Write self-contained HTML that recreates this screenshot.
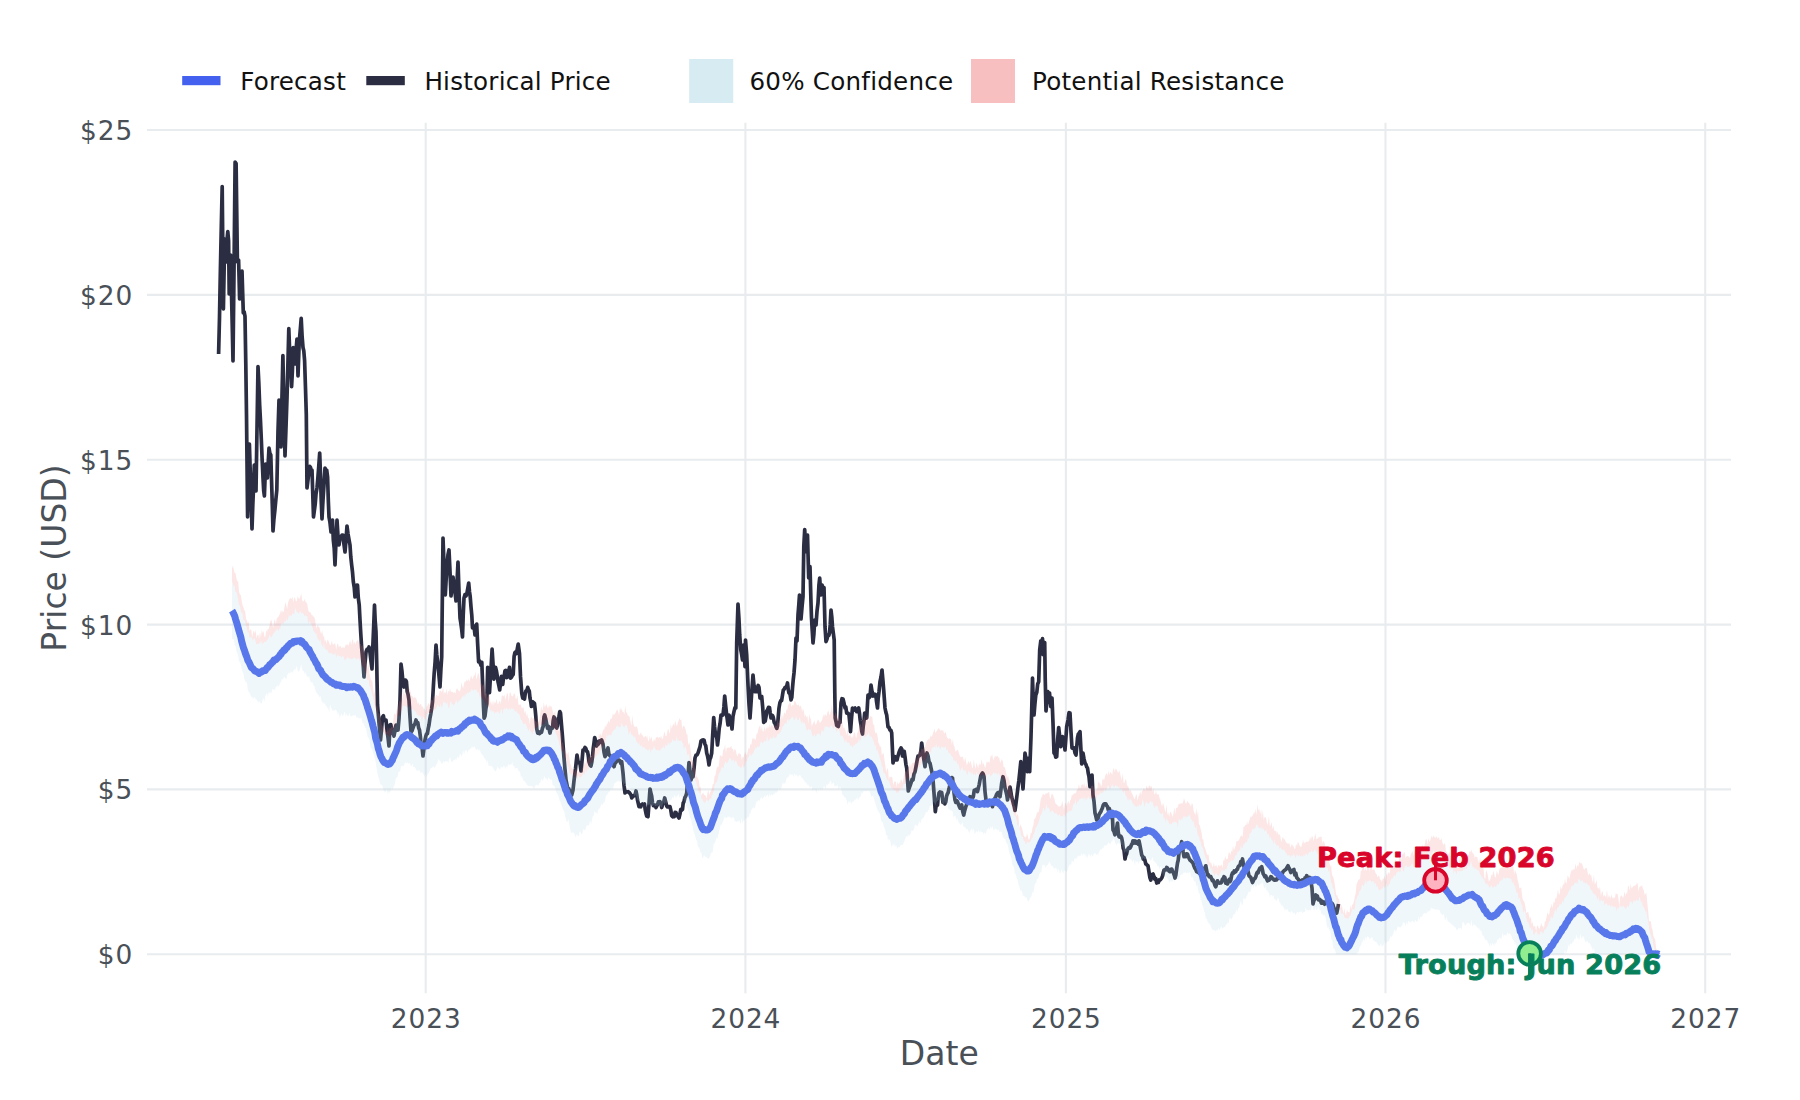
<!DOCTYPE html>
<html lang="en"><head><meta charset="utf-8"><title>Price Forecast</title>
<style>
html,body{margin:0;padding:0;background:#fff;}
body{width:1800px;height:1100px;overflow:hidden;}
svg{display:block;font-family:"DejaVu Sans","Liberation Sans",sans-serif;}
.tick{font-size:26.4px;fill:#495057;letter-spacing:0.9px;}
.axt{font-size:33px;fill:#495057;}
.leg{font-size:24.6px;fill:#111;letter-spacing:0.22px;}
.ann{font-size:27.2px;font-weight:bold;letter-spacing:0.15px;stroke-width:0.9px;stroke-linejoin:round;}
</style></head><body>
<svg width="1800" height="1100" viewBox="0 0 1800 1100">
<rect width="1800" height="1100" fill="#ffffff"/>
<g stroke="#e9ecef" stroke-width="2.1" fill="none"><line x1="147" x2="1731" y1="954.3" y2="954.3"/><line x1="147" x2="1731" y1="789.4" y2="789.4"/><line x1="147" x2="1731" y1="624.6" y2="624.6"/><line x1="147" x2="1731" y1="459.8" y2="459.8"/><line x1="147" x2="1731" y1="294.9" y2="294.9"/><line x1="147" x2="1731" y1="130.0" y2="130.0"/><line x1="425.7" x2="425.7" y1="122.7" y2="993.3"/><line x1="745.4" x2="745.4" y1="122.7" y2="993.3"/><line x1="1065.9" x2="1065.9" y1="122.7" y2="993.3"/><line x1="1385.5" x2="1385.5" y1="122.7" y2="993.3"/><line x1="1705.2" x2="1705.2" y1="122.7" y2="993.3"/></g>
<path d="M218.6,354.0 L219.5,317.5 L220.4,269.3 L221.3,226.7 L222.2,186.5 L223.4,309.0 L224.7,239.0 L226.0,262.0 L227.0,240.0 L227.8,231.6 L228.6,241.0 L229.2,294.0 L229.9,274.5 L230.6,255.0 L231.4,289.3 L232.2,324.0 L233.0,361.0 L234.1,262.5 L235.1,162.0 L236.1,163.5 L237.4,262.0 L238.6,260.0 L239.6,299.0 L240.4,291.0 L241.2,276.9 L242.0,271.0 L243.3,313.0 L244.2,312.0 L245.0,316.4 L245.8,364.1 L246.5,414.6 L247.6,517.0 L248.5,482.2 L249.4,444.0 L250.3,473.7 L251.1,497.5 L252.0,529.0 L252.8,505.0 L253.5,488.1 L254.3,465.0 L255.2,481.9 L256.0,491.0 L257.0,428.7 L258.0,366.5 L258.8,382.7 L259.7,405.9 L260.5,421.0 L261.3,439.2 L262.2,460.9 L263.0,478.0 L263.7,490.8 L264.4,496.0 L265.6,464.0 L266.5,472.6 L267.4,478.0 L268.2,463.2 L269.0,448.0 L269.9,453.4 L270.8,455.0 L271.5,478.7 L272.3,505.2 L273.0,531.0 L273.9,519.4 L274.9,510.0 L275.9,499.1 L276.8,490.0 L278.0,431.0 L279.0,400.0 L280.0,423.0 L281.0,447.0 L281.9,400.2 L282.9,355.6 L283.9,406.0 L285.0,456.0 L286.0,427.2 L287.0,398.0 L287.9,364.2 L288.8,328.6 L289.7,352.1 L290.7,362.9 L291.6,386.7 L292.4,370.8 L293.2,347.5 L294.0,355.0 L294.8,363.8 L295.5,351.9 L296.3,346.8 L297.0,339.0 L298.0,376.0 L299.2,342.5 L300.2,330.7 L301.2,318.3 L302.1,336.1 L303.0,347.5 L303.8,350.9 L304.6,360.6 L305.5,388.2 L306.3,414.6 L307.0,488.0 L308.0,479.8 L309.0,471.0 L309.7,466.4 L310.5,467.4 L311.2,470.0 L312.0,470.0 L312.8,495.0 L313.5,517.0 L314.3,511.0 L315.2,504.3 L316.0,494.0 L317.0,488.0 L317.9,477.7 L318.8,465.7 L319.7,453.0 L320.5,475.3 L321.2,499.9 L322.0,519.0 L323.0,500.0 L324.0,484.7 L325.0,468.0 L325.9,472.0 L326.7,470.1 L327.6,477.0 L328.3,500.2 L329.0,517.0 L330.0,522.7 L331.0,532.0 L331.8,525.8 L332.5,520.0 L333.3,539.9 L334.2,548.2 L335.0,565.0 L336.0,541.3 L337.0,520.0 L338.0,536.1 L339.0,545.0 L340.0,538.6 L341.0,537.0 L342.0,535.0 L343.0,535.0 L344.0,544.7 L345.0,552.0 L346.0,540.0 L347.0,526.0 L348.0,533.7 L349.0,539.5 L350.0,545.0 L350.8,557.0 L351.7,565.2 L352.5,572.0 L353.3,581.6 L354.2,587.2 L355.0,597.0 L355.8,591.5 L356.7,585.0 L357.5,585.0 L358.3,598.1 L359.2,604.7 L360.0,620.0 L360.8,634.0 L361.7,648.1 L362.5,657.0 L363.2,665.1 L364.0,677.0 L365.0,663.3 L366.0,652.0 L367.0,649.4 L368.0,650.2 L369.0,647.0 L370.0,652.7 L371.0,661.4 L372.0,669.0 L372.8,646.7 L373.7,625.8 L374.5,605.0 L375.2,621.0 L376.0,632.0 L376.8,666.8 L377.5,705.0 L378.5,716.8 L379.5,728.8 L380.5,740.0 L381.5,729.8 L382.5,717.0 L383.4,715.7 L384.2,720.3 L385.1,719.9 L386.0,720.0 L387.0,730.0 L388.0,737.4 L389.0,746.0 L390.0,725.0 L390.8,724.6 L391.6,728.4 L392.4,732.9 L393.2,733.9 L394.0,736.0 L395.0,730.4 L396.0,725.0 L397.0,730.3 L398.0,730.0 L399.0,718.6 L400.0,700.0 L401.0,664.0 L402.0,671.6 L403.0,682.7 L404.0,687.0 L404.8,680.0 L405.5,680.0 L406.4,681.5 L407.2,691.5 L408.1,694.6 L409.0,700.0 L410.0,716.9 L411.0,732.0 L412.0,730.8 L413.0,728.0 L414.0,725.2 L415.0,723.8 L416.0,720.0 L416.9,722.7 L417.8,722.6 L418.6,727.8 L419.5,730.0 L420.4,736.8 L421.2,745.8 L422.1,747.8 L423.0,756.0 L424.0,748.0 L425.0,740.0 L425.8,736.3 L426.6,733.8 L427.4,733.6 L428.2,728.6 L429.0,725.0 L429.9,718.5 L430.8,713.8 L431.6,709.0 L432.5,702.0 L433.4,686.0 L434.2,673.0 L435.1,662.1 L436.0,645.0 L436.8,655.0 L437.6,661.7 L438.4,669.3 L439.2,678.3 L440.0,687.0 L440.9,669.2 L441.7,657.0 L443.0,538.0 L443.8,559.1 L444.5,576.7 L445.3,595.0 L446.1,580.3 L447.0,565.0 L448.0,554.7 L449.0,550.0 L450.0,571.5 L451.0,596.0 L452.0,587.6 L453.0,577.0 L454.0,585.5 L455.0,592.0 L456.0,601.0 L457.0,582.6 L458.0,562.0 L459.0,591.9 L460.0,618.0 L460.8,623.0 L461.7,629.6 L462.5,637.0 L463.2,615.8 L464.0,598.0 L465.0,594.6 L466.0,596.0 L466.9,593.3 L467.8,588.4 L468.7,583.0 L469.5,591.7 L470.2,596.6 L471.0,607.0 L471.8,615.4 L472.5,628.0 L473.2,626.9 L474.0,626.0 L475.0,635.0 L475.9,628.7 L476.7,624.0 L477.6,643.1 L478.6,661.8 L479.4,660.7 L480.2,663.2 L481.0,665.4 L481.8,662.3 L482.7,685.5 L483.4,704.4 L484.1,718.2 L485.0,716.0 L485.9,708.6 L486.8,703.6 L487.7,667.3 L488.6,681.6 L489.5,692.7 L490.4,677.5 L491.2,665.3 L492.1,649.1 L493.0,663.4 L493.9,679.1 L494.7,672.3 L495.5,667.3 L496.4,670.7 L497.3,676.4 L498.1,682.2 L498.9,685.9 L499.7,690.0 L500.5,683.5 L501.4,676.4 L502.7,684.5 L503.5,678.0 L504.2,675.7 L505.0,670.9 L505.8,670.4 L506.7,677.6 L507.5,677.0 L508.5,671.9 L509.5,667.3 L510.5,678.2 L511.4,677.3 L512.3,675.5 L513.2,674.5 L514.1,656.4 L514.9,652.6 L515.6,652.0 L516.4,653.6 L517.3,648.8 L518.2,644.1 L519.5,653.6 L520.5,676.4 L521.8,693.6 L522.7,698.0 L523.6,695.4 L524.5,699.1 L525.2,693.8 L525.9,690.9 L526.8,690.5 L527.7,687.4 L528.6,690.0 L529.3,691.2 L530.0,698.2 L530.7,701.6 L531.4,706.4 L532.7,701.8 L533.6,702.6 L534.5,703.6 L535.2,709.8 L535.9,717.3 L536.8,729.1 L537.7,733.0 L538.6,731.8 L539.5,733.6 L540.5,732.3 L541.5,732.4 L542.5,728.0 L543.2,726.4 L544.0,716.8 L544.7,715.0 L545.7,718.9 L546.7,724.0 L547.5,728.1 L548.4,726.3 L549.2,729.3 L550.0,733.0 L550.8,729.3 L551.7,727.5 L552.5,728.0 L553.2,720.7 L554.0,717.0 L554.9,720.9 L555.8,726.3 L556.7,728.0 L557.5,725.4 L558.3,718.0 L559.0,716.4 L559.8,711.5 L560.5,713.0 L561.5,724.9 L562.5,737.0 L563.2,747.0 L564.0,758.0 L565.0,769.5 L566.0,780.0 L567.0,784.8 L568.0,790.0 L568.9,788.8 L569.9,793.1 L570.8,791.0 L571.7,795.0 L573.0,790.0 L573.9,781.6 L574.7,775.0 L575.5,768.8 L576.2,762.2 L577.0,755.0 L578.0,761.3 L579.0,763.0 L580.0,763.6 L581.0,771.0 L582.0,761.0 L583.0,750.0 L584.0,749.8 L585.0,747.5 L585.8,748.4 L586.7,751.3 L587.5,751.7 L588.2,755.1 L589.0,761.7 L590.0,764.8 L591.0,766.0 L591.8,762.1 L592.5,756.7 L593.2,748.8 L594.0,742.9 L594.7,737.5 L595.7,741.5 L596.7,746.0 L597.5,743.3 L598.2,744.3 L599.0,741.0 L599.9,740.9 L600.8,742.3 L601.7,740.0 L603.0,744.0 L604.0,752.1 L605.0,756.7 L606.0,753.9 L607.0,750.6 L608.0,748.0 L609.0,755.0 L609.9,755.3 L610.8,757.2 L611.7,760.0 L612.5,761.1 L613.2,765.0 L614.0,766.7 L615.0,763.2 L616.0,762.3 L617.0,760.0 L617.9,760.6 L618.9,760.0 L619.8,760.7 L620.8,763.5 L621.7,761.7 L623.0,773.0 L624.0,785.2 L625.0,793.0 L626.0,791.5 L627.0,791.9 L628.0,791.7 L629.0,792.3 L630.0,793.5 L631.0,795.0 L631.8,797.9 L632.5,796.7 L633.4,796.2 L634.2,795.5 L635.1,794.8 L636.0,791.0 L636.8,794.9 L637.5,800.0 L638.2,803.1 L639.0,806.7 L639.9,806.1 L640.8,806.7 L641.6,804.6 L642.5,804.0 L643.5,804.8 L644.5,804.0 L645.2,809.5 L646.0,813.5 L646.7,816.0 L648.0,816.7 L649.0,803.4 L650.0,789.0 L650.8,792.6 L651.7,796.3 L652.5,803.0 L653.4,805.6 L654.2,805.8 L655.1,805.2 L656.0,807.5 L656.8,805.7 L657.6,804.6 L658.4,801.8 L659.2,803.2 L660.0,801.7 L660.9,803.6 L661.7,807.5 L662.7,804.0 L663.7,802.1 L664.7,798.0 L665.7,801.9 L666.7,806.0 L667.5,806.9 L668.4,806.9 L669.2,806.6 L670.0,806.7 L670.8,810.1 L671.7,815.7 L672.5,816.7 L673.4,815.4 L674.2,816.6 L675.1,812.4 L676.0,812.5 L677.0,815.3 L678.0,816.4 L679.0,818.0 L679.9,814.4 L680.8,809.3 L681.7,810.0 L682.5,809.3 L683.2,803.0 L684.0,801.7 L684.9,797.5 L685.8,796.1 L686.7,793.0 L687.5,782.9 L688.2,773.1 L689.0,762.5 L690.0,770.9 L691.0,780.0 L692.0,776.3 L693.0,776.7 L694.0,768.6 L695.0,758.0 L696.0,755.0 L697.0,755.0 L698.0,753.0 L699.0,749.9 L700.0,746.8 L701.0,741.0 L702.0,740.3 L703.0,739.9 L704.0,740.0 L704.9,744.0 L705.8,745.9 L706.7,753.0 L707.5,755.9 L708.2,759.5 L709.0,765.0 L709.9,759.3 L710.8,757.2 L711.7,753.0 L712.7,734.8 L713.7,717.5 L714.5,726.2 L715.2,732.2 L716.0,736.0 L716.8,737.6 L717.5,745.0 L718.4,737.7 L719.2,728.4 L720.1,723.4 L721.0,715.0 L722.0,715.3 L723.0,715.0 L723.9,707.0 L724.7,696.0 L725.7,706.0 L726.7,715.0 L728.0,725.0 L729.0,715.0 L729.8,717.7 L730.5,718.0 L731.2,723.0 L732.0,729.0 L733.0,716.3 L734.0,711.7 L734.9,707.9 L735.8,708.0 L736.7,643.0 L738.0,604.0 L738.9,617.8 L739.7,635.0 L740.8,650.0 L741.6,654.1 L742.5,660.0 L743.5,645.0 L744.2,654.0 L745.0,666.7 L745.5,640.0 L746.7,655.0 L748.0,685.0 L749.0,704.2 L750.0,718.0 L750.9,705.2 L751.7,693.0 L753.0,675.0 L754.0,685.6 L755.0,691.7 L755.8,689.7 L756.7,691.7 L757.5,687.5 L758.2,685.4 L759.0,687.5 L760.0,698.0 L760.9,698.3 L761.7,696.5 L762.7,707.3 L763.7,722.5 L764.5,721.3 L765.2,721.2 L766.0,716.7 L766.8,710.7 L767.5,710.0 L768.5,707.3 L769.5,707.5 L770.2,713.1 L771.0,718.0 L771.8,717.5 L772.5,715.5 L773.3,717.5 L774.2,722.4 L775.1,723.7 L776.0,726.7 L776.8,728.4 L777.5,726.0 L778.2,717.5 L779.0,708.0 L779.9,702.8 L780.8,700.7 L781.6,700.6 L782.5,695.0 L783.3,690.1 L784.2,689.2 L785.0,687.5 L785.8,687.0 L786.7,686.3 L787.5,683.0 L788.2,689.4 L789.0,693.0 L790.0,694.0 L791.0,700.0 L791.8,697.5 L792.5,688.0 L793.2,680.2 L794.0,673.0 L795.0,660.0 L796.0,638.0 L797.0,641.0 L798.0,615.0 L798.8,605.0 L799.5,595.0 L800.2,607.0 L801.0,619.0 L802.0,607.4 L803.0,596.7 L803.8,546.7 L804.7,529.7 L806.0,551.7 L806.8,541.2 L807.5,535.0 L808.7,578.0 L810.0,566.7 L811.0,603.0 L811.5,618.0 L812.2,629.9 L813.0,643.0 L813.9,634.0 L814.7,620.0 L816.0,625.0 L817.0,611.3 L818.0,603.0 L818.9,585.5 L819.7,578.0 L820.8,595.0 L822.0,585.0 L823.0,587.4 L824.0,587.5 L825.0,626.7 L826.0,641.7 L827.0,639.0 L828.0,635.0 L828.8,635.4 L829.5,633.0 L830.2,624.9 L831.0,610.0 L831.8,616.9 L832.5,626.7 L833.4,633.7 L834.2,640.0 L834.8,693.0 L835.2,718.0 L836.0,721.5 L836.7,725.3 L837.5,726.0 L838.3,726.5 L839.2,722.3 L840.0,722.5 L841.0,703.0 L842.0,698.7 L843.0,699.0 L844.0,703.0 L845.0,708.0 L845.8,707.0 L846.7,713.1 L847.5,713.0 L848.2,713.4 L849.0,715.0 L849.8,722.8 L850.5,731.7 L851.5,718.4 L852.5,708.0 L853.3,710.5 L854.2,708.5 L855.0,708.0 L855.9,709.2 L856.7,711.7 L857.7,710.9 L858.7,708.0 L859.5,713.5 L860.2,720.3 L861.0,725.0 L861.8,731.6 L862.5,734.0 L863.2,726.6 L864.0,720.8 L864.7,713.0 L865.7,716.3 L866.7,718.0 L868.0,695.0 L869.0,697.7 L870.0,696.5 L871.0,685.0 L872.0,691.5 L873.0,696.0 L873.9,695.7 L874.9,694.2 L875.8,695.0 L876.6,702.0 L877.5,708.0 L878.2,698.1 L879.0,691.7 L880.0,681.7 L881.0,677.0 L882.0,670.0 L882.9,680.1 L883.7,690.0 L885.0,708.0 L885.9,712.4 L886.7,715.0 L888.0,726.7 L889.0,727.5 L890.0,730.0 L890.9,730.2 L891.7,733.0 L892.5,751.0 L893.0,763.0 L894.0,758.5 L895.0,756.7 L896.0,760.0 L897.0,760.0 L898.0,755.9 L899.0,752.5 L900.0,749.9 L901.0,748.0 L901.8,749.3 L902.5,756.0 L903.3,756.1 L904.2,751.4 L905.0,756.7 L905.9,764.3 L906.7,768.0 L907.5,780.0 L908.3,791.0 L909.2,788.0 L910.1,785.7 L911.0,783.0 L912.0,779.5 L913.0,780.0 L914.0,774.0 L915.0,772.0 L916.0,766.7 L917.0,761.0 L918.0,756.0 L919.0,756.1 L920.0,755.0 L920.9,750.9 L921.7,743.0 L923.0,753.0 L924.0,760.8 L925.0,766.7 L926.0,757.1 L927.0,753.0 L928.0,755.9 L929.0,761.7 L930.0,763.2 L931.0,768.0 L932.0,772.7 L933.0,780.0 L934.0,793.0 L935.3,811.7 L936.0,806.8 L936.8,804.6 L937.5,805.0 L938.2,798.0 L939.0,793.0 L939.9,792.0 L940.8,793.4 L941.7,792.5 L943.0,802.5 L943.9,801.8 L944.9,803.8 L945.8,801.7 L946.5,796.4 L947.3,794.1 L948.0,793.0 L949.0,789.0 L950.0,784.0 L951.0,780.0 L951.8,777.6 L952.5,778.0 L953.3,786.4 L954.2,794.1 L955.0,800.0 L955.8,802.3 L956.7,800.6 L957.5,801.7 L958.3,803.8 L959.2,806.2 L960.0,808.0 L960.9,806.6 L961.7,805.0 L962.7,811.3 L963.7,815.0 L964.8,810.2 L965.8,806.7 L966.5,804.9 L967.3,799.3 L968.0,800.0 L969.0,799.3 L970.0,796.7 L970.8,799.3 L971.7,797.5 L972.5,798.0 L973.3,796.7 L974.2,790.4 L975.0,790.0 L975.8,790.1 L976.7,789.1 L977.5,791.7 L978.3,788.2 L979.2,784.6 L980.0,780.0 L980.8,775.8 L981.7,774.1 L982.5,773.0 L983.2,774.0 L984.0,776.7 L985.0,791.6 L986.0,800.0 L986.8,800.5 L987.5,801.3 L988.3,801.7 L989.1,803.2 L990.0,804.1 L990.8,804.4 L991.7,804.0 L992.5,806.7 L993.3,802.9 L994.2,803.0 L995.0,798.0 L995.8,796.7 L996.7,794.2 L997.5,793.0 L998.3,792.4 L999.2,795.4 L1000.0,796.7 L1000.9,789.9 L1001.7,783.0 L1003.0,776.7 L1004.0,780.8 L1005.0,787.9 L1006.0,791.7 L1006.8,795.1 L1007.5,800.0 L1008.3,795.4 L1009.2,792.5 L1010.0,787.0 L1010.8,791.6 L1011.7,797.2 L1012.5,800.0 L1013.3,803.2 L1014.2,806.4 L1015.0,810.5 L1016.0,803.3 L1017.0,795.1 L1018.0,787.0 L1018.9,780.2 L1019.9,770.7 L1020.8,761.7 L1021.5,770.8 L1022.3,780.5 L1023.0,789.0 L1024.0,771.9 L1025.0,753.0 L1025.8,757.6 L1026.7,765.3 L1027.5,771.7 L1028.7,758.0 L1029.7,771.7 L1031.0,736.7 L1031.8,706.8 L1032.5,678.0 L1033.2,698.5 L1034.0,715.0 L1034.9,704.2 L1035.8,695.0 L1036.8,692.4 L1037.7,683.9 L1038.7,681.7 L1039.7,650.0 L1040.8,640.8 L1041.6,654.0 L1042.5,638.7 L1043.6,655.0 L1044.7,642.5 L1045.2,678.0 L1046.0,711.0 L1046.9,701.3 L1047.8,691.7 L1048.7,694.2 L1049.5,693.0 L1050.8,706.7 L1052.0,698.0 L1053.0,723.0 L1054.0,753.0 L1054.9,753.8 L1055.8,757.2 L1056.7,756.7 L1057.7,739.0 L1058.7,727.5 L1059.8,737.1 L1060.8,746.7 L1061.7,741.9 L1062.5,736.7 L1063.3,740.9 L1064.2,743.3 L1065.0,750.0 L1065.8,739.4 L1066.7,726.7 L1068.0,720.0 L1069.0,712.7 L1070.0,713.0 L1071.0,732.0 L1072.0,748.0 L1073.0,748.4 L1074.0,748.0 L1075.0,753.0 L1076.0,755.0 L1076.8,746.1 L1077.5,738.0 L1078.3,734.2 L1079.2,733.0 L1080.0,731.7 L1080.8,747.2 L1081.7,764.0 L1083.0,753.0 L1084.0,758.9 L1085.0,763.0 L1085.8,764.2 L1086.7,766.9 L1087.5,768.0 L1088.2,773.0 L1089.0,776.7 L1090.0,786.7 L1091.0,782.8 L1092.0,775.0 L1093.0,795.0 L1094.0,801.4 L1095.0,813.0 L1095.8,816.0 L1096.7,820.0 L1097.5,819.2 L1098.3,817.6 L1099.2,814.3 L1100.0,813.0 L1100.8,811.7 L1101.6,809.7 L1102.4,808.0 L1103.2,805.2 L1104.0,804.0 L1104.9,803.8 L1105.8,803.8 L1106.7,805.8 L1107.5,806.6 L1108.3,810.1 L1109.2,808.4 L1110.0,810.8 L1110.8,814.4 L1111.7,818.1 L1112.5,818.0 L1113.0,830.0 L1113.9,831.3 L1114.9,834.8 L1115.8,833.0 L1116.7,827.9 L1117.5,823.0 L1118.2,831.9 L1119.0,836.7 L1119.9,837.1 L1120.8,836.2 L1121.7,838.0 L1122.5,842.4 L1123.2,848.2 L1124.0,850.0 L1125.0,859.0 L1125.8,855.4 L1126.7,853.6 L1127.5,850.0 L1128.3,848.1 L1129.2,847.4 L1130.0,848.1 L1130.8,846.7 L1131.5,844.6 L1132.3,843.5 L1133.0,840.8 L1133.9,843.1 L1134.9,841.0 L1135.8,843.0 L1136.6,841.7 L1137.4,842.0 L1138.2,844.1 L1139.0,840.8 L1139.9,845.2 L1140.8,849.8 L1141.7,855.0 L1142.5,856.4 L1143.2,859.1 L1144.0,857.5 L1144.9,860.2 L1145.8,864.0 L1146.5,864.3 L1147.3,865.3 L1148.0,865.8 L1148.9,871.4 L1149.9,877.6 L1150.8,880.0 L1151.5,876.8 L1152.3,874.4 L1153.0,874.0 L1153.9,876.5 L1154.8,879.1 L1155.8,878.6 L1156.7,883.0 L1157.5,881.6 L1158.4,882.4 L1159.2,880.0 L1160.0,880.2 L1160.9,879.1 L1161.7,878.0 L1162.5,876.1 L1163.2,873.2 L1164.0,870.0 L1164.9,869.5 L1165.8,869.8 L1166.7,867.5 L1167.5,868.2 L1168.2,870.1 L1169.0,871.0 L1169.9,871.6 L1170.8,869.2 L1171.7,869.0 L1172.5,871.0 L1173.3,872.8 L1174.2,874.9 L1175.0,878.0 L1175.8,875.2 L1176.7,868.6 L1177.5,863.0 L1178.2,860.2 L1179.0,853.0 L1179.9,850.2 L1180.8,845.7 L1181.7,841.7 L1182.5,846.5 L1183.2,852.1 L1184.0,856.7 L1184.9,856.1 L1185.8,856.5 L1186.6,853.8 L1187.5,854.0 L1188.3,856.3 L1189.2,858.6 L1190.0,860.0 L1191.0,860.9 L1192.0,861.9 L1193.0,863.0 L1193.9,865.9 L1194.8,868.1 L1195.8,869.5 L1196.7,871.7 L1197.5,872.1 L1198.3,871.9 L1199.2,873.4 L1200.0,873.0 L1201.0,872.0 L1202.0,869.5 L1203.0,870.0 L1203.9,868.4 L1204.9,868.0 L1205.8,865.8 L1206.7,870.8 L1207.5,875.0 L1208.3,874.6 L1209.2,876.7 L1210.0,877.0 L1210.8,876.7 L1211.5,878.5 L1212.3,880.5 L1213.0,880.0 L1213.9,882.0 L1214.9,885.2 L1215.8,886.7 L1216.7,883.6 L1217.5,880.8 L1218.3,882.4 L1219.2,883.1 L1220.0,883.0 L1220.8,883.0 L1221.6,882.2 L1222.4,879.1 L1223.2,879.0 L1224.0,876.7 L1224.9,877.6 L1225.8,883.2 L1226.7,883.0 L1227.5,883.9 L1228.3,880.9 L1229.2,879.4 L1230.0,881.7 L1230.8,880.2 L1231.7,875.1 L1232.5,873.0 L1233.3,873.3 L1234.2,871.0 L1235.0,872.1 L1235.8,871.7 L1236.6,869.6 L1237.4,869.4 L1238.2,866.9 L1239.0,865.8 L1239.9,865.7 L1240.8,861.6 L1241.6,862.1 L1242.5,859.0 L1243.2,862.9 L1244.0,866.7 L1245.0,868.7 L1246.0,867.9 L1247.0,871.0 L1248.0,871.1 L1249.0,875.9 L1250.0,876.7 L1250.8,877.4 L1251.7,880.2 L1252.5,882.5 L1253.3,880.7 L1254.2,878.7 L1255.0,878.4 L1255.8,876.7 L1256.6,873.6 L1257.4,872.1 L1258.2,872.7 L1259.0,870.0 L1259.9,868.1 L1260.8,868.6 L1261.7,866.7 L1262.5,870.2 L1263.2,873.8 L1264.0,875.0 L1264.9,876.9 L1265.8,876.0 L1266.6,878.7 L1267.5,880.8 L1268.3,879.4 L1269.2,880.0 L1270.0,878.1 L1270.8,876.7 L1271.6,877.0 L1272.4,878.8 L1273.2,878.8 L1274.0,880.0 L1274.8,880.2 L1275.6,879.4 L1276.4,879.9 L1277.2,878.7 L1278.0,878.0 L1278.9,878.3 L1279.8,876.5 L1280.8,876.5 L1281.7,875.0 L1283.0,871.7 L1284.0,870.7 L1285.0,870.0 L1286.0,869.3 L1287.0,867.4 L1288.0,865.8 L1288.9,867.9 L1289.9,869.8 L1290.8,872.5 L1291.5,871.4 L1292.3,871.3 L1293.0,870.0 L1293.9,869.5 L1294.8,875.0 L1295.8,873.2 L1296.7,877.5 L1297.5,878.4 L1298.3,879.3 L1299.2,881.4 L1300.0,881.7 L1300.8,881.3 L1301.7,880.4 L1302.5,879.9 L1303.3,880.2 L1304.2,881.0 L1305.0,878.0 L1305.8,878.3 L1306.7,875.7 L1307.5,877.3 L1308.3,878.1 L1309.2,881.0 L1310.0,877.5 L1311.0,882.0 L1312.0,888.0 L1313.0,904.0 L1313.9,900.6 L1314.9,898.5 L1315.8,895.0 L1316.6,896.6 L1317.4,896.2 L1318.2,899.7 L1319.0,900.0 L1319.8,899.4 L1320.6,900.9 L1321.4,903.0 L1322.2,901.2 L1323.0,903.0 L1323.8,902.5 L1324.6,904.2 L1325.4,902.2 L1326.2,901.2 L1327.0,902.0 L1327.9,901.9 L1328.7,903.6 L1329.6,901.8 L1330.4,903.1 L1331.3,902.8 L1332.1,903.5 L1333.0,905.0 L1333.9,908.2 L1334.8,908.9 L1335.8,910.6 L1336.7,913.0 L1337.6,908.9 L1338.5,904.0" fill="none" stroke="#2b2d42" stroke-width="3.7" stroke-linejoin="round" stroke-linecap="butt"/>
<path d="M232.0,581.7 L232.9,582.8 L233.8,587.0 L234.6,585.2 L235.5,591.9 L236.4,592.1 L237.3,595.0 L238.1,599.6 L239.0,605.4 L239.9,604.5 L240.8,610.6 L241.6,612.8 L242.5,613.0 L243.4,619.9 L244.3,619.9 L245.1,621.6 L246.0,625.4 L246.9,628.0 L247.8,632.4 L248.6,632.2 L249.5,637.8 L250.4,637.2 L251.3,637.0 L252.1,638.0 L253.0,640.9 L253.9,638.0 L254.8,638.5 L255.6,641.4 L256.5,644.4 L257.4,644.0 L258.3,644.0 L259.1,643.7 L260.0,640.4 L260.9,643.4 L261.8,640.7 L262.7,644.7 L263.5,642.8 L264.4,642.0 L265.3,642.1 L266.2,641.2 L267.0,640.1 L267.9,639.4 L268.8,636.9 L269.7,634.7 L270.5,636.6 L271.4,637.5 L272.3,635.9 L273.2,632.9 L274.0,633.5 L274.9,630.9 L275.8,631.4 L276.7,628.9 L277.5,629.3 L278.4,631.6 L279.3,628.6 L280.2,629.0 L281.0,624.1 L281.9,623.3 L282.8,623.4 L283.7,623.3 L284.5,621.0 L285.4,622.0 L286.3,618.4 L287.2,620.6 L288.1,619.1 L288.9,614.7 L289.8,616.8 L290.7,614.7 L291.6,616.2 L292.4,613.0 L293.3,614.0 L294.2,614.0 L295.1,608.1 L295.9,609.3 L296.8,612.6 L297.7,612.0 L298.6,614.0 L299.4,612.8 L300.3,610.5 L301.2,613.6 L302.1,612.3 L302.9,613.8 L303.8,614.2 L304.7,616.6 L305.6,614.6 L306.4,616.3 L307.3,615.7 L308.2,624.4 L309.1,620.5 L309.9,622.1 L310.8,623.1 L311.7,625.5 L312.6,627.4 L313.4,630.7 L314.3,631.6 L315.2,633.4 L316.1,633.5 L317.0,635.9 L317.8,639.7 L318.7,639.2 L319.6,641.2 L320.5,638.7 L321.3,644.4 L322.2,645.3 L323.1,648.3 L324.0,642.6 L324.8,648.3 L325.7,649.0 L326.6,650.2 L327.5,649.8 L328.3,652.0 L329.2,653.5 L330.1,653.0 L331.0,653.0 L331.8,653.6 L332.7,653.8 L333.6,655.0 L334.5,654.1 L335.3,652.3 L336.2,658.3 L337.1,653.4 L338.0,656.4 L338.8,654.7 L339.7,656.7 L340.6,655.7 L341.5,657.5 L342.4,656.3 L343.2,655.7 L344.1,658.6 L345.0,660.5 L345.9,658.9 L346.7,658.6 L347.6,656.7 L348.5,658.3 L349.4,659.2 L350.2,657.4 L351.1,660.0 L352.0,658.3 L352.9,658.9 L353.7,657.4 L354.6,657.5 L355.5,658.8 L356.4,659.3 L357.2,659.6 L358.1,657.8 L359.0,659.0 L359.9,661.1 L360.7,659.1 L361.6,665.4 L362.5,665.7 L363.4,667.0 L364.2,667.8 L365.1,672.7 L366.0,673.4 L366.9,679.7 L367.7,680.0 L368.6,679.6 L369.5,686.3 L370.4,687.1 L371.3,690.1 L372.1,693.7 L373.0,697.2 L373.9,701.3 L374.8,705.9 L375.6,709.2 L376.5,711.0 L377.4,713.6 L378.3,718.0 L379.1,723.1 L380.0,726.8 L380.9,730.8 L381.8,727.6 L382.6,731.8 L383.5,732.6 L384.4,733.3 L385.3,735.0 L386.1,734.7 L387.0,734.9 L387.9,734.3 L388.8,735.9 L389.6,736.6 L390.5,736.9 L391.4,732.2 L392.3,730.0 L393.1,729.7 L394.0,726.7 L394.9,727.6 L395.8,722.1 L396.7,721.2 L397.5,716.5 L398.4,716.1 L399.3,715.1 L400.2,715.7 L401.0,710.4 L401.9,710.8 L402.8,705.5 L403.7,706.0 L404.5,705.9 L405.4,705.9 L406.3,707.1 L407.2,707.2 L408.0,703.4 L408.9,707.3 L409.8,704.9 L410.7,710.4 L411.5,708.5 L412.4,709.1 L413.3,709.4 L414.2,710.5 L415.0,711.4 L415.9,711.1 L416.8,714.4 L417.7,714.4 L418.5,715.9 L419.4,715.2 L420.3,717.1 L421.2,715.2 L422.0,723.1 L422.9,716.2 L423.8,716.9 L424.7,719.3 L425.6,719.7 L426.4,715.8 L427.3,713.7 L428.2,713.3 L429.1,713.0 L429.9,712.3 L430.8,712.2 L431.7,713.2 L432.6,712.2 L433.4,708.3 L434.3,709.3 L435.2,709.1 L436.1,709.2 L436.9,705.9 L437.8,704.3 L438.7,706.3 L439.6,707.2 L440.4,703.4 L441.3,707.3 L442.2,706.7 L443.1,703.2 L443.9,701.0 L444.8,702.6 L445.7,703.1 L446.6,704.6 L447.4,700.9 L448.3,708.0 L449.2,707.9 L450.1,702.7 L450.9,700.7 L451.8,703.5 L452.7,704.3 L453.6,705.7 L454.5,704.3 L455.3,702.5 L456.2,699.1 L457.1,702.8 L458.0,702.8 L458.8,700.3 L459.7,700.6 L460.6,699.7 L461.5,698.2 L462.3,695.9 L463.2,697.6 L464.1,693.8 L465.0,697.8 L465.8,693.1 L466.7,694.7 L467.6,692.0 L468.5,693.2 L469.3,691.7 L470.2,692.6 L471.1,690.0 L472.0,688.4 L472.8,690.6 L473.7,690.6 L474.6,688.7 L475.5,690.3 L476.3,688.9 L477.2,692.3 L478.1,692.0 L479.0,693.3 L479.9,698.6 L480.7,695.6 L481.6,697.3 L482.5,699.1 L483.4,699.3 L484.2,700.1 L485.1,704.0 L486.0,705.6 L486.9,700.2 L487.7,706.0 L488.6,706.8 L489.5,707.4 L490.4,711.4 L491.2,709.2 L492.1,712.4 L493.0,710.7 L493.9,711.5 L494.7,713.8 L495.6,711.7 L496.5,712.8 L497.4,711.2 L498.2,711.3 L499.1,713.8 L500.0,713.1 L500.9,709.7 L501.7,709.1 L502.6,714.9 L503.5,709.0 L504.4,708.1 L505.2,710.0 L506.1,707.5 L507.0,707.9 L507.9,709.8 L508.8,709.8 L509.6,707.7 L510.5,710.4 L511.4,708.0 L512.3,708.2 L513.1,709.0 L514.0,709.1 L514.9,711.2 L515.8,711.6 L516.6,710.7 L517.5,713.4 L518.4,713.3 L519.3,714.5 L520.1,716.5 L521.0,719.8 L521.9,719.9 L522.8,722.9 L523.6,724.8 L524.5,723.4 L525.4,723.6 L526.3,724.5 L527.1,727.4 L528.0,729.3 L528.9,731.4 L529.8,727.1 L530.6,731.5 L531.5,732.1 L532.4,734.7 L533.3,730.9 L534.2,730.5 L535.0,727.7 L535.9,728.6 L536.8,727.4 L537.7,726.9 L538.5,726.2 L539.4,724.2 L540.3,725.7 L541.2,725.6 L542.0,725.3 L542.9,723.1 L543.8,724.4 L544.7,723.8 L545.5,719.1 L546.4,720.9 L547.3,719.3 L548.2,719.9 L549.0,722.3 L549.9,722.5 L550.8,726.1 L551.7,728.3 L552.5,727.0 L553.4,727.6 L554.3,729.6 L555.2,731.8 L556.0,734.8 L556.9,734.8 L557.8,739.3 L558.7,740.2 L559.5,744.9 L560.4,748.0 L561.3,751.2 L562.2,750.7 L563.1,751.3 L563.9,753.4 L564.8,758.3 L565.7,758.9 L566.6,760.8 L567.4,765.2 L568.3,766.2 L569.2,770.9 L570.1,774.8 L570.9,772.8 L571.8,775.1 L572.7,773.2 L573.6,777.2 L574.4,776.5 L575.3,776.4 L576.2,775.4 L577.1,781.3 L577.9,775.7 L578.8,776.1 L579.7,777.6 L580.6,777.5 L581.4,776.8 L582.3,775.6 L583.2,773.0 L584.1,774.8 L584.9,772.8 L585.8,768.9 L586.7,773.0 L587.6,768.5 L588.5,769.5 L589.3,764.2 L590.2,763.4 L591.1,763.1 L592.0,761.6 L592.8,763.1 L593.7,757.2 L594.6,758.8 L595.5,755.4 L596.3,756.6 L597.2,754.7 L598.1,752.1 L599.0,755.5 L599.8,750.3 L600.7,750.9 L601.6,745.5 L602.5,746.2 L603.3,745.3 L604.2,744.0 L605.1,741.7 L606.0,739.4 L606.8,734.0 L607.7,736.8 L608.6,734.7 L609.5,734.4 L610.3,734.9 L611.2,735.9 L612.1,731.8 L613.0,731.6 L613.8,730.0 L614.7,729.4 L615.6,728.4 L616.5,726.2 L617.4,725.4 L618.2,725.9 L619.1,727.9 L620.0,725.9 L620.9,727.2 L621.7,722.4 L622.6,725.5 L623.5,726.4 L624.4,727.4 L625.2,725.0 L626.1,725.2 L627.0,725.6 L627.9,729.5 L628.7,735.1 L629.6,732.4 L630.5,731.0 L631.4,734.6 L632.2,734.7 L633.1,736.6 L634.0,736.7 L634.9,736.4 L635.7,738.9 L636.6,742.1 L637.5,742.5 L638.4,745.0 L639.2,741.9 L640.1,746.3 L641.0,745.3 L641.9,746.1 L642.8,748.5 L643.6,746.6 L644.5,747.7 L645.4,748.8 L646.3,749.1 L647.1,749.7 L648.0,750.8 L648.9,749.8 L649.8,748.3 L650.6,753.4 L651.5,749.3 L652.4,750.1 L653.3,748.3 L654.1,745.9 L655.0,748.3 L655.9,749.7 L656.8,750.4 L657.6,749.4 L658.5,750.5 L659.4,750.7 L660.3,750.4 L661.1,748.5 L662.0,748.3 L662.9,747.4 L663.8,745.9 L664.6,749.3 L665.5,744.3 L666.4,745.7 L667.3,745.7 L668.1,741.0 L669.0,745.3 L669.9,742.8 L670.8,743.0 L671.7,741.4 L672.5,738.6 L673.4,740.9 L674.3,740.2 L675.2,741.2 L676.0,740.0 L676.9,736.2 L677.8,740.9 L678.7,740.6 L679.5,741.0 L680.4,741.1 L681.3,739.9 L682.2,743.0 L683.0,742.8 L683.9,749.8 L684.8,746.2 L685.7,746.6 L686.5,750.1 L687.4,755.5 L688.3,754.6 L689.2,754.2 L690.0,763.7 L690.9,764.7 L691.8,766.3 L692.7,771.4 L693.5,771.6 L694.4,774.2 L695.3,780.8 L696.2,781.3 L697.0,786.0 L697.9,788.0 L698.8,792.2 L699.7,793.6 L700.6,792.3 L701.4,798.9 L702.3,798.5 L703.2,801.8 L704.1,801.2 L704.9,803.8 L705.8,801.0 L706.7,799.2 L707.6,800.8 L708.4,801.7 L709.3,799.4 L710.2,798.0 L711.1,799.6 L711.9,794.8 L712.8,794.6 L713.7,790.6 L714.6,785.4 L715.4,783.7 L716.3,782.3 L717.2,781.0 L718.1,776.8 L718.9,773.5 L719.8,772.0 L720.7,770.7 L721.6,768.1 L722.4,766.7 L723.3,769.1 L724.2,764.9 L725.1,761.8 L726.0,762.1 L726.8,764.1 L727.7,762.0 L728.6,760.4 L729.5,758.2 L730.3,757.7 L731.2,760.3 L732.1,761.2 L733.0,759.1 L733.8,760.2 L734.7,763.0 L735.6,759.9 L736.5,761.3 L737.3,764.6 L738.2,766.1 L739.1,766.0 L740.0,767.3 L740.8,768.2 L741.7,766.9 L742.6,764.6 L743.5,768.1 L744.3,766.7 L745.2,764.6 L746.1,760.7 L747.0,761.7 L747.8,756.2 L748.7,758.0 L749.6,753.0 L750.5,755.1 L751.3,756.2 L752.2,753.2 L753.1,754.5 L754.0,750.5 L754.9,749.5 L755.7,747.6 L756.6,747.9 L757.5,746.0 L758.4,747.1 L759.2,746.9 L760.1,744.0 L761.0,740.7 L761.9,742.8 L762.7,743.5 L763.6,741.7 L764.5,740.6 L765.4,741.2 L766.2,741.5 L767.1,734.5 L768.0,741.3 L768.9,739.9 L769.7,739.2 L770.6,737.3 L771.5,738.4 L772.4,738.9 L773.2,735.0 L774.1,738.4 L775.0,736.7 L775.9,738.5 L776.7,736.4 L777.6,734.2 L778.5,733.7 L779.4,733.7 L780.3,731.8 L781.1,731.4 L782.0,728.1 L782.9,726.0 L783.8,726.0 L784.6,723.3 L785.5,723.2 L786.4,724.0 L787.3,719.5 L788.1,719.2 L789.0,721.6 L789.9,718.8 L790.8,719.1 L791.6,716.7 L792.5,716.8 L793.4,717.9 L794.3,721.1 L795.1,719.1 L796.0,715.5 L796.9,719.1 L797.8,720.1 L798.6,720.0 L799.5,717.2 L800.4,719.8 L801.3,724.4 L802.1,720.2 L803.0,723.4 L803.9,722.8 L804.8,723.1 L805.6,725.8 L806.5,729.4 L807.4,730.8 L808.3,728.3 L809.2,730.0 L810.0,730.1 L810.9,728.8 L811.8,733.9 L812.7,736.0 L813.5,736.3 L814.4,733.2 L815.3,736.4 L816.2,736.1 L817.0,733.7 L817.9,734.1 L818.8,733.2 L819.7,733.9 L820.5,736.1 L821.4,730.7 L822.3,729.5 L823.2,732.3 L824.0,730.1 L824.9,726.0 L825.8,726.7 L826.7,726.4 L827.5,726.2 L828.4,727.4 L829.3,728.2 L830.2,726.0 L831.0,726.5 L831.9,725.0 L832.8,728.2 L833.7,729.1 L834.6,726.9 L835.4,726.7 L836.3,732.3 L837.2,731.2 L838.1,729.2 L838.9,728.9 L839.8,732.5 L840.7,736.4 L841.6,734.8 L842.4,736.6 L843.3,737.5 L844.2,740.7 L845.1,743.1 L845.9,739.6 L846.8,742.1 L847.7,742.9 L848.6,742.8 L849.4,742.3 L850.3,746.2 L851.2,745.3 L852.1,746.5 L852.9,747.8 L853.8,744.5 L854.7,745.7 L855.6,743.6 L856.4,743.4 L857.3,743.3 L858.2,741.4 L859.1,738.1 L859.9,742.3 L860.8,739.0 L861.7,735.9 L862.6,733.2 L863.5,736.2 L864.3,736.7 L865.2,736.8 L866.1,736.5 L867.0,733.7 L867.8,735.4 L868.7,731.9 L869.6,735.3 L870.5,737.3 L871.3,735.8 L872.2,737.9 L873.1,740.0 L874.0,742.0 L874.8,746.5 L875.7,744.6 L876.6,751.2 L877.5,749.4 L878.3,753.1 L879.2,755.5 L880.1,759.4 L881.0,761.3 L881.8,765.6 L882.7,767.3 L883.6,773.5 L884.5,772.8 L885.3,774.0 L886.2,777.3 L887.1,779.8 L888.0,780.4 L888.8,780.6 L889.7,782.9 L890.6,786.0 L891.5,788.5 L892.4,789.0 L893.2,788.9 L894.1,790.7 L895.0,789.4 L895.9,791.0 L896.7,793.1 L897.6,792.5 L898.5,792.8 L899.4,789.5 L900.2,790.0 L901.1,787.3 L902.0,789.8 L902.9,786.5 L903.7,783.8 L904.6,784.0 L905.5,783.9 L906.4,778.3 L907.2,778.3 L908.1,781.2 L909.0,778.5 L909.9,777.1 L910.7,773.5 L911.6,777.9 L912.5,776.0 L913.4,774.6 L914.2,770.6 L915.1,772.5 L916.0,772.5 L916.9,769.0 L917.8,768.1 L918.6,766.6 L919.5,767.3 L920.4,764.8 L921.3,763.4 L922.1,760.3 L923.0,758.6 L923.9,761.7 L924.8,761.5 L925.6,759.0 L926.5,758.6 L927.4,754.1 L928.3,753.7 L929.1,753.3 L930.0,751.3 L930.9,753.4 L931.8,747.4 L932.6,747.8 L933.5,747.4 L934.4,746.1 L935.3,748.2 L936.1,742.8 L937.0,747.8 L937.9,747.1 L938.8,745.9 L939.6,747.7 L940.5,749.4 L941.4,745.9 L942.3,747.2 L943.1,747.0 L944.0,747.8 L944.9,746.7 L945.8,747.1 L946.7,750.2 L947.5,749.2 L948.4,752.7 L949.3,753.6 L950.2,752.7 L951.0,755.3 L951.9,756.2 L952.8,757.2 L953.7,760.7 L954.5,760.2 L955.4,761.9 L956.3,759.5 L957.2,765.0 L958.0,762.6 L958.9,765.4 L959.8,769.7 L960.7,770.8 L961.5,767.9 L962.4,767.1 L963.3,770.6 L964.2,769.8 L965.0,771.6 L965.9,769.2 L966.8,773.9 L967.7,775.0 L968.5,770.3 L969.4,771.8 L970.3,772.3 L971.2,775.1 L972.1,770.8 L972.9,774.8 L973.8,774.3 L974.7,773.6 L975.6,776.3 L976.4,772.0 L977.3,773.2 L978.2,774.3 L979.1,776.9 L979.9,775.2 L980.8,774.4 L981.7,776.6 L982.6,774.9 L983.4,774.5 L984.3,775.0 L985.2,775.9 L986.1,779.7 L986.9,773.1 L987.8,775.2 L988.7,774.3 L989.6,773.9 L990.4,776.7 L991.3,775.2 L992.2,774.9 L993.1,772.8 L993.9,772.1 L994.8,774.1 L995.7,773.2 L996.6,772.9 L997.4,775.3 L998.3,772.5 L999.2,773.9 L1000.1,777.2 L1001.0,776.5 L1001.8,778.8 L1002.7,777.4 L1003.6,781.6 L1004.5,780.9 L1005.3,786.6 L1006.2,788.1 L1007.1,790.3 L1008.0,795.1 L1008.8,796.2 L1009.7,797.6 L1010.6,804.4 L1011.5,805.4 L1012.3,809.9 L1013.2,811.1 L1014.1,815.7 L1015.0,815.2 L1015.8,817.3 L1016.7,819.9 L1017.6,826.3 L1018.5,824.3 L1019.3,829.8 L1020.2,829.9 L1021.1,834.8 L1022.0,837.0 L1022.8,836.5 L1023.7,840.7 L1024.6,841.1 L1025.5,843.7 L1026.4,843.9 L1027.2,841.6 L1028.1,843.1 L1029.0,842.0 L1029.9,842.3 L1030.7,840.6 L1031.6,838.6 L1032.5,837.8 L1033.4,834.4 L1034.2,833.2 L1035.1,829.5 L1036.0,826.8 L1036.9,826.2 L1037.7,823.9 L1038.6,822.2 L1039.5,819.0 L1040.4,815.6 L1041.2,814.4 L1042.1,812.7 L1043.0,808.1 L1043.9,808.0 L1044.7,811.7 L1045.6,808.4 L1046.5,803.4 L1047.4,808.0 L1048.2,808.5 L1049.1,806.4 L1050.0,812.7 L1050.9,811.2 L1051.7,811.2 L1052.6,810.2 L1053.5,812.0 L1054.4,813.3 L1055.3,813.5 L1056.1,812.3 L1057.0,814.4 L1057.9,814.9 L1058.8,815.7 L1059.6,813.8 L1060.5,816.3 L1061.4,816.1 L1062.3,816.5 L1063.1,816.3 L1064.0,813.3 L1064.9,816.8 L1065.8,816.1 L1066.6,811.9 L1067.5,813.2 L1068.4,811.0 L1069.3,810.6 L1070.1,811.9 L1071.0,809.9 L1071.9,811.0 L1072.8,806.6 L1073.6,803.3 L1074.5,804.3 L1075.4,799.0 L1076.3,805.2 L1077.1,801.9 L1078.0,801.6 L1078.9,800.5 L1079.8,798.4 L1080.7,799.2 L1081.5,797.8 L1082.4,798.1 L1083.3,799.4 L1084.2,796.7 L1085.0,801.5 L1085.9,796.9 L1086.8,800.1 L1087.7,797.6 L1088.5,796.5 L1089.4,799.3 L1090.3,798.9 L1091.2,798.1 L1092.0,798.3 L1092.9,797.3 L1093.8,798.9 L1094.7,797.1 L1095.5,797.7 L1096.4,799.2 L1097.3,794.7 L1098.2,795.5 L1099.0,794.7 L1099.9,793.9 L1100.8,792.2 L1101.7,793.2 L1102.5,793.1 L1103.4,791.7 L1104.3,788.3 L1105.2,791.2 L1106.0,790.3 L1106.9,788.4 L1107.8,785.8 L1108.7,785.4 L1109.6,789.6 L1110.4,788.8 L1111.3,786.3 L1112.2,783.8 L1113.1,787.3 L1113.9,785.5 L1114.8,788.1 L1115.7,784.5 L1116.6,786.5 L1117.4,785.8 L1118.3,788.0 L1119.2,786.3 L1120.1,789.7 L1120.9,788.4 L1121.8,788.6 L1122.7,792.1 L1123.6,792.6 L1124.4,789.8 L1125.3,794.5 L1126.2,795.9 L1127.1,797.2 L1127.9,801.6 L1128.8,798.2 L1129.7,800.4 L1130.6,798.7 L1131.4,800.1 L1132.3,802.5 L1133.2,803.9 L1134.1,804.4 L1134.9,806.2 L1135.8,806.6 L1136.7,807.2 L1137.6,805.2 L1138.5,806.3 L1139.3,804.1 L1140.2,805.7 L1141.1,805.6 L1142.0,803.6 L1142.8,798.6 L1143.7,802.6 L1144.6,807.6 L1145.5,802.8 L1146.3,801.5 L1147.2,802.6 L1148.1,804.2 L1149.0,802.9 L1149.8,802.1 L1150.7,800.6 L1151.6,802.6 L1152.5,801.6 L1153.3,804.8 L1154.2,807.5 L1155.1,807.5 L1156.0,805.6 L1156.8,805.9 L1157.7,806.3 L1158.6,810.6 L1159.5,812.1 L1160.3,813.8 L1161.2,814.4 L1162.1,813.1 L1163.0,813.2 L1163.9,819.6 L1164.7,817.4 L1165.6,823.1 L1166.5,817.3 L1167.4,819.9 L1168.2,820.9 L1169.1,823.5 L1170.0,824.6 L1170.9,822.9 L1171.7,825.0 L1172.6,821.8 L1173.5,823.0 L1174.4,821.6 L1175.2,822.4 L1176.1,821.7 L1177.0,822.8 L1177.9,827.4 L1178.7,818.5 L1179.6,819.7 L1180.5,820.4 L1181.4,818.6 L1182.2,820.2 L1183.1,815.5 L1184.0,818.1 L1184.9,815.2 L1185.7,817.7 L1186.6,816.6 L1187.5,816.9 L1188.4,815.7 L1189.2,814.0 L1190.1,815.9 L1191.0,819.8 L1191.9,819.3 L1192.8,822.4 L1193.6,820.5 L1194.5,825.7 L1195.4,828.4 L1196.3,825.1 L1197.1,831.6 L1198.0,836.8 L1198.9,834.7 L1199.8,840.4 L1200.6,841.6 L1201.5,846.0 L1202.4,847.0 L1203.3,849.4 L1204.1,852.9 L1205.0,855.8 L1205.9,858.0 L1206.8,859.8 L1207.6,865.4 L1208.5,864.5 L1209.4,865.2 L1210.3,867.2 L1211.1,870.9 L1212.0,867.4 L1212.9,873.0 L1213.8,874.2 L1214.6,875.8 L1215.5,873.4 L1216.4,873.1 L1217.3,874.9 L1218.2,874.7 L1219.0,876.3 L1219.9,873.6 L1220.8,872.0 L1221.7,869.6 L1222.5,870.6 L1223.4,870.2 L1224.3,871.1 L1225.2,868.4 L1226.0,869.6 L1226.9,868.4 L1227.8,864.1 L1228.7,862.4 L1229.5,862.3 L1230.4,861.9 L1231.3,859.9 L1232.2,861.3 L1233.0,860.2 L1233.9,860.0 L1234.8,857.2 L1235.7,854.9 L1236.5,855.1 L1237.4,851.7 L1238.3,852.3 L1239.2,849.6 L1240.0,851.6 L1240.9,843.9 L1241.8,848.6 L1242.7,847.4 L1243.5,844.5 L1244.4,843.8 L1245.3,842.1 L1246.2,842.6 L1247.1,841.7 L1247.9,837.4 L1248.8,838.7 L1249.7,833.3 L1250.6,833.6 L1251.4,832.3 L1252.3,828.2 L1253.2,829.9 L1254.1,827.4 L1254.9,829.3 L1255.8,826.1 L1256.7,824.4 L1257.6,825.1 L1258.4,827.4 L1259.3,828.0 L1260.2,828.2 L1261.1,826.6 L1261.9,829.7 L1262.8,827.9 L1263.7,829.1 L1264.6,831.9 L1265.4,830.8 L1266.3,828.8 L1267.2,834.2 L1268.1,834.1 L1268.9,834.6 L1269.8,838.6 L1270.7,836.5 L1271.6,839.8 L1272.5,840.1 L1273.3,845.3 L1274.2,838.8 L1275.1,843.2 L1276.0,844.3 L1276.8,846.4 L1277.7,844.7 L1278.6,845.1 L1279.5,849.4 L1280.3,847.1 L1281.2,849.1 L1282.1,849.3 L1283.0,850.8 L1283.8,848.7 L1284.7,850.8 L1285.6,852.3 L1286.5,853.2 L1287.3,855.5 L1288.2,855.0 L1289.1,855.6 L1290.0,855.0 L1290.8,857.6 L1291.7,854.7 L1292.6,855.9 L1293.5,853.7 L1294.3,854.6 L1295.2,858.0 L1296.1,856.5 L1297.0,853.5 L1297.8,856.5 L1298.7,856.1 L1299.6,854.5 L1300.5,856.8 L1301.4,855.6 L1302.2,855.8 L1303.1,857.1 L1304.0,854.0 L1304.9,856.5 L1305.7,853.8 L1306.6,853.4 L1307.5,855.6 L1308.4,853.6 L1309.2,851.9 L1310.1,852.0 L1311.0,852.3 L1311.9,849.3 L1312.7,852.7 L1313.6,851.5 L1314.5,849.2 L1315.4,849.9 L1316.2,853.0 L1317.1,849.5 L1318.0,855.6 L1318.9,850.6 L1319.7,853.3 L1320.6,849.4 L1321.5,854.7 L1322.4,855.3 L1323.2,858.5 L1324.1,859.8 L1325.0,860.9 L1325.9,867.3 L1326.7,867.4 L1327.6,867.4 L1328.5,872.1 L1329.4,869.6 L1330.3,876.7 L1331.1,883.1 L1332.0,883.4 L1332.9,887.9 L1333.8,888.9 L1334.6,895.3 L1335.5,897.1 L1336.4,899.7 L1337.3,904.0 L1338.1,907.8 L1339.0,908.8 L1339.9,906.8 L1340.8,912.6 L1341.6,914.2 L1342.5,913.5 L1343.4,914.2 L1344.3,917.1 L1345.1,918.0 L1346.0,918.8 L1346.9,917.6 L1347.8,918.7 L1348.6,918.1 L1349.5,916.0 L1350.4,915.8 L1351.3,912.5 L1352.1,908.9 L1353.0,909.6 L1353.9,908.9 L1354.8,909.6 L1355.7,899.0 L1356.5,899.2 L1357.4,896.1 L1358.3,895.5 L1359.2,891.2 L1360.0,890.6 L1360.9,890.0 L1361.8,885.2 L1362.7,884.8 L1363.5,886.5 L1364.4,884.3 L1365.3,879.5 L1366.2,885.3 L1367.0,880.4 L1367.9,881.8 L1368.8,880.5 L1369.7,880.4 L1370.5,880.1 L1371.4,882.7 L1372.3,880.9 L1373.2,880.8 L1374.0,882.7 L1374.9,884.6 L1375.8,882.0 L1376.7,887.6 L1377.5,885.8 L1378.4,888.9 L1379.3,890.6 L1380.2,889.2 L1381.0,889.9 L1381.9,888.4 L1382.8,888.0 L1383.7,885.7 L1384.6,888.1 L1385.4,886.8 L1386.3,882.8 L1387.2,886.1 L1388.1,887.0 L1388.9,883.9 L1389.8,884.0 L1390.7,880.4 L1391.6,878.0 L1392.4,878.7 L1393.3,876.9 L1394.2,874.5 L1395.1,877.1 L1395.9,874.6 L1396.8,872.1 L1397.7,872.6 L1398.6,871.1 L1399.4,871.6 L1400.3,872.5 L1401.2,868.1 L1402.1,866.7 L1402.9,870.6 L1403.8,872.1 L1404.7,866.7 L1405.6,866.0 L1406.4,865.3 L1407.3,867.1 L1408.2,867.0 L1409.1,866.2 L1410.0,867.8 L1410.8,864.7 L1411.7,864.8 L1412.6,863.4 L1413.5,867.7 L1414.3,866.9 L1415.2,867.0 L1416.1,863.0 L1417.0,866.4 L1417.8,864.2 L1418.7,864.4 L1419.6,863.6 L1420.5,861.3 L1421.3,860.8 L1422.2,857.6 L1423.1,858.3 L1424.0,858.0 L1424.8,855.5 L1425.7,856.7 L1426.6,857.9 L1427.5,854.1 L1428.3,852.6 L1429.2,852.2 L1430.1,853.4 L1431.0,855.6 L1431.8,852.6 L1432.7,852.2 L1433.6,849.9 L1434.5,852.6 L1435.3,853.2 L1436.2,851.7 L1437.1,852.8 L1438.0,852.2 L1438.9,855.2 L1439.7,856.9 L1440.6,856.1 L1441.5,857.1 L1442.4,857.2 L1443.2,857.0 L1444.1,857.7 L1445.0,859.4 L1445.9,861.4 L1446.7,862.3 L1447.6,865.2 L1448.5,866.0 L1449.4,868.5 L1450.2,868.5 L1451.1,867.9 L1452.0,869.5 L1452.9,867.4 L1453.7,873.8 L1454.6,870.5 L1455.5,871.3 L1456.4,875.3 L1457.2,870.5 L1458.1,871.1 L1459.0,871.8 L1459.9,870.6 L1460.7,871.2 L1461.6,870.9 L1462.5,871.0 L1463.4,869.2 L1464.3,869.9 L1465.1,867.6 L1466.0,868.7 L1466.9,869.2 L1467.8,863.9 L1468.6,866.1 L1469.5,866.6 L1470.4,863.1 L1471.3,861.2 L1472.1,867.2 L1473.0,865.9 L1473.9,868.9 L1474.8,868.1 L1475.6,868.8 L1476.5,869.0 L1477.4,870.5 L1478.3,869.7 L1479.1,871.4 L1480.0,874.8 L1480.9,874.5 L1481.8,877.3 L1482.6,878.0 L1483.5,879.1 L1484.4,879.5 L1485.3,884.0 L1486.1,882.4 L1487.0,885.6 L1487.9,883.3 L1488.8,887.1 L1489.6,887.8 L1490.5,886.5 L1491.4,885.0 L1492.3,887.5 L1493.2,887.7 L1494.0,886.3 L1494.9,885.5 L1495.8,887.5 L1496.7,885.0 L1497.5,883.6 L1498.4,884.7 L1499.3,882.3 L1500.2,880.1 L1501.0,881.7 L1501.9,878.7 L1502.8,880.0 L1503.7,876.7 L1504.5,877.9 L1505.4,879.1 L1506.3,877.6 L1507.2,877.7 L1508.0,877.7 L1508.9,878.7 L1509.8,877.8 L1510.7,879.1 L1511.5,878.9 L1512.4,884.0 L1513.3,881.0 L1514.2,885.9 L1515.0,885.1 L1515.9,890.0 L1516.8,893.7 L1517.7,892.0 L1518.6,899.3 L1519.4,897.3 L1520.3,900.1 L1521.2,904.6 L1522.1,904.8 L1522.9,910.8 L1523.8,912.4 L1524.7,909.4 L1525.6,913.9 L1526.4,917.8 L1527.3,922.2 L1528.2,922.0 L1529.1,924.6 L1529.9,928.4 L1530.8,927.0 L1531.7,930.4 L1532.6,928.8 L1533.4,933.9 L1534.3,935.5 L1535.2,931.9 L1536.1,932.1 L1536.9,931.6 L1537.8,936.0 L1538.7,933.3 L1539.6,935.7 L1540.4,931.4 L1541.3,931.6 L1542.2,932.5 L1543.1,933.9 L1543.9,931.1 L1544.8,928.8 L1545.7,929.6 L1546.6,927.4 L1547.5,926.3 L1548.3,923.6 L1549.2,921.3 L1550.1,920.8 L1551.0,915.0 L1551.8,918.0 L1552.7,918.0 L1553.6,915.3 L1554.5,911.4 L1555.3,909.1 L1556.2,912.5 L1557.1,908.2 L1558.0,907.4 L1558.8,906.8 L1559.7,904.1 L1560.6,903.8 L1561.5,905.0 L1562.3,900.3 L1563.2,902.9 L1564.1,898.9 L1565.0,897.4 L1565.8,897.0 L1566.7,895.4 L1567.6,894.2 L1568.5,892.0 L1569.3,888.7 L1570.2,891.2 L1571.1,887.0 L1572.0,884.7 L1572.8,886.6 L1573.7,885.2 L1574.6,883.1 L1575.5,882.5 L1576.4,882.6 L1577.2,884.3 L1578.1,880.6 L1579.0,878.4 L1579.9,879.5 L1580.7,881.4 L1581.6,880.4 L1582.5,879.9 L1583.4,882.7 L1584.2,883.2 L1585.1,882.2 L1586.0,883.8 L1586.9,883.1 L1587.7,884.2 L1588.6,885.7 L1589.5,885.2 L1590.4,889.3 L1591.2,890.0 L1592.1,890.6 L1593.0,892.9 L1593.9,894.2 L1594.7,893.9 L1595.6,895.3 L1596.5,895.9 L1597.4,900.5 L1598.2,896.3 L1599.1,899.8 L1600.0,902.1 L1600.9,899.6 L1601.8,900.5 L1602.6,901.1 L1603.5,900.3 L1604.4,905.8 L1605.3,903.9 L1606.1,902.9 L1607.0,904.1 L1607.9,905.8 L1608.8,905.3 L1609.6,904.7 L1610.5,907.3 L1611.4,905.3 L1612.3,906.3 L1613.1,907.5 L1614.0,906.1 L1614.9,907.6 L1615.8,906.5 L1616.6,912.1 L1617.5,906.9 L1618.4,908.7 L1619.3,907.0 L1620.1,905.5 L1621.0,907.0 L1621.9,906.4 L1622.8,906.1 L1623.6,906.3 L1624.5,907.5 L1625.4,908.8 L1626.3,908.5 L1627.1,904.7 L1628.0,907.2 L1628.9,906.4 L1629.8,901.9 L1630.7,901.6 L1631.5,901.7 L1632.4,904.7 L1633.3,900.7 L1634.2,900.2 L1635.0,902.6 L1635.9,899.8 L1636.8,899.8 L1637.7,901.1 L1638.5,900.6 L1639.4,896.7 L1640.3,899.3 L1641.2,903.5 L1642.0,901.2 L1642.9,907.2 L1643.8,906.8 L1644.7,909.4 L1645.5,911.9 L1646.4,911.2 L1647.3,917.3 L1648.2,921.0 L1649.0,927.3 L1649.9,933.3 L1650.8,934.2 L1651.7,938.5 L1652.5,938.8 L1653.4,944.9 L1654.3,948.4 L1655.2,951.4 L1656.1,954.3 L1656.9,954.3 L1657.8,954.3 L1658.7,954.8 L1658.7,954.3 L1657.8,954.3 L1656.9,954.3 L1656.1,954.3 L1655.2,954.3 L1654.3,954.3 L1653.4,954.3 L1652.5,954.3 L1651.7,954.3 L1650.8,954.3 L1649.9,954.3 L1649.0,954.3 L1648.2,954.3 L1647.3,954.3 L1646.4,954.3 L1645.5,954.3 L1644.7,954.3 L1643.8,954.3 L1642.9,954.3 L1642.0,954.3 L1641.2,954.3 L1640.3,954.3 L1639.4,954.2 L1638.5,954.3 L1637.7,954.3 L1636.8,954.3 L1635.9,954.3 L1635.0,954.3 L1634.2,954.3 L1633.3,954.3 L1632.4,954.3 L1631.5,954.3 L1630.7,954.3 L1629.8,954.3 L1628.9,954.3 L1628.0,954.3 L1627.1,954.3 L1626.3,954.3 L1625.4,954.3 L1624.5,954.3 L1623.6,954.3 L1622.8,954.3 L1621.9,954.3 L1621.0,954.3 L1620.1,954.3 L1619.3,954.3 L1618.4,954.3 L1617.5,954.3 L1616.6,954.3 L1615.8,954.3 L1614.9,954.3 L1614.0,954.3 L1613.1,954.3 L1612.3,954.3 L1611.4,954.3 L1610.5,954.3 L1609.6,954.3 L1608.8,954.3 L1607.9,954.3 L1607.0,954.3 L1606.1,954.3 L1605.3,954.3 L1604.4,954.3 L1603.5,954.3 L1602.6,954.3 L1601.8,954.3 L1600.9,954.3 L1600.0,954.3 L1599.1,954.3 L1598.2,954.3 L1597.4,954.1 L1596.5,954.3 L1595.6,953.4 L1594.7,952.5 L1593.9,947.5 L1593.0,951.0 L1592.1,947.9 L1591.2,946.4 L1590.4,944.5 L1589.5,943.0 L1588.6,943.2 L1587.7,942.1 L1586.9,940.1 L1586.0,943.0 L1585.1,941.2 L1584.2,938.4 L1583.4,936.2 L1582.5,936.4 L1581.6,939.8 L1580.7,933.3 L1579.9,937.2 L1579.0,941.1 L1578.1,937.0 L1577.2,938.8 L1576.4,934.3 L1575.5,939.2 L1574.6,938.8 L1573.7,941.4 L1572.8,941.7 L1572.0,943.2 L1571.1,944.6 L1570.2,943.1 L1569.3,946.7 L1568.5,944.5 L1567.6,949.6 L1566.7,951.6 L1565.8,954.3 L1565.0,949.6 L1564.1,954.3 L1563.2,954.3 L1562.3,954.3 L1561.5,954.3 L1560.6,954.3 L1559.7,954.3 L1558.8,954.3 L1558.0,954.3 L1557.1,954.3 L1556.2,954.3 L1555.3,954.3 L1554.5,954.3 L1553.6,954.3 L1552.7,954.3 L1551.8,954.3 L1551.0,954.3 L1550.1,954.3 L1549.2,954.3 L1548.3,954.3 L1547.5,954.3 L1546.6,954.3 L1545.7,954.3 L1544.8,954.3 L1543.9,954.3 L1543.1,954.3 L1542.2,954.3 L1541.3,954.3 L1540.4,954.3 L1539.6,954.3 L1538.7,954.3 L1537.8,954.3 L1536.9,954.3 L1536.1,954.3 L1535.2,954.3 L1534.3,954.3 L1533.4,954.3 L1532.6,954.3 L1531.7,954.3 L1530.8,954.3 L1529.9,954.3 L1529.1,954.3 L1528.2,954.3 L1527.3,954.3 L1526.4,954.3 L1525.6,954.3 L1524.7,954.3 L1523.8,954.3 L1522.9,954.3 L1522.1,954.3 L1521.2,954.3 L1520.3,954.3 L1519.4,954.3 L1518.6,953.4 L1517.7,951.0 L1516.8,948.0 L1515.9,941.9 L1515.0,945.2 L1514.2,941.5 L1513.3,940.2 L1512.4,939.1 L1511.5,936.0 L1510.7,934.3 L1509.8,933.6 L1508.9,933.5 L1508.0,934.0 L1507.2,932.1 L1506.3,935.9 L1505.4,935.0 L1504.5,934.4 L1503.7,937.3 L1502.8,932.2 L1501.9,936.5 L1501.0,939.7 L1500.2,937.4 L1499.3,938.1 L1498.4,939.5 L1497.5,939.3 L1496.7,941.9 L1495.8,943.8 L1494.9,942.9 L1494.0,946.4 L1493.2,943.6 L1492.3,943.6 L1491.4,945.9 L1490.5,942.4 L1489.6,947.2 L1488.8,943.4 L1487.9,943.1 L1487.0,939.5 L1486.1,940.5 L1485.3,939.6 L1484.4,938.1 L1483.5,935.4 L1482.6,935.8 L1481.8,932.4 L1480.9,930.3 L1480.0,930.9 L1479.1,927.2 L1478.3,929.0 L1477.4,927.6 L1476.5,926.8 L1475.6,925.3 L1474.8,925.4 L1473.9,923.5 L1473.0,925.2 L1472.1,926.6 L1471.3,919.2 L1470.4,926.0 L1469.5,923.6 L1468.6,922.5 L1467.8,923.3 L1466.9,922.9 L1466.0,925.3 L1465.1,925.4 L1464.3,923.4 L1463.4,922.1 L1462.5,922.2 L1461.6,930.2 L1460.7,927.3 L1459.9,929.0 L1459.0,927.8 L1458.1,928.4 L1457.2,930.4 L1456.4,929.8 L1455.5,927.0 L1454.6,927.4 L1453.7,925.5 L1452.9,925.4 L1452.0,924.9 L1451.1,923.4 L1450.2,923.2 L1449.4,921.9 L1448.5,921.8 L1447.6,921.1 L1446.7,916.5 L1445.9,919.3 L1445.0,920.5 L1444.1,915.2 L1443.2,913.8 L1442.4,915.6 L1441.5,914.0 L1440.6,913.6 L1439.7,910.1 L1438.9,910.2 L1438.0,909.3 L1437.1,910.1 L1436.2,909.1 L1435.3,909.9 L1434.5,909.0 L1433.6,908.7 L1432.7,908.5 L1431.8,909.0 L1431.0,907.0 L1430.1,911.4 L1429.2,910.4 L1428.3,912.0 L1427.5,910.9 L1426.6,913.4 L1425.7,913.3 L1424.8,912.7 L1424.0,913.4 L1423.1,914.1 L1422.2,916.0 L1421.3,917.2 L1420.5,916.5 L1419.6,920.5 L1418.7,916.0 L1417.8,921.4 L1417.0,921.2 L1416.1,921.8 L1415.2,918.9 L1414.3,922.9 L1413.5,922.0 L1412.6,920.2 L1411.7,922.0 L1410.8,921.3 L1410.0,923.0 L1409.1,921.0 L1408.2,921.0 L1407.3,925.0 L1406.4,921.4 L1405.6,926.2 L1404.7,923.3 L1403.8,921.8 L1402.9,923.6 L1402.1,925.8 L1401.2,926.4 L1400.3,927.4 L1399.4,927.1 L1398.6,927.6 L1397.7,926.0 L1396.8,929.4 L1395.9,932.1 L1395.1,929.9 L1394.2,929.9 L1393.3,933.7 L1392.4,935.7 L1391.6,936.9 L1390.7,935.9 L1389.8,938.5 L1388.9,940.7 L1388.1,941.4 L1387.2,941.2 L1386.3,943.6 L1385.4,942.9 L1384.6,940.0 L1383.7,945.1 L1382.8,945.8 L1381.9,947.0 L1381.0,943.3 L1380.2,945.6 L1379.3,946.6 L1378.4,944.7 L1377.5,944.6 L1376.7,942.0 L1375.8,941.7 L1374.9,941.8 L1374.0,940.3 L1373.2,941.1 L1372.3,936.8 L1371.4,937.5 L1370.5,938.2 L1369.7,939.2 L1368.8,937.1 L1367.9,936.8 L1367.0,936.1 L1366.2,940.5 L1365.3,936.6 L1364.4,941.5 L1363.5,938.5 L1362.7,941.4 L1361.8,942.7 L1360.9,945.6 L1360.0,946.6 L1359.2,948.7 L1358.3,953.1 L1357.4,952.2 L1356.5,954.3 L1355.7,954.3 L1354.8,954.3 L1353.9,954.3 L1353.0,954.3 L1352.1,954.3 L1351.3,954.3 L1350.4,954.3 L1349.5,954.3 L1348.6,954.3 L1347.8,954.3 L1346.9,954.3 L1346.0,954.3 L1345.1,954.3 L1344.3,954.3 L1343.4,954.3 L1342.5,954.3 L1341.6,954.3 L1340.8,954.3 L1339.9,954.3 L1339.0,954.3 L1338.1,954.3 L1337.3,954.3 L1336.4,954.3 L1335.5,952.1 L1334.6,948.4 L1333.8,949.5 L1332.9,945.7 L1332.0,938.9 L1331.1,939.7 L1330.3,930.3 L1329.4,930.8 L1328.5,926.7 L1327.6,928.2 L1326.7,924.9 L1325.9,919.2 L1325.0,916.0 L1324.1,915.0 L1323.2,915.7 L1322.4,913.7 L1321.5,914.3 L1320.6,910.2 L1319.7,910.0 L1318.9,907.9 L1318.0,906.3 L1317.1,909.6 L1316.2,909.9 L1315.4,906.7 L1314.5,910.3 L1313.6,910.0 L1312.7,906.4 L1311.9,905.3 L1311.0,910.6 L1310.1,909.6 L1309.2,909.9 L1308.4,910.6 L1307.5,909.5 L1306.6,910.4 L1305.7,907.1 L1304.9,912.5 L1304.0,912.1 L1303.1,912.2 L1302.2,913.5 L1301.4,910.8 L1300.5,912.1 L1299.6,911.8 L1298.7,913.0 L1297.8,911.6 L1297.0,912.1 L1296.1,914.1 L1295.2,915.0 L1294.3,912.4 L1293.5,913.4 L1292.6,912.2 L1291.7,910.6 L1290.8,913.1 L1290.0,911.4 L1289.1,912.2 L1288.2,911.3 L1287.3,908.5 L1286.5,909.9 L1285.6,909.1 L1284.7,910.7 L1283.8,907.2 L1283.0,907.4 L1282.1,904.2 L1281.2,906.5 L1280.3,902.3 L1279.5,902.5 L1278.6,898.6 L1277.7,897.6 L1276.8,900.6 L1276.0,901.1 L1275.1,898.9 L1274.2,899.0 L1273.3,894.5 L1272.5,896.8 L1271.6,894.9 L1270.7,894.8 L1269.8,897.7 L1268.9,891.2 L1268.1,893.5 L1267.2,889.8 L1266.3,890.5 L1265.4,886.1 L1264.6,889.1 L1263.7,886.4 L1262.8,882.9 L1261.9,882.1 L1261.1,884.7 L1260.2,883.2 L1259.3,884.9 L1258.4,885.6 L1257.6,883.7 L1256.7,886.0 L1255.8,887.2 L1254.9,885.4 L1254.1,885.0 L1253.2,888.5 L1252.3,883.2 L1251.4,888.6 L1250.6,891.0 L1249.7,892.7 L1248.8,890.9 L1247.9,893.9 L1247.1,895.6 L1246.2,897.2 L1245.3,899.2 L1244.4,898.9 L1243.5,897.4 L1242.7,905.1 L1241.8,904.4 L1240.9,900.9 L1240.0,903.6 L1239.2,907.7 L1238.3,908.0 L1237.4,911.7 L1236.5,909.2 L1235.7,911.9 L1234.8,914.6 L1233.9,913.9 L1233.0,915.7 L1232.2,918.0 L1231.3,919.4 L1230.4,918.6 L1229.5,917.5 L1228.7,923.0 L1227.8,922.4 L1226.9,924.1 L1226.0,924.8 L1225.2,926.6 L1224.3,927.4 L1223.4,927.4 L1222.5,929.0 L1221.7,926.6 L1220.8,927.0 L1219.9,929.7 L1219.0,929.5 L1218.2,927.7 L1217.3,931.0 L1216.4,929.4 L1215.5,931.8 L1214.6,929.9 L1213.8,930.3 L1212.9,930.1 L1212.0,929.3 L1211.1,927.2 L1210.3,924.8 L1209.4,924.0 L1208.5,923.1 L1207.6,921.6 L1206.8,918.4 L1205.9,919.2 L1205.0,912.7 L1204.1,911.2 L1203.3,906.8 L1202.4,906.1 L1201.5,900.1 L1200.6,900.6 L1199.8,893.4 L1198.9,893.6 L1198.0,889.8 L1197.1,884.3 L1196.3,887.1 L1195.4,881.2 L1194.5,881.6 L1193.6,880.5 L1192.8,876.7 L1191.9,877.7 L1191.0,876.3 L1190.1,871.4 L1189.2,872.4 L1188.4,873.3 L1187.5,872.2 L1186.6,873.6 L1185.7,872.2 L1184.9,872.7 L1184.0,872.6 L1183.1,873.0 L1182.2,875.1 L1181.4,874.4 L1180.5,874.9 L1179.6,877.4 L1178.7,879.5 L1177.9,879.5 L1177.0,878.9 L1176.1,880.5 L1175.2,878.7 L1174.4,881.9 L1173.5,878.6 L1172.6,881.4 L1171.7,881.5 L1170.9,880.6 L1170.0,881.8 L1169.1,882.7 L1168.2,879.0 L1167.4,878.5 L1166.5,876.6 L1165.6,876.7 L1164.7,875.0 L1163.9,873.6 L1163.0,877.4 L1162.1,870.0 L1161.2,866.4 L1160.3,867.0 L1159.5,869.7 L1158.6,865.7 L1157.7,866.8 L1156.8,863.4 L1156.0,863.8 L1155.1,861.9 L1154.2,861.3 L1153.3,860.5 L1152.5,857.1 L1151.6,859.6 L1150.7,860.7 L1149.8,859.5 L1149.0,859.1 L1148.1,857.7 L1147.2,858.2 L1146.3,859.8 L1145.5,858.7 L1144.6,859.4 L1143.7,857.7 L1142.8,858.8 L1142.0,862.1 L1141.1,860.6 L1140.2,860.9 L1139.3,861.2 L1138.5,864.2 L1137.6,861.3 L1136.7,862.6 L1135.8,860.3 L1134.9,865.9 L1134.1,860.7 L1133.2,860.1 L1132.3,862.4 L1131.4,859.6 L1130.6,859.2 L1129.7,858.7 L1128.8,858.1 L1127.9,853.4 L1127.1,850.6 L1126.2,852.7 L1125.3,851.2 L1124.4,853.2 L1123.6,850.8 L1122.7,847.5 L1121.8,844.5 L1120.9,845.3 L1120.1,842.2 L1119.2,844.6 L1118.3,842.3 L1117.4,843.8 L1116.6,845.0 L1115.7,844.0 L1114.8,841.5 L1113.9,839.0 L1113.1,838.6 L1112.2,841.2 L1111.3,841.4 L1110.4,844.3 L1109.6,844.2 L1108.7,842.2 L1107.8,843.3 L1106.9,846.1 L1106.0,844.9 L1105.2,845.2 L1104.3,845.7 L1103.4,848.0 L1102.5,848.2 L1101.7,849.5 L1100.8,849.0 L1099.9,850.7 L1099.0,851.7 L1098.2,854.8 L1097.3,853.9 L1096.4,855.2 L1095.5,853.5 L1094.7,853.1 L1093.8,853.8 L1092.9,856.4 L1092.0,855.4 L1091.2,854.1 L1090.3,857.1 L1089.4,854.4 L1088.5,853.8 L1087.7,858.2 L1086.8,854.9 L1085.9,857.9 L1085.0,853.5 L1084.2,854.7 L1083.3,853.6 L1082.4,855.9 L1081.5,852.8 L1080.7,855.7 L1079.8,855.8 L1078.9,856.5 L1078.0,854.8 L1077.1,858.8 L1076.3,858.1 L1075.4,858.7 L1074.5,858.3 L1073.6,862.2 L1072.8,861.6 L1071.9,860.3 L1071.0,865.6 L1070.1,863.9 L1069.3,865.3 L1068.4,867.5 L1067.5,870.5 L1066.6,872.4 L1065.8,870.9 L1064.9,870.5 L1064.0,870.4 L1063.1,873.8 L1062.3,871.4 L1061.4,868.9 L1060.5,873.2 L1059.6,872.7 L1058.8,868.1 L1057.9,872.7 L1057.0,868.6 L1056.1,868.8 L1055.3,867.6 L1054.4,869.1 L1053.5,867.4 L1052.6,865.9 L1051.7,866.3 L1050.9,864.9 L1050.0,862.8 L1049.1,861.5 L1048.2,864.2 L1047.4,865.1 L1046.5,865.9 L1045.6,868.0 L1044.7,864.8 L1043.9,865.8 L1043.0,864.1 L1042.1,866.4 L1041.2,872.4 L1040.4,872.5 L1039.5,873.6 L1038.6,877.3 L1037.7,878.9 L1036.9,879.3 L1036.0,884.1 L1035.1,882.7 L1034.2,888.4 L1033.4,892.8 L1032.5,891.7 L1031.6,895.9 L1030.7,897.4 L1029.9,898.1 L1029.0,900.8 L1028.1,901.5 L1027.2,899.4 L1026.4,897.3 L1025.5,897.5 L1024.6,896.4 L1023.7,895.4 L1022.8,896.3 L1022.0,891.1 L1021.1,890.4 L1020.2,890.1 L1019.3,886.3 L1018.5,884.8 L1017.6,879.5 L1016.7,878.8 L1015.8,872.8 L1015.0,876.0 L1014.1,867.4 L1013.2,866.2 L1012.3,864.6 L1011.5,859.1 L1010.6,856.0 L1009.7,853.9 L1008.8,851.0 L1008.0,845.8 L1007.1,843.6 L1006.2,842.4 L1005.3,839.1 L1004.5,839.0 L1003.6,837.7 L1002.7,837.0 L1001.8,832.3 L1001.0,831.2 L1000.1,831.9 L999.2,831.5 L998.3,828.4 L997.4,830.8 L996.6,829.3 L995.7,829.0 L994.8,828.4 L993.9,830.9 L993.1,828.8 L992.2,826.1 L991.3,828.8 L990.4,825.9 L989.6,830.6 L988.7,827.4 L987.8,829.1 L986.9,830.0 L986.1,832.8 L985.2,834.1 L984.3,832.2 L983.4,834.4 L982.6,831.8 L981.7,832.4 L980.8,830.4 L979.9,833.2 L979.1,830.2 L978.2,830.5 L977.3,832.8 L976.4,830.7 L975.6,833.0 L974.7,833.9 L973.8,828.1 L972.9,831.6 L972.1,828.3 L971.2,829.5 L970.3,830.2 L969.4,832.9 L968.5,831.4 L967.7,829.0 L966.8,829.4 L965.9,828.5 L965.0,826.9 L964.2,826.7 L963.3,826.5 L962.4,821.6 L961.5,824.7 L960.7,824.7 L959.8,823.7 L958.9,822.9 L958.0,821.1 L957.2,817.8 L956.3,820.4 L955.4,815.8 L954.5,815.9 L953.7,817.4 L952.8,812.1 L951.9,810.5 L951.0,810.3 L950.2,811.2 L949.3,808.5 L948.4,809.4 L947.5,804.5 L946.7,807.3 L945.8,803.7 L944.9,801.2 L944.0,804.2 L943.1,804.2 L942.3,803.7 L941.4,801.3 L940.5,800.5 L939.6,802.0 L938.8,799.5 L937.9,800.7 L937.0,801.3 L936.1,803.0 L935.3,805.6 L934.4,802.9 L933.5,801.2 L932.6,804.4 L931.8,805.4 L930.9,806.1 L930.0,804.9 L929.1,809.8 L928.3,809.9 L927.4,812.6 L926.5,811.7 L925.6,812.9 L924.8,815.0 L923.9,817.6 L923.0,818.6 L922.1,818.3 L921.3,820.2 L920.4,823.7 L919.5,820.4 L918.6,823.3 L917.8,826.1 L916.9,825.7 L916.0,825.6 L915.1,824.3 L914.2,828.4 L913.4,830.2 L912.5,831.0 L911.6,830.2 L910.7,833.8 L909.9,835.2 L909.0,835.1 L908.1,835.5 L907.2,837.3 L906.4,835.8 L905.5,838.3 L904.6,841.1 L903.7,842.6 L902.9,845.3 L902.0,845.0 L901.1,844.8 L900.2,845.7 L899.4,847.6 L898.5,846.4 L897.6,849.2 L896.7,846.8 L895.9,844.7 L895.0,847.5 L894.1,842.5 L893.2,846.3 L892.4,844.3 L891.5,847.3 L890.6,842.3 L889.7,839.4 L888.8,838.7 L888.0,840.9 L887.1,834.5 L886.2,835.8 L885.3,830.1 L884.5,827.9 L883.6,826.1 L882.7,822.3 L881.8,822.1 L881.0,820.2 L880.1,813.4 L879.2,812.8 L878.3,811.2 L877.5,809.9 L876.6,807.2 L875.7,804.4 L874.8,801.9 L874.0,798.8 L873.1,795.8 L872.2,796.3 L871.3,796.7 L870.5,794.1 L869.6,791.4 L868.7,790.4 L867.8,790.9 L867.0,790.9 L866.1,791.3 L865.2,791.2 L864.3,790.7 L863.5,791.2 L862.6,793.4 L861.7,791.9 L860.8,795.9 L859.9,797.6 L859.1,797.8 L858.2,801.0 L857.3,797.0 L856.4,798.4 L855.6,799.8 L854.7,800.0 L853.8,800.8 L852.9,801.9 L852.1,801.8 L851.2,804.0 L850.3,800.5 L849.4,802.8 L848.6,801.0 L847.7,805.3 L846.8,800.8 L845.9,798.2 L845.1,797.4 L844.2,796.7 L843.3,795.1 L842.4,794.9 L841.6,790.8 L840.7,788.2 L839.8,786.2 L838.9,790.5 L838.1,787.0 L837.2,784.5 L836.3,786.3 L835.4,786.2 L834.6,786.5 L833.7,782.4 L832.8,783.1 L831.9,784.9 L831.0,781.1 L830.2,780.7 L829.3,783.6 L828.4,783.8 L827.5,785.4 L826.7,783.4 L825.8,789.1 L824.9,787.8 L824.0,785.7 L823.2,787.9 L822.3,789.9 L821.4,788.5 L820.5,790.0 L819.7,788.3 L818.8,791.0 L817.9,787.7 L817.0,790.3 L816.2,793.1 L815.3,789.5 L814.4,790.1 L813.5,789.7 L812.7,791.7 L811.8,786.5 L810.9,786.4 L810.0,787.7 L809.2,786.7 L808.3,784.3 L807.4,784.9 L806.5,783.3 L805.6,781.8 L804.8,782.6 L803.9,779.5 L803.0,779.4 L802.1,777.8 L801.3,777.4 L800.4,775.2 L799.5,774.7 L798.6,775.9 L797.8,776.8 L796.9,773.9 L796.0,776.4 L795.1,774.0 L794.3,773.7 L793.4,777.3 L792.5,774.3 L791.6,774.5 L790.8,774.8 L789.9,773.4 L789.0,776.4 L788.1,776.8 L787.3,778.3 L786.4,778.3 L785.5,783.2 L784.6,783.2 L783.8,784.3 L782.9,781.7 L782.0,786.1 L781.1,788.3 L780.3,790.0 L779.4,789.7 L778.5,787.7 L777.6,791.6 L776.7,792.7 L775.9,792.4 L775.0,792.7 L774.1,793.9 L773.2,794.5 L772.4,795.2 L771.5,794.2 L770.6,796.2 L769.7,793.1 L768.9,797.9 L768.0,795.4 L767.1,794.5 L766.2,796.3 L765.4,797.2 L764.5,795.6 L763.6,797.8 L762.7,799.1 L761.9,797.7 L761.0,797.3 L760.1,799.8 L759.2,801.4 L758.4,799.4 L757.5,801.5 L756.6,801.5 L755.7,804.6 L754.9,808.3 L754.0,807.7 L753.1,807.6 L752.2,808.8 L751.3,809.9 L750.5,813.3 L749.6,813.7 L748.7,817.8 L747.8,815.9 L747.0,818.7 L746.1,818.3 L745.2,818.2 L744.3,821.0 L743.5,819.7 L742.6,824.2 L741.7,817.5 L740.8,824.1 L740.0,822.5 L739.1,819.8 L738.2,821.4 L737.3,821.3 L736.5,822.2 L735.6,821.2 L734.7,821.3 L733.8,816.8 L733.0,818.6 L732.1,816.5 L731.2,819.2 L730.3,816.9 L729.5,816.8 L728.6,816.7 L727.7,816.5 L726.8,818.3 L726.0,817.9 L725.1,817.2 L724.2,817.6 L723.3,821.0 L722.4,822.8 L721.6,824.6 L720.7,824.8 L719.8,828.3 L718.9,832.4 L718.1,835.3 L717.2,838.5 L716.3,838.1 L715.4,841.2 L714.6,843.4 L713.7,843.8 L712.8,851.2 L711.9,853.3 L711.1,852.1 L710.2,856.1 L709.3,858.0 L708.4,858.7 L707.6,858.5 L706.7,857.1 L705.8,857.2 L704.9,856.1 L704.1,855.2 L703.2,857.2 L702.3,858.5 L701.4,852.5 L700.6,852.8 L699.7,849.1 L698.8,847.5 L697.9,846.5 L697.0,840.5 L696.2,840.2 L695.3,836.4 L694.4,833.6 L693.5,831.3 L692.7,826.3 L691.8,823.5 L690.9,819.1 L690.0,817.6 L689.2,814.3 L688.3,810.7 L687.4,808.0 L686.5,807.0 L685.7,804.2 L684.8,802.6 L683.9,799.1 L683.0,798.4 L682.2,797.7 L681.3,796.4 L680.4,795.3 L679.5,798.2 L678.7,794.1 L677.8,796.1 L676.9,795.3 L676.0,799.0 L675.2,795.5 L674.3,795.2 L673.4,798.4 L672.5,797.0 L671.7,799.5 L670.8,800.3 L669.9,799.9 L669.0,802.9 L668.1,800.5 L667.3,799.5 L666.4,804.7 L665.5,802.0 L664.6,804.4 L663.8,802.0 L662.9,804.2 L662.0,806.9 L661.1,807.8 L660.3,805.9 L659.4,806.4 L658.5,805.2 L657.6,805.7 L656.8,805.6 L655.9,806.0 L655.0,806.3 L654.1,804.1 L653.3,805.3 L652.4,806.0 L651.5,806.2 L650.6,803.7 L649.8,804.0 L648.9,805.5 L648.0,804.2 L647.1,806.0 L646.3,804.6 L645.4,801.3 L644.5,799.6 L643.6,803.7 L642.8,802.5 L641.9,801.5 L641.0,800.8 L640.1,800.9 L639.2,801.6 L638.4,799.9 L637.5,800.2 L636.6,796.9 L635.7,794.2 L634.9,796.5 L634.0,795.2 L633.1,790.6 L632.2,790.8 L631.4,792.2 L630.5,789.1 L629.6,787.5 L628.7,789.0 L627.9,785.7 L627.0,786.3 L626.1,789.2 L625.2,783.4 L624.4,783.5 L623.5,785.4 L622.6,782.2 L621.7,779.8 L620.9,781.7 L620.0,781.6 L619.1,781.8 L618.2,780.4 L617.4,781.2 L616.5,782.1 L615.6,783.0 L614.7,783.1 L613.8,785.6 L613.0,788.6 L612.1,789.9 L611.2,787.5 L610.3,789.7 L609.5,792.1 L608.6,792.2 L607.7,793.7 L606.8,795.2 L606.0,795.9 L605.1,800.5 L604.2,802.8 L603.3,802.5 L602.5,805.2 L601.6,803.4 L600.7,806.0 L599.8,808.2 L599.0,808.9 L598.1,809.9 L597.2,814.8 L596.3,812.3 L595.5,812.7 L594.6,810.8 L593.7,816.0 L592.8,815.6 L592.0,819.7 L591.1,824.4 L590.2,820.5 L589.3,824.0 L588.5,825.5 L587.6,825.4 L586.7,825.2 L585.8,828.5 L584.9,830.5 L584.1,830.1 L583.2,829.1 L582.3,833.5 L581.4,834.4 L580.6,832.6 L579.7,831.0 L578.8,836.0 L577.9,836.6 L577.1,833.8 L576.2,835.5 L575.3,837.6 L574.4,833.6 L573.6,832.9 L572.7,832.1 L571.8,833.1 L570.9,832.4 L570.1,828.8 L569.2,824.0 L568.3,818.8 L567.4,822.3 L566.6,821.4 L565.7,818.5 L564.8,814.0 L563.9,810.8 L563.1,809.7 L562.2,806.9 L561.3,804.4 L560.4,801.6 L559.5,800.2 L558.7,797.0 L557.8,794.2 L556.9,793.2 L556.0,791.3 L555.2,787.8 L554.3,786.1 L553.4,785.6 L552.5,785.1 L551.7,778.6 L550.8,780.4 L549.9,778.7 L549.0,778.4 L548.2,777.3 L547.3,780.9 L546.4,777.9 L545.5,779.0 L544.7,776.1 L543.8,778.2 L542.9,780.6 L542.0,780.4 L541.2,777.9 L540.3,783.0 L539.4,782.9 L538.5,786.0 L537.7,785.1 L536.8,784.4 L535.9,785.6 L535.0,785.4 L534.2,789.3 L533.3,787.6 L532.4,786.2 L531.5,786.3 L530.6,785.8 L529.8,786.2 L528.9,786.1 L528.0,785.4 L527.1,785.1 L526.3,783.3 L525.4,782.3 L524.5,780.7 L523.6,781.1 L522.8,778.9 L521.9,775.9 L521.0,777.7 L520.1,772.2 L519.3,771.5 L518.4,770.9 L517.5,768.1 L516.6,768.1 L515.8,767.9 L514.9,768.7 L514.0,765.3 L513.1,766.2 L512.3,761.7 L511.4,764.9 L510.5,764.1 L509.6,765.6 L508.8,763.7 L507.9,765.3 L507.0,768.3 L506.1,765.4 L505.2,769.5 L504.4,766.0 L503.5,765.8 L502.6,767.4 L501.7,767.5 L500.9,766.0 L500.0,769.4 L499.1,768.7 L498.2,768.0 L497.4,766.5 L496.5,769.9 L495.6,771.5 L494.7,770.3 L493.9,770.0 L493.0,767.4 L492.1,767.0 L491.2,765.2 L490.4,766.3 L489.5,765.8 L488.6,766.1 L487.7,759.9 L486.9,763.0 L486.0,760.3 L485.1,758.4 L484.2,758.0 L483.4,755.9 L482.5,754.7 L481.6,754.2 L480.7,752.6 L479.9,749.2 L479.0,751.2 L478.1,748.9 L477.2,749.6 L476.3,750.1 L475.5,748.7 L474.6,746.4 L473.7,746.9 L472.8,747.9 L472.0,745.7 L471.1,748.9 L470.2,748.2 L469.3,750.2 L468.5,749.3 L467.6,753.2 L466.7,750.4 L465.8,750.6 L465.0,750.2 L464.1,754.8 L463.2,750.0 L462.3,754.7 L461.5,756.6 L460.6,753.8 L459.7,754.8 L458.8,759.0 L458.0,756.4 L457.1,757.5 L456.2,760.2 L455.3,758.5 L454.5,760.7 L453.6,759.2 L452.7,762.0 L451.8,761.9 L450.9,760.8 L450.1,756.9 L449.2,758.9 L448.3,763.0 L447.4,761.1 L446.6,761.7 L445.7,760.7 L444.8,762.1 L443.9,762.4 L443.1,760.8 L442.2,764.3 L441.3,762.9 L440.4,761.3 L439.6,761.1 L438.7,758.5 L437.8,761.1 L436.9,764.4 L436.1,764.3 L435.2,767.4 L434.3,767.5 L433.4,766.2 L432.6,767.0 L431.7,767.9 L430.8,768.1 L429.9,770.4 L429.1,772.3 L428.2,773.7 L427.3,774.7 L426.4,777.0 L425.6,773.7 L424.7,776.5 L423.8,775.0 L422.9,773.5 L422.0,772.0 L421.2,773.1 L420.3,772.2 L419.4,769.9 L418.5,770.7 L417.7,770.2 L416.8,771.6 L415.9,769.0 L415.0,767.5 L414.2,766.8 L413.3,767.0 L412.4,763.3 L411.5,766.5 L410.7,765.2 L409.8,763.0 L408.9,763.5 L408.0,763.4 L407.2,761.7 L406.3,763.8 L405.4,762.1 L404.5,763.7 L403.7,766.2 L402.8,765.9 L401.9,766.1 L401.0,766.1 L400.2,771.5 L399.3,771.6 L398.4,772.1 L397.5,777.0 L396.7,777.6 L395.8,778.4 L394.9,783.3 L394.0,787.0 L393.1,787.4 L392.3,790.6 L391.4,787.4 L390.5,790.7 L389.6,792.9 L388.8,791.2 L387.9,795.1 L387.0,788.7 L386.1,789.4 L385.3,793.0 L384.4,791.6 L383.5,790.0 L382.6,786.8 L381.8,784.5 L380.9,785.2 L380.0,783.4 L379.1,778.8 L378.3,777.0 L377.4,773.1 L376.5,767.4 L375.6,761.8 L374.8,758.3 L373.9,754.8 L373.0,753.0 L372.1,749.0 L371.3,748.2 L370.4,747.3 L369.5,739.7 L368.6,738.1 L367.7,736.6 L366.9,733.3 L366.0,727.8 L365.1,728.1 L364.2,724.9 L363.4,723.1 L362.5,723.2 L361.6,719.0 L360.7,717.2 L359.9,719.5 L359.0,717.2 L358.1,718.4 L357.2,717.0 L356.4,717.7 L355.5,714.5 L354.6,715.4 L353.7,715.5 L352.9,714.7 L352.0,716.9 L351.1,715.8 L350.2,716.0 L349.4,712.2 L348.5,716.0 L347.6,716.3 L346.7,713.3 L345.9,717.1 L345.0,712.0 L344.1,712.6 L343.2,716.0 L342.4,715.5 L341.5,713.5 L340.6,715.5 L339.7,718.0 L338.8,712.0 L338.0,715.5 L337.1,711.4 L336.2,710.3 L335.3,709.6 L334.5,710.6 L333.6,710.3 L332.7,711.0 L331.8,709.3 L331.0,707.5 L330.1,704.2 L329.2,712.3 L328.3,708.2 L327.5,708.0 L326.6,706.2 L325.7,705.7 L324.8,702.3 L324.0,704.7 L323.1,701.7 L322.2,702.7 L321.3,700.1 L320.5,695.5 L319.6,697.4 L318.7,695.3 L317.8,694.6 L317.0,693.0 L316.1,692.4 L315.2,689.8 L314.3,686.1 L313.4,685.3 L312.6,682.4 L311.7,682.4 L310.8,681.9 L309.9,679.9 L309.1,676.3 L308.2,677.6 L307.3,676.3 L306.4,675.4 L305.6,672.2 L304.7,674.6 L303.8,670.8 L302.9,671.6 L302.1,668.8 L301.2,664.1 L300.3,668.5 L299.4,670.9 L298.6,671.8 L297.7,670.5 L296.8,666.0 L295.9,667.8 L295.1,670.4 L294.2,668.9 L293.3,670.9 L292.4,672.8 L291.6,672.5 L290.7,671.2 L289.8,673.4 L288.9,672.5 L288.1,673.6 L287.2,675.1 L286.3,679.2 L285.4,678.3 L284.5,677.1 L283.7,677.4 L282.8,679.9 L281.9,678.5 L281.0,682.7 L280.2,682.2 L279.3,685.2 L278.4,686.4 L277.5,685.0 L276.7,686.8 L275.8,686.8 L274.9,690.3 L274.0,689.3 L273.2,689.8 L272.3,688.4 L271.4,693.5 L270.5,692.2 L269.7,692.9 L268.8,691.9 L267.9,697.1 L267.0,693.0 L266.2,694.1 L265.3,696.1 L264.4,701.9 L263.5,698.1 L262.7,699.8 L261.8,702.9 L260.9,703.7 L260.0,702.1 L259.1,701.1 L258.3,703.2 L257.4,700.8 L256.5,699.2 L255.6,699.2 L254.8,697.1 L253.9,697.5 L253.0,699.4 L252.1,696.2 L251.3,697.3 L250.4,694.6 L249.5,692.8 L248.6,691.7 L247.8,689.5 L246.9,682.9 L246.0,682.1 L245.1,681.0 L244.3,678.4 L243.4,673.2 L242.5,671.7 L241.6,668.4 L240.8,664.7 L239.9,661.7 L239.0,661.5 L238.1,655.7 L237.3,653.3 L236.4,651.2 L235.5,645.7 L234.6,644.7 L233.8,638.9 L232.9,639.6 L232.0,638.6Z" fill="#add8e6" fill-opacity="0.2"/>
<path d="M232.0,569.1 L232.9,565.6 L233.8,569.4 L234.6,573.1 L235.5,573.0 L236.4,578.3 L237.3,581.8 L238.1,580.8 L239.0,591.7 L239.9,594.4 L240.8,594.9 L241.6,599.9 L242.5,605.3 L243.4,606.9 L244.3,610.4 L245.1,610.6 L246.0,618.9 L246.9,620.6 L247.8,623.6 L248.6,621.2 L249.5,631.5 L250.4,629.4 L251.3,629.5 L252.1,637.2 L253.0,632.9 L253.9,630.2 L254.8,633.7 L255.6,629.5 L256.5,638.6 L257.4,635.1 L258.3,634.4 L259.1,639.1 L260.0,631.8 L260.9,637.2 L261.8,630.0 L262.7,633.1 L263.5,630.9 L264.4,637.0 L265.3,636.8 L266.2,630.3 L267.0,632.2 L267.9,628.4 L268.8,629.2 L269.7,624.6 L270.5,620.9 L271.4,619.6 L272.3,624.2 L273.2,628.0 L274.0,621.9 L274.9,618.8 L275.8,624.2 L276.7,618.9 L277.5,617.5 L278.4,616.9 L279.3,614.9 L280.2,613.4 L281.0,609.4 L281.9,613.2 L282.8,610.5 L283.7,612.6 L284.5,607.3 L285.4,602.1 L286.3,605.6 L287.2,609.2 L288.1,602.6 L288.9,600.3 L289.8,598.6 L290.7,598.1 L291.6,599.3 L292.4,596.3 L293.3,602.7 L294.2,597.6 L295.1,598.2 L295.9,601.3 L296.8,601.2 L297.7,596.6 L298.6,598.0 L299.4,599.1 L300.3,597.0 L301.2,593.2 L302.1,600.1 L302.9,601.5 L303.8,601.2 L304.7,598.8 L305.6,601.9 L306.4,602.3 L307.3,604.5 L308.2,610.1 L309.1,612.3 L309.9,611.8 L310.8,613.1 L311.7,615.2 L312.6,615.2 L313.4,616.8 L314.3,617.1 L315.2,620.5 L316.1,628.4 L317.0,626.6 L317.8,625.3 L318.7,626.7 L319.6,627.4 L320.5,632.2 L321.3,633.8 L322.2,630.5 L323.1,636.9 L324.0,635.4 L324.8,641.7 L325.7,639.4 L326.6,644.3 L327.5,639.5 L328.3,640.6 L329.2,642.8 L330.1,645.4 L331.0,644.6 L331.8,640.4 L332.7,644.5 L333.6,644.5 L334.5,643.6 L335.3,643.4 L336.2,649.9 L337.1,644.5 L338.0,643.5 L338.8,647.5 L339.7,646.3 L340.6,645.9 L341.5,648.2 L342.4,647.4 L343.2,647.1 L344.1,648.6 L345.0,646.8 L345.9,644.4 L346.7,644.9 L347.6,644.3 L348.5,646.0 L349.4,642.4 L350.2,640.2 L351.1,644.9 L352.0,640.8 L352.9,638.8 L353.7,644.5 L354.6,641.4 L355.5,644.4 L356.4,641.6 L357.2,640.2 L358.1,640.2 L359.0,642.7 L359.9,644.1 L360.7,643.8 L361.6,646.5 L362.5,644.9 L363.4,650.9 L364.2,648.4 L365.1,655.1 L366.0,660.3 L366.9,664.4 L367.7,669.2 L368.6,664.0 L369.5,673.4 L370.4,677.9 L371.3,680.9 L372.1,679.6 L373.0,686.9 L373.9,694.8 L374.8,690.5 L375.6,700.2 L376.5,706.4 L377.4,706.1 L378.3,713.5 L379.1,712.9 L380.0,716.9 L380.9,719.8 L381.8,724.9 L382.6,726.2 L383.5,730.4 L384.4,726.5 L385.3,729.3 L386.1,732.5 L387.0,731.5 L387.9,726.4 L388.8,731.2 L389.6,727.5 L390.5,728.7 L391.4,727.1 L392.3,727.6 L393.1,722.5 L394.0,714.7 L394.9,713.0 L395.8,715.3 L396.7,709.7 L397.5,710.3 L398.4,705.3 L399.3,700.2 L400.2,702.7 L401.0,695.8 L401.9,690.8 L402.8,700.1 L403.7,688.5 L404.5,694.2 L405.4,694.3 L406.3,691.8 L407.2,686.9 L408.0,694.0 L408.9,687.9 L409.8,688.8 L410.7,692.1 L411.5,696.1 L412.4,696.0 L413.3,698.5 L414.2,696.5 L415.0,698.4 L415.9,697.1 L416.8,700.4 L417.7,703.9 L418.5,702.6 L419.4,705.6 L420.3,703.7 L421.2,704.5 L422.0,706.8 L422.9,706.8 L423.8,709.2 L424.7,708.3 L425.6,712.2 L426.4,706.7 L427.3,705.9 L428.2,702.8 L429.1,704.4 L429.9,704.8 L430.8,699.7 L431.7,700.1 L432.6,700.8 L433.4,697.3 L434.3,695.2 L435.2,698.1 L436.1,694.9 L436.9,694.9 L437.8,696.2 L438.7,695.5 L439.6,691.2 L440.4,690.3 L441.3,692.2 L442.2,690.9 L443.1,686.3 L443.9,694.6 L444.8,691.4 L445.7,693.4 L446.6,688.6 L447.4,695.2 L448.3,690.5 L449.2,691.9 L450.1,688.6 L450.9,691.9 L451.8,691.7 L452.7,691.7 L453.6,693.2 L454.5,692.0 L455.3,694.0 L456.2,689.8 L457.1,687.9 L458.0,689.9 L458.8,690.8 L459.7,691.6 L460.6,689.6 L461.5,681.9 L462.3,686.5 L463.2,688.3 L464.1,683.7 L465.0,681.1 L465.8,682.3 L466.7,679.2 L467.6,681.3 L468.5,678.8 L469.3,681.8 L470.2,678.9 L471.1,675.3 L472.0,678.5 L472.8,679.2 L473.7,675.3 L474.6,675.8 L475.5,671.2 L476.3,679.8 L477.2,676.4 L478.1,673.0 L479.0,674.7 L479.9,679.9 L480.7,683.8 L481.6,683.2 L482.5,686.4 L483.4,684.2 L484.2,685.4 L485.1,693.0 L486.0,693.6 L486.9,693.8 L487.7,698.6 L488.6,694.1 L489.5,696.6 L490.4,701.5 L491.2,704.6 L492.1,700.8 L493.0,705.9 L493.9,700.6 L494.7,703.5 L495.6,702.4 L496.5,698.8 L497.4,703.5 L498.2,704.8 L499.1,701.5 L500.0,701.1 L500.9,704.1 L501.7,696.4 L502.6,695.0 L503.5,696.4 L504.4,694.2 L505.2,700.1 L506.1,696.8 L507.0,693.2 L507.9,693.4 L508.8,702.2 L509.6,692.9 L510.5,692.5 L511.4,695.4 L512.3,696.5 L513.1,695.9 L514.0,693.5 L514.9,693.7 L515.8,699.2 L516.6,698.6 L517.5,695.8 L518.4,704.5 L519.3,705.0 L520.1,703.9 L521.0,705.4 L521.9,708.4 L522.8,707.6 L523.6,707.6 L524.5,713.5 L525.4,710.4 L526.3,716.6 L527.1,713.1 L528.0,717.7 L528.9,718.5 L529.8,724.3 L530.6,717.4 L531.5,716.9 L532.4,719.1 L533.3,717.8 L534.2,718.9 L535.0,721.1 L535.9,721.3 L536.8,722.7 L537.7,715.4 L538.5,722.9 L539.4,719.8 L540.3,712.7 L541.2,705.9 L542.0,710.3 L542.9,709.5 L543.8,702.2 L544.7,707.4 L545.5,706.0 L546.4,703.9 L547.3,707.3 L548.2,708.3 L549.0,704.7 L549.9,707.2 L550.8,705.8 L551.7,706.8 L552.5,710.6 L553.4,713.7 L554.3,712.9 L555.2,710.9 L556.0,720.6 L556.9,717.4 L557.8,724.5 L558.7,731.6 L559.5,729.9 L560.4,729.8 L561.3,732.3 L562.2,742.3 L563.1,742.4 L563.9,747.0 L564.8,751.1 L565.7,751.4 L566.6,753.5 L567.4,754.5 L568.3,751.3 L569.2,757.6 L570.1,763.5 L570.9,765.1 L571.8,768.3 L572.7,768.4 L573.6,770.3 L574.4,772.9 L575.3,769.1 L576.2,770.9 L577.1,767.4 L577.9,773.9 L578.8,770.9 L579.7,771.4 L580.6,773.3 L581.4,771.2 L582.3,767.2 L583.2,768.2 L584.1,761.2 L584.9,764.8 L585.8,762.7 L586.7,756.8 L587.6,763.1 L588.5,756.4 L589.3,758.5 L590.2,754.2 L591.1,756.3 L592.0,755.6 L592.8,748.5 L593.7,745.1 L594.6,747.1 L595.5,748.1 L596.3,743.3 L597.2,741.2 L598.1,742.5 L599.0,732.6 L599.8,736.6 L600.7,733.3 L601.6,736.2 L602.5,732.1 L603.3,729.6 L604.2,730.1 L605.1,725.6 L606.0,727.7 L606.8,724.2 L607.7,723.2 L608.6,720.6 L609.5,723.2 L610.3,718.9 L611.2,719.1 L612.1,717.6 L613.0,713.1 L613.8,715.6 L614.7,714.1 L615.6,713.1 L616.5,710.4 L617.4,709.6 L618.2,712.0 L619.1,715.1 L620.0,707.0 L620.9,710.4 L621.7,708.4 L622.6,711.9 L623.5,711.9 L624.4,714.5 L625.2,705.6 L626.1,712.4 L627.0,712.6 L627.9,716.0 L628.7,715.6 L629.6,717.0 L630.5,721.6 L631.4,726.1 L632.2,715.1 L633.1,723.1 L634.0,726.1 L634.9,726.7 L635.7,727.2 L636.6,725.9 L637.5,728.2 L638.4,733.7 L639.2,735.6 L640.1,733.9 L641.0,732.3 L641.9,735.4 L642.8,735.2 L643.6,737.7 L644.5,737.1 L645.4,735.6 L646.3,738.1 L647.1,734.9 L648.0,740.3 L648.9,741.5 L649.8,735.6 L650.6,739.9 L651.5,736.3 L652.4,741.8 L653.3,741.4 L654.1,738.4 L655.0,741.5 L655.9,737.7 L656.8,737.0 L657.6,737.0 L658.5,737.9 L659.4,737.1 L660.3,738.0 L661.1,735.6 L662.0,738.7 L662.9,738.8 L663.8,734.3 L664.6,731.2 L665.5,736.0 L666.4,736.3 L667.3,732.1 L668.1,728.3 L669.0,731.4 L669.9,733.7 L670.8,723.8 L671.7,728.9 L672.5,725.8 L673.4,723.4 L674.3,726.0 L675.2,720.5 L676.0,724.0 L676.9,726.3 L677.8,723.1 L678.7,720.4 L679.5,718.3 L680.4,720.2 L681.3,719.5 L682.2,729.6 L683.0,726.1 L683.9,725.7 L684.8,727.0 L685.7,729.8 L686.5,734.3 L687.4,734.6 L688.3,745.3 L689.2,742.3 L690.0,745.6 L690.9,752.0 L691.8,758.6 L692.7,761.9 L693.5,760.9 L694.4,766.5 L695.3,769.8 L696.2,774.4 L697.0,777.3 L697.9,777.7 L698.8,780.3 L699.7,787.2 L700.6,786.5 L701.4,795.6 L702.3,793.9 L703.2,792.4 L704.1,795.0 L704.9,794.9 L705.8,796.0 L706.7,798.7 L707.6,792.1 L708.4,790.3 L709.3,794.9 L710.2,791.9 L711.1,790.7 L711.9,788.8 L712.8,784.2 L713.7,783.7 L714.6,776.1 L715.4,775.4 L716.3,769.9 L717.2,766.2 L718.1,767.8 L718.9,764.9 L719.8,755.7 L720.7,755.2 L721.6,756.4 L722.4,756.2 L723.3,749.6 L724.2,749.1 L725.1,744.4 L726.0,753.5 L726.8,747.4 L727.7,748.1 L728.6,747.3 L729.5,748.1 L730.3,747.6 L731.2,745.8 L732.1,749.3 L733.0,748.5 L733.8,752.6 L734.7,748.4 L735.6,749.9 L736.5,753.9 L737.3,756.4 L738.2,754.2 L739.1,752.5 L740.0,754.5 L740.8,753.7 L741.7,759.9 L742.6,757.1 L743.5,757.6 L744.3,754.4 L745.2,751.3 L746.1,754.8 L747.0,754.8 L747.8,750.7 L748.7,747.6 L749.6,749.0 L750.5,743.6 L751.3,745.0 L752.2,739.6 L753.1,737.4 L754.0,739.9 L754.9,737.9 L755.7,740.6 L756.6,733.7 L757.5,733.4 L758.4,729.3 L759.2,726.5 L760.1,725.8 L761.0,730.9 L761.9,725.9 L762.7,731.2 L763.6,731.4 L764.5,726.5 L765.4,731.2 L766.2,727.2 L767.1,729.3 L768.0,725.7 L768.9,728.8 L769.7,723.8 L770.6,727.9 L771.5,725.0 L772.4,725.8 L773.2,727.5 L774.1,726.0 L775.0,724.9 L775.9,726.3 L776.7,725.8 L777.6,719.2 L778.5,723.3 L779.4,722.5 L780.3,717.6 L781.1,719.3 L782.0,713.5 L782.9,719.2 L783.8,713.4 L784.6,712.4 L785.5,714.3 L786.4,709.4 L787.3,710.0 L788.1,704.5 L789.0,704.7 L789.9,701.6 L790.8,704.1 L791.6,706.9 L792.5,704.5 L793.4,706.1 L794.3,701.0 L795.1,701.4 L796.0,702.5 L796.9,705.3 L797.8,705.0 L798.6,704.4 L799.5,706.7 L800.4,705.5 L801.3,707.0 L802.1,711.7 L803.0,708.2 L803.9,711.7 L804.8,717.0 L805.6,714.6 L806.5,717.7 L807.4,715.7 L808.3,723.7 L809.2,714.0 L810.0,717.9 L810.9,719.0 L811.8,726.6 L812.7,723.9 L813.5,722.7 L814.4,720.3 L815.3,724.7 L816.2,724.1 L817.0,721.9 L817.9,719.6 L818.8,720.2 L819.7,723.1 L820.5,722.6 L821.4,721.1 L822.3,719.4 L823.2,714.1 L824.0,717.7 L824.9,713.8 L825.8,715.6 L826.7,715.8 L827.5,712.1 L828.4,710.5 L829.3,715.2 L830.2,713.2 L831.0,710.5 L831.9,704.3 L832.8,712.2 L833.7,714.3 L834.6,716.2 L835.4,712.3 L836.3,713.3 L837.2,715.0 L838.1,719.6 L838.9,715.8 L839.8,720.0 L840.7,719.6 L841.6,724.3 L842.4,721.3 L843.3,727.9 L844.2,727.2 L845.1,729.3 L845.9,732.5 L846.8,735.1 L847.7,728.6 L848.6,736.3 L849.4,735.7 L850.3,733.9 L851.2,738.6 L852.1,735.6 L852.9,738.4 L853.8,733.2 L854.7,731.9 L855.6,736.5 L856.4,737.9 L857.3,732.7 L858.2,731.9 L859.1,726.9 L859.9,723.2 L860.8,724.7 L861.7,727.8 L862.6,717.8 L863.5,720.2 L864.3,715.4 L865.2,719.8 L866.1,721.0 L867.0,715.0 L867.8,716.9 L868.7,721.4 L869.6,718.1 L870.5,715.8 L871.3,716.7 L872.2,716.4 L873.1,725.5 L874.0,723.8 L874.8,731.1 L875.7,733.4 L876.6,732.5 L877.5,735.9 L878.3,742.5 L879.2,744.0 L880.1,747.5 L881.0,745.6 L881.8,755.3 L882.7,753.8 L883.6,753.1 L884.5,760.2 L885.3,765.7 L886.2,772.6 L887.1,768.7 L888.0,768.5 L888.8,779.7 L889.7,776.5 L890.6,777.2 L891.5,776.6 L892.4,778.1 L893.2,785.5 L894.1,781.7 L895.0,781.5 L895.9,781.8 L896.7,787.2 L897.6,781.5 L898.5,784.4 L899.4,782.9 L900.2,782.2 L901.1,778.4 L902.0,781.4 L902.9,782.6 L903.7,776.8 L904.6,773.0 L905.5,770.4 L906.4,772.5 L907.2,769.7 L908.1,768.6 L909.0,767.5 L909.9,762.4 L910.7,767.1 L911.6,764.5 L912.5,762.7 L913.4,762.5 L914.2,763.3 L915.1,760.0 L916.0,756.6 L916.9,760.7 L917.8,755.4 L918.6,753.5 L919.5,750.1 L920.4,752.9 L921.3,748.8 L922.1,748.8 L923.0,749.8 L923.9,747.3 L924.8,748.3 L925.6,745.0 L926.5,741.7 L927.4,740.5 L928.3,738.6 L929.1,740.3 L930.0,737.4 L930.9,735.2 L931.8,737.3 L932.6,734.4 L933.5,732.0 L934.4,728.5 L935.3,732.9 L936.1,731.8 L937.0,730.8 L937.9,729.2 L938.8,728.0 L939.6,729.5 L940.5,730.8 L941.4,730.1 L942.3,730.5 L943.1,730.2 L944.0,732.9 L944.9,733.4 L945.8,731.8 L946.7,736.7 L947.5,738.0 L948.4,739.3 L949.3,738.1 L950.2,739.4 L951.0,738.4 L951.9,745.0 L952.8,739.1 L953.7,745.3 L954.5,747.1 L955.4,751.8 L956.3,751.0 L957.2,749.9 L958.0,750.0 L958.9,752.9 L959.8,756.1 L960.7,756.9 L961.5,757.1 L962.4,756.6 L963.3,758.5 L964.2,762.2 L965.0,757.3 L965.9,760.8 L966.8,765.4 L967.7,763.0 L968.5,760.8 L969.4,764.0 L970.3,760.7 L971.2,762.9 L972.1,767.2 L972.9,768.4 L973.8,759.2 L974.7,765.7 L975.6,769.1 L976.4,762.7 L977.3,764.9 L978.2,768.2 L979.1,763.0 L979.9,765.4 L980.8,764.0 L981.7,759.0 L982.6,764.7 L983.4,763.0 L984.3,765.6 L985.2,768.3 L986.1,764.2 L986.9,761.0 L987.8,762.7 L988.7,761.6 L989.6,763.2 L990.4,756.4 L991.3,756.6 L992.2,753.9 L993.1,760.4 L993.9,758.4 L994.8,756.6 L995.7,756.2 L996.6,756.6 L997.4,755.7 L998.3,757.6 L999.2,757.5 L1000.1,763.0 L1001.0,761.0 L1001.8,759.0 L1002.7,760.9 L1003.6,767.1 L1004.5,767.1 L1005.3,769.1 L1006.2,773.1 L1007.1,778.5 L1008.0,774.7 L1008.8,779.6 L1009.7,780.7 L1010.6,790.2 L1011.5,791.5 L1012.3,794.3 L1013.2,797.6 L1014.1,804.9 L1015.0,806.2 L1015.8,808.6 L1016.7,816.6 L1017.6,813.8 L1018.5,816.4 L1019.3,829.3 L1020.2,824.3 L1021.1,826.3 L1022.0,828.0 L1022.8,831.4 L1023.7,835.5 L1024.6,836.8 L1025.5,837.4 L1026.4,836.0 L1027.2,833.2 L1028.1,837.7 L1029.0,840.2 L1029.9,837.9 L1030.7,833.0 L1031.6,833.3 L1032.5,827.6 L1033.4,825.5 L1034.2,819.3 L1035.1,818.6 L1036.0,816.6 L1036.9,812.7 L1037.7,812.2 L1038.6,812.3 L1039.5,808.1 L1040.4,801.4 L1041.2,798.0 L1042.1,796.2 L1043.0,793.6 L1043.9,794.8 L1044.7,794.9 L1045.6,793.6 L1046.5,793.4 L1047.4,793.3 L1048.2,792.8 L1049.1,791.7 L1050.0,798.7 L1050.9,797.6 L1051.7,793.4 L1052.6,794.3 L1053.5,796.2 L1054.4,798.9 L1055.3,803.2 L1056.1,803.7 L1057.0,804.8 L1057.9,805.8 L1058.8,806.7 L1059.6,806.4 L1060.5,806.2 L1061.4,805.0 L1062.3,801.0 L1063.1,805.2 L1064.0,810.0 L1064.9,803.5 L1065.8,802.7 L1066.6,806.3 L1067.5,802.9 L1068.4,800.4 L1069.3,804.4 L1070.1,800.6 L1071.0,799.4 L1071.9,794.4 L1072.8,795.6 L1073.6,793.8 L1074.5,793.6 L1075.4,793.3 L1076.3,792.3 L1077.1,788.9 L1078.0,789.5 L1078.9,784.1 L1079.8,788.3 L1080.7,788.1 L1081.5,785.0 L1082.4,783.9 L1083.3,785.7 L1084.2,782.7 L1085.0,786.8 L1085.9,786.8 L1086.8,783.7 L1087.7,786.4 L1088.5,789.2 L1089.4,789.3 L1090.3,789.2 L1091.2,786.3 L1092.0,785.8 L1092.9,785.6 L1093.8,788.1 L1094.7,792.5 L1095.5,789.8 L1096.4,790.0 L1097.3,788.9 L1098.2,780.7 L1099.0,783.7 L1099.9,782.3 L1100.8,785.8 L1101.7,786.0 L1102.5,778.8 L1103.4,779.5 L1104.3,779.7 L1105.2,775.8 L1106.0,774.2 L1106.9,773.0 L1107.8,776.1 L1108.7,770.6 L1109.6,775.2 L1110.4,771.9 L1111.3,773.3 L1112.2,775.0 L1113.1,769.1 L1113.9,768.6 L1114.8,771.9 L1115.7,768.4 L1116.6,769.5 L1117.4,771.6 L1118.3,773.0 L1119.2,770.2 L1120.1,773.4 L1120.9,777.0 L1121.8,780.2 L1122.7,772.9 L1123.6,782.7 L1124.4,783.0 L1125.3,779.4 L1126.2,779.8 L1127.1,786.2 L1127.9,785.5 L1128.8,788.4 L1129.7,791.6 L1130.6,789.7 L1131.4,792.3 L1132.3,794.1 L1133.2,796.0 L1134.1,798.8 L1134.9,799.1 L1135.8,795.5 L1136.7,794.3 L1137.6,801.0 L1138.5,796.3 L1139.3,795.4 L1140.2,791.0 L1141.1,795.3 L1142.0,790.7 L1142.8,790.9 L1143.7,788.0 L1144.6,789.5 L1145.5,790.4 L1146.3,785.8 L1147.2,787.0 L1148.1,788.8 L1149.0,785.6 L1149.8,785.7 L1150.7,787.1 L1151.6,785.9 L1152.5,791.7 L1153.3,788.2 L1154.2,793.5 L1155.1,794.8 L1156.0,790.3 L1156.8,794.6 L1157.7,794.6 L1158.6,794.3 L1159.5,797.9 L1160.3,799.8 L1161.2,803.9 L1162.1,806.4 L1163.0,802.5 L1163.9,805.8 L1164.7,809.6 L1165.6,812.6 L1166.5,804.3 L1167.4,814.9 L1168.2,812.0 L1169.1,817.1 L1170.0,812.5 L1170.9,811.7 L1171.7,814.0 L1172.6,816.9 L1173.5,813.6 L1174.4,807.0 L1175.2,814.2 L1176.1,807.5 L1177.0,808.2 L1177.9,806.7 L1178.7,803.8 L1179.6,804.1 L1180.5,803.6 L1181.4,803.3 L1182.2,803.7 L1183.1,802.0 L1184.0,798.2 L1184.9,801.0 L1185.7,803.6 L1186.6,803.2 L1187.5,801.0 L1188.4,802.4 L1189.2,803.3 L1190.1,805.1 L1191.0,806.8 L1191.9,802.7 L1192.8,804.4 L1193.6,810.8 L1194.5,813.1 L1195.4,815.4 L1196.3,807.8 L1197.1,815.9 L1198.0,810.8 L1198.9,824.2 L1199.8,825.6 L1200.6,829.1 L1201.5,832.2 L1202.4,839.6 L1203.3,839.0 L1204.1,846.0 L1205.0,848.0 L1205.9,850.6 L1206.8,853.7 L1207.6,855.3 L1208.5,854.5 L1209.4,861.2 L1210.3,863.0 L1211.1,862.2 L1212.0,865.8 L1212.9,867.3 L1213.8,862.5 L1214.6,866.2 L1215.5,865.9 L1216.4,864.9 L1217.3,868.2 L1218.2,864.9 L1219.0,865.4 L1219.9,866.3 L1220.8,865.6 L1221.7,864.4 L1222.5,868.2 L1223.4,859.9 L1224.3,860.7 L1225.2,855.8 L1226.0,859.0 L1226.9,859.6 L1227.8,858.6 L1228.7,852.6 L1229.5,852.4 L1230.4,855.2 L1231.3,850.4 L1232.2,851.9 L1233.0,845.6 L1233.9,850.5 L1234.8,848.3 L1235.7,845.5 L1236.5,840.9 L1237.4,841.3 L1238.3,840.8 L1239.2,839.7 L1240.0,837.4 L1240.9,835.7 L1241.8,835.4 L1242.7,837.0 L1243.5,826.7 L1244.4,826.8 L1245.3,824.8 L1246.2,825.4 L1247.1,820.9 L1247.9,825.2 L1248.8,822.2 L1249.7,819.5 L1250.6,816.6 L1251.4,817.2 L1252.3,815.8 L1253.2,815.0 L1254.1,811.4 L1254.9,814.3 L1255.8,808.4 L1256.7,815.3 L1257.6,804.0 L1258.4,810.5 L1259.3,809.1 L1260.2,814.5 L1261.1,809.0 L1261.9,818.2 L1262.8,810.1 L1263.7,820.1 L1264.6,816.9 L1265.4,816.9 L1266.3,819.1 L1267.2,824.9 L1268.1,822.8 L1268.9,816.0 L1269.8,826.4 L1270.7,825.3 L1271.6,821.9 L1272.5,829.4 L1273.3,825.5 L1274.2,830.3 L1275.1,831.6 L1276.0,830.3 L1276.8,834.6 L1277.7,831.2 L1278.6,835.3 L1279.5,834.3 L1280.3,836.1 L1281.2,842.5 L1282.1,838.7 L1283.0,836.5 L1283.8,839.8 L1284.7,839.0 L1285.6,841.8 L1286.5,842.9 L1287.3,843.3 L1288.2,843.9 L1289.1,842.7 L1290.0,845.8 L1290.8,847.7 L1291.7,843.7 L1292.6,845.4 L1293.5,845.9 L1294.3,849.1 L1295.2,848.7 L1296.1,844.0 L1297.0,846.0 L1297.8,841.9 L1298.7,843.1 L1299.6,845.4 L1300.5,846.7 L1301.4,847.1 L1302.2,843.4 L1303.1,840.1 L1304.0,844.1 L1304.9,842.0 L1305.7,842.8 L1306.6,841.4 L1307.5,842.1 L1308.4,841.3 L1309.2,841.1 L1310.1,837.1 L1311.0,840.3 L1311.9,835.9 L1312.7,837.0 L1313.6,841.3 L1314.5,837.1 L1315.4,832.9 L1316.2,839.7 L1317.1,838.3 L1318.0,838.8 L1318.9,836.6 L1319.7,837.4 L1320.6,836.7 L1321.5,836.6 L1322.4,843.8 L1323.2,840.5 L1324.1,842.2 L1325.0,844.6 L1325.9,853.1 L1326.7,853.3 L1327.6,853.1 L1328.5,857.2 L1329.4,862.3 L1330.3,867.1 L1331.1,864.6 L1332.0,875.2 L1332.9,876.2 L1333.8,878.9 L1334.6,883.3 L1335.5,889.9 L1336.4,895.8 L1337.3,894.9 L1338.1,899.1 L1339.0,898.5 L1339.9,904.6 L1340.8,908.0 L1341.6,904.3 L1342.5,908.7 L1343.4,913.7 L1344.3,908.3 L1345.1,912.6 L1346.0,915.5 L1346.9,909.4 L1347.8,912.1 L1348.6,912.1 L1349.5,912.8 L1350.4,905.3 L1351.3,909.3 L1352.1,904.8 L1353.0,904.4 L1353.9,901.5 L1354.8,896.4 L1355.7,893.6 L1356.5,884.6 L1357.4,882.5 L1358.3,880.2 L1359.2,878.9 L1360.0,879.4 L1360.9,869.8 L1361.8,871.3 L1362.7,866.8 L1363.5,864.7 L1364.4,871.6 L1365.3,867.4 L1366.2,871.0 L1367.0,869.6 L1367.9,864.0 L1368.8,861.6 L1369.7,871.9 L1370.5,865.9 L1371.4,864.6 L1372.3,870.2 L1373.2,869.8 L1374.0,868.9 L1374.9,871.0 L1375.8,873.6 L1376.7,874.6 L1377.5,877.5 L1378.4,875.6 L1379.3,876.6 L1380.2,879.8 L1381.0,879.6 L1381.9,882.0 L1382.8,878.6 L1383.7,878.8 L1384.6,875.7 L1385.4,881.8 L1386.3,873.2 L1387.2,876.0 L1388.1,871.8 L1388.9,873.5 L1389.8,873.1 L1390.7,865.5 L1391.6,867.9 L1392.4,862.6 L1393.3,869.5 L1394.2,863.5 L1395.1,859.3 L1395.9,860.3 L1396.8,864.3 L1397.7,863.7 L1398.6,862.0 L1399.4,855.7 L1400.3,856.6 L1401.2,860.6 L1402.1,853.9 L1402.9,854.6 L1403.8,852.8 L1404.7,852.0 L1405.6,858.1 L1406.4,856.4 L1407.3,855.9 L1408.2,856.1 L1409.1,857.0 L1410.0,858.1 L1410.8,854.0 L1411.7,853.0 L1412.6,851.0 L1413.5,856.3 L1414.3,851.9 L1415.2,849.2 L1416.1,852.1 L1417.0,852.5 L1417.8,854.1 L1418.7,854.0 L1419.6,848.8 L1420.5,847.8 L1421.3,848.1 L1422.2,844.8 L1423.1,846.5 L1424.0,846.9 L1424.8,844.6 L1425.7,839.2 L1426.6,839.3 L1427.5,844.8 L1428.3,837.9 L1429.2,841.7 L1430.1,840.7 L1431.0,837.7 L1431.8,835.5 L1432.7,838.3 L1433.6,835.3 L1434.5,837.2 L1435.3,838.1 L1436.2,836.2 L1437.1,838.0 L1438.0,838.4 L1438.9,836.8 L1439.7,840.3 L1440.6,840.1 L1441.5,838.1 L1442.4,843.1 L1443.2,844.4 L1444.1,844.7 L1445.0,842.2 L1445.9,851.0 L1446.7,852.1 L1447.6,853.5 L1448.5,854.2 L1449.4,851.6 L1450.2,856.6 L1451.1,855.2 L1452.0,864.5 L1452.9,858.5 L1453.7,862.5 L1454.6,857.4 L1455.5,858.8 L1456.4,860.7 L1457.2,863.9 L1458.1,863.2 L1459.0,862.1 L1459.9,855.9 L1460.7,863.0 L1461.6,856.8 L1462.5,862.5 L1463.4,862.3 L1464.3,858.7 L1465.1,858.3 L1466.0,851.6 L1466.9,860.9 L1467.8,854.2 L1468.6,855.7 L1469.5,850.5 L1470.4,852.4 L1471.3,849.5 L1472.1,852.2 L1473.0,853.3 L1473.9,854.5 L1474.8,858.1 L1475.6,856.5 L1476.5,856.8 L1477.4,857.2 L1478.3,863.4 L1479.1,857.9 L1480.0,864.0 L1480.9,857.5 L1481.8,862.3 L1482.6,867.6 L1483.5,868.1 L1484.4,878.2 L1485.3,878.8 L1486.1,869.7 L1487.0,872.2 L1487.9,875.7 L1488.8,881.5 L1489.6,880.6 L1490.5,878.8 L1491.4,874.4 L1492.3,875.8 L1493.2,870.7 L1494.0,873.1 L1494.9,877.3 L1495.8,877.3 L1496.7,870.7 L1497.5,873.0 L1498.4,875.6 L1499.3,870.3 L1500.2,867.5 L1501.0,868.4 L1501.9,866.8 L1502.8,864.4 L1503.7,861.7 L1504.5,861.2 L1505.4,861.9 L1506.3,859.8 L1507.2,864.4 L1508.0,863.2 L1508.9,863.8 L1509.8,866.5 L1510.7,866.0 L1511.5,866.6 L1512.4,865.4 L1513.3,865.9 L1514.2,874.7 L1515.0,869.6 L1515.9,872.5 L1516.8,874.6 L1517.7,880.3 L1518.6,883.7 L1519.4,888.3 L1520.3,888.1 L1521.2,887.3 L1522.1,895.7 L1522.9,900.4 L1523.8,900.8 L1524.7,903.2 L1525.6,907.8 L1526.4,913.3 L1527.3,912.4 L1528.2,911.7 L1529.1,916.2 L1529.9,919.1 L1530.8,916.3 L1531.7,924.5 L1532.6,921.8 L1533.4,926.4 L1534.3,926.6 L1535.2,926.1 L1536.1,931.6 L1536.9,926.0 L1537.8,925.6 L1538.7,927.8 L1539.6,928.9 L1540.4,926.2 L1541.3,923.1 L1542.2,926.8 L1543.1,925.8 L1543.9,928.9 L1544.8,921.8 L1545.7,921.1 L1546.6,916.9 L1547.5,912.3 L1548.3,914.4 L1549.2,914.6 L1550.1,907.9 L1551.0,906.9 L1551.8,903.7 L1552.7,908.4 L1553.6,901.5 L1554.5,903.1 L1555.3,897.9 L1556.2,898.8 L1557.1,895.6 L1558.0,889.6 L1558.8,894.5 L1559.7,894.2 L1560.6,886.0 L1561.5,889.5 L1562.3,887.3 L1563.2,884.1 L1564.1,884.7 L1565.0,878.7 L1565.8,882.7 L1566.7,883.4 L1567.6,875.4 L1568.5,876.9 L1569.3,879.3 L1570.2,874.4 L1571.1,871.4 L1572.0,869.2 L1572.8,870.8 L1573.7,868.9 L1574.6,869.8 L1575.5,863.3 L1576.4,869.2 L1577.2,864.7 L1578.1,867.0 L1579.0,863.3 L1579.9,861.8 L1580.7,863.8 L1581.6,863.1 L1582.5,865.0 L1583.4,868.2 L1584.2,869.9 L1585.1,868.4 L1586.0,867.4 L1586.9,868.7 L1587.7,872.7 L1588.6,875.5 L1589.5,873.2 L1590.4,875.2 L1591.2,875.2 L1592.1,879.4 L1593.0,882.9 L1593.9,874.4 L1594.7,884.0 L1595.6,883.2 L1596.5,879.7 L1597.4,887.7 L1598.2,887.7 L1599.1,889.9 L1600.0,886.3 L1600.9,896.2 L1601.8,891.7 L1602.6,891.2 L1603.5,896.7 L1604.4,895.1 L1605.3,896.1 L1606.1,897.4 L1607.0,889.5 L1607.9,899.6 L1608.8,894.7 L1609.6,896.7 L1610.5,898.6 L1611.4,894.6 L1612.3,897.5 L1613.1,898.8 L1614.0,896.9 L1614.9,898.4 L1615.8,893.0 L1616.6,894.0 L1617.5,894.1 L1618.4,897.9 L1619.3,906.5 L1620.1,897.2 L1621.0,895.8 L1621.9,895.6 L1622.8,897.9 L1623.6,896.7 L1624.5,891.2 L1625.4,896.1 L1626.3,892.7 L1627.1,894.1 L1628.0,885.9 L1628.9,886.2 L1629.8,890.9 L1630.7,883.7 L1631.5,888.5 L1632.4,887.6 L1633.3,886.3 L1634.2,886.1 L1635.0,885.3 L1635.9,885.4 L1636.8,882.8 L1637.7,883.7 L1638.5,891.4 L1639.4,887.1 L1640.3,886.3 L1641.2,886.6 L1642.0,885.1 L1642.9,889.3 L1643.8,890.1 L1644.7,895.6 L1645.5,893.5 L1646.4,893.0 L1647.3,902.9 L1648.2,911.2 L1649.0,920.7 L1649.9,921.6 L1650.8,921.0 L1651.7,927.5 L1652.5,929.9 L1653.4,936.0 L1654.3,938.0 L1655.2,939.5 L1656.1,948.0 L1656.9,950.3 L1657.8,952.0 L1658.7,954.3 L1658.7,954.8 L1657.8,954.3 L1656.9,954.3 L1656.1,954.3 L1655.2,951.4 L1654.3,948.4 L1653.4,944.9 L1652.5,938.8 L1651.7,938.5 L1650.8,934.2 L1649.9,933.3 L1649.0,927.3 L1648.2,921.0 L1647.3,917.3 L1646.4,911.2 L1645.5,911.9 L1644.7,909.4 L1643.8,906.8 L1642.9,907.2 L1642.0,901.2 L1641.2,903.5 L1640.3,899.3 L1639.4,896.7 L1638.5,900.6 L1637.7,901.1 L1636.8,899.8 L1635.9,899.8 L1635.0,902.6 L1634.2,900.2 L1633.3,900.7 L1632.4,904.7 L1631.5,901.7 L1630.7,901.6 L1629.8,901.9 L1628.9,906.4 L1628.0,907.2 L1627.1,904.7 L1626.3,908.5 L1625.4,908.8 L1624.5,907.5 L1623.6,906.3 L1622.8,906.1 L1621.9,906.4 L1621.0,907.0 L1620.1,905.5 L1619.3,907.0 L1618.4,908.7 L1617.5,906.9 L1616.6,912.1 L1615.8,906.5 L1614.9,907.6 L1614.0,906.1 L1613.1,907.5 L1612.3,906.3 L1611.4,905.3 L1610.5,907.3 L1609.6,904.7 L1608.8,905.3 L1607.9,905.8 L1607.0,904.1 L1606.1,902.9 L1605.3,903.9 L1604.4,905.8 L1603.5,900.3 L1602.6,901.1 L1601.8,900.5 L1600.9,899.6 L1600.0,902.1 L1599.1,899.8 L1598.2,896.3 L1597.4,900.5 L1596.5,895.9 L1595.6,895.3 L1594.7,893.9 L1593.9,894.2 L1593.0,892.9 L1592.1,890.6 L1591.2,890.0 L1590.4,889.3 L1589.5,885.2 L1588.6,885.7 L1587.7,884.2 L1586.9,883.1 L1586.0,883.8 L1585.1,882.2 L1584.2,883.2 L1583.4,882.7 L1582.5,879.9 L1581.6,880.4 L1580.7,881.4 L1579.9,879.5 L1579.0,878.4 L1578.1,880.6 L1577.2,884.3 L1576.4,882.6 L1575.5,882.5 L1574.6,883.1 L1573.7,885.2 L1572.8,886.6 L1572.0,884.7 L1571.1,887.0 L1570.2,891.2 L1569.3,888.7 L1568.5,892.0 L1567.6,894.2 L1566.7,895.4 L1565.8,897.0 L1565.0,897.4 L1564.1,898.9 L1563.2,902.9 L1562.3,900.3 L1561.5,905.0 L1560.6,903.8 L1559.7,904.1 L1558.8,906.8 L1558.0,907.4 L1557.1,908.2 L1556.2,912.5 L1555.3,909.1 L1554.5,911.4 L1553.6,915.3 L1552.7,918.0 L1551.8,918.0 L1551.0,915.0 L1550.1,920.8 L1549.2,921.3 L1548.3,923.6 L1547.5,926.3 L1546.6,927.4 L1545.7,929.6 L1544.8,928.8 L1543.9,931.1 L1543.1,933.9 L1542.2,932.5 L1541.3,931.6 L1540.4,931.4 L1539.6,935.7 L1538.7,933.3 L1537.8,936.0 L1536.9,931.6 L1536.1,932.1 L1535.2,931.9 L1534.3,935.5 L1533.4,933.9 L1532.6,928.8 L1531.7,930.4 L1530.8,927.0 L1529.9,928.4 L1529.1,924.6 L1528.2,922.0 L1527.3,922.2 L1526.4,917.8 L1525.6,913.9 L1524.7,909.4 L1523.8,912.4 L1522.9,910.8 L1522.1,904.8 L1521.2,904.6 L1520.3,900.1 L1519.4,897.3 L1518.6,899.3 L1517.7,892.0 L1516.8,893.7 L1515.9,890.0 L1515.0,885.1 L1514.2,885.9 L1513.3,881.0 L1512.4,884.0 L1511.5,878.9 L1510.7,879.1 L1509.8,877.8 L1508.9,878.7 L1508.0,877.7 L1507.2,877.7 L1506.3,877.6 L1505.4,879.1 L1504.5,877.9 L1503.7,876.7 L1502.8,880.0 L1501.9,878.7 L1501.0,881.7 L1500.2,880.1 L1499.3,882.3 L1498.4,884.7 L1497.5,883.6 L1496.7,885.0 L1495.8,887.5 L1494.9,885.5 L1494.0,886.3 L1493.2,887.7 L1492.3,887.5 L1491.4,885.0 L1490.5,886.5 L1489.6,887.8 L1488.8,887.1 L1487.9,883.3 L1487.0,885.6 L1486.1,882.4 L1485.3,884.0 L1484.4,879.5 L1483.5,879.1 L1482.6,878.0 L1481.8,877.3 L1480.9,874.5 L1480.0,874.8 L1479.1,871.4 L1478.3,869.7 L1477.4,870.5 L1476.5,869.0 L1475.6,868.8 L1474.8,868.1 L1473.9,868.9 L1473.0,865.9 L1472.1,867.2 L1471.3,861.2 L1470.4,863.1 L1469.5,866.6 L1468.6,866.1 L1467.8,863.9 L1466.9,869.2 L1466.0,868.7 L1465.1,867.6 L1464.3,869.9 L1463.4,869.2 L1462.5,871.0 L1461.6,870.9 L1460.7,871.2 L1459.9,870.6 L1459.0,871.8 L1458.1,871.1 L1457.2,870.5 L1456.4,875.3 L1455.5,871.3 L1454.6,870.5 L1453.7,873.8 L1452.9,867.4 L1452.0,869.5 L1451.1,867.9 L1450.2,868.5 L1449.4,868.5 L1448.5,866.0 L1447.6,865.2 L1446.7,862.3 L1445.9,861.4 L1445.0,859.4 L1444.1,857.7 L1443.2,857.0 L1442.4,857.2 L1441.5,857.1 L1440.6,856.1 L1439.7,856.9 L1438.9,855.2 L1438.0,852.2 L1437.1,852.8 L1436.2,851.7 L1435.3,853.2 L1434.5,852.6 L1433.6,849.9 L1432.7,852.2 L1431.8,852.6 L1431.0,855.6 L1430.1,853.4 L1429.2,852.2 L1428.3,852.6 L1427.5,854.1 L1426.6,857.9 L1425.7,856.7 L1424.8,855.5 L1424.0,858.0 L1423.1,858.3 L1422.2,857.6 L1421.3,860.8 L1420.5,861.3 L1419.6,863.6 L1418.7,864.4 L1417.8,864.2 L1417.0,866.4 L1416.1,863.0 L1415.2,867.0 L1414.3,866.9 L1413.5,867.7 L1412.6,863.4 L1411.7,864.8 L1410.8,864.7 L1410.0,867.8 L1409.1,866.2 L1408.2,867.0 L1407.3,867.1 L1406.4,865.3 L1405.6,866.0 L1404.7,866.7 L1403.8,872.1 L1402.9,870.6 L1402.1,866.7 L1401.2,868.1 L1400.3,872.5 L1399.4,871.6 L1398.6,871.1 L1397.7,872.6 L1396.8,872.1 L1395.9,874.6 L1395.1,877.1 L1394.2,874.5 L1393.3,876.9 L1392.4,878.7 L1391.6,878.0 L1390.7,880.4 L1389.8,884.0 L1388.9,883.9 L1388.1,887.0 L1387.2,886.1 L1386.3,882.8 L1385.4,886.8 L1384.6,888.1 L1383.7,885.7 L1382.8,888.0 L1381.9,888.4 L1381.0,889.9 L1380.2,889.2 L1379.3,890.6 L1378.4,888.9 L1377.5,885.8 L1376.7,887.6 L1375.8,882.0 L1374.9,884.6 L1374.0,882.7 L1373.2,880.8 L1372.3,880.9 L1371.4,882.7 L1370.5,880.1 L1369.7,880.4 L1368.8,880.5 L1367.9,881.8 L1367.0,880.4 L1366.2,885.3 L1365.3,879.5 L1364.4,884.3 L1363.5,886.5 L1362.7,884.8 L1361.8,885.2 L1360.9,890.0 L1360.0,890.6 L1359.2,891.2 L1358.3,895.5 L1357.4,896.1 L1356.5,899.2 L1355.7,899.0 L1354.8,909.6 L1353.9,908.9 L1353.0,909.6 L1352.1,908.9 L1351.3,912.5 L1350.4,915.8 L1349.5,916.0 L1348.6,918.1 L1347.8,918.7 L1346.9,917.6 L1346.0,918.8 L1345.1,918.0 L1344.3,917.1 L1343.4,914.2 L1342.5,913.5 L1341.6,914.2 L1340.8,912.6 L1339.9,906.8 L1339.0,908.8 L1338.1,907.8 L1337.3,904.0 L1336.4,899.7 L1335.5,897.1 L1334.6,895.3 L1333.8,888.9 L1332.9,887.9 L1332.0,883.4 L1331.1,883.1 L1330.3,876.7 L1329.4,869.6 L1328.5,872.1 L1327.6,867.4 L1326.7,867.4 L1325.9,867.3 L1325.0,860.9 L1324.1,859.8 L1323.2,858.5 L1322.4,855.3 L1321.5,854.7 L1320.6,849.4 L1319.7,853.3 L1318.9,850.6 L1318.0,855.6 L1317.1,849.5 L1316.2,853.0 L1315.4,849.9 L1314.5,849.2 L1313.6,851.5 L1312.7,852.7 L1311.9,849.3 L1311.0,852.3 L1310.1,852.0 L1309.2,851.9 L1308.4,853.6 L1307.5,855.6 L1306.6,853.4 L1305.7,853.8 L1304.9,856.5 L1304.0,854.0 L1303.1,857.1 L1302.2,855.8 L1301.4,855.6 L1300.5,856.8 L1299.6,854.5 L1298.7,856.1 L1297.8,856.5 L1297.0,853.5 L1296.1,856.5 L1295.2,858.0 L1294.3,854.6 L1293.5,853.7 L1292.6,855.9 L1291.7,854.7 L1290.8,857.6 L1290.0,855.0 L1289.1,855.6 L1288.2,855.0 L1287.3,855.5 L1286.5,853.2 L1285.6,852.3 L1284.7,850.8 L1283.8,848.7 L1283.0,850.8 L1282.1,849.3 L1281.2,849.1 L1280.3,847.1 L1279.5,849.4 L1278.6,845.1 L1277.7,844.7 L1276.8,846.4 L1276.0,844.3 L1275.1,843.2 L1274.2,838.8 L1273.3,845.3 L1272.5,840.1 L1271.6,839.8 L1270.7,836.5 L1269.8,838.6 L1268.9,834.6 L1268.1,834.1 L1267.2,834.2 L1266.3,828.8 L1265.4,830.8 L1264.6,831.9 L1263.7,829.1 L1262.8,827.9 L1261.9,829.7 L1261.1,826.6 L1260.2,828.2 L1259.3,828.0 L1258.4,827.4 L1257.6,825.1 L1256.7,824.4 L1255.8,826.1 L1254.9,829.3 L1254.1,827.4 L1253.2,829.9 L1252.3,828.2 L1251.4,832.3 L1250.6,833.6 L1249.7,833.3 L1248.8,838.7 L1247.9,837.4 L1247.1,841.7 L1246.2,842.6 L1245.3,842.1 L1244.4,843.8 L1243.5,844.5 L1242.7,847.4 L1241.8,848.6 L1240.9,843.9 L1240.0,851.6 L1239.2,849.6 L1238.3,852.3 L1237.4,851.7 L1236.5,855.1 L1235.7,854.9 L1234.8,857.2 L1233.9,860.0 L1233.0,860.2 L1232.2,861.3 L1231.3,859.9 L1230.4,861.9 L1229.5,862.3 L1228.7,862.4 L1227.8,864.1 L1226.9,868.4 L1226.0,869.6 L1225.2,868.4 L1224.3,871.1 L1223.4,870.2 L1222.5,870.6 L1221.7,869.6 L1220.8,872.0 L1219.9,873.6 L1219.0,876.3 L1218.2,874.7 L1217.3,874.9 L1216.4,873.1 L1215.5,873.4 L1214.6,875.8 L1213.8,874.2 L1212.9,873.0 L1212.0,867.4 L1211.1,870.9 L1210.3,867.2 L1209.4,865.2 L1208.5,864.5 L1207.6,865.4 L1206.8,859.8 L1205.9,858.0 L1205.0,855.8 L1204.1,852.9 L1203.3,849.4 L1202.4,847.0 L1201.5,846.0 L1200.6,841.6 L1199.8,840.4 L1198.9,834.7 L1198.0,836.8 L1197.1,831.6 L1196.3,825.1 L1195.4,828.4 L1194.5,825.7 L1193.6,820.5 L1192.8,822.4 L1191.9,819.3 L1191.0,819.8 L1190.1,815.9 L1189.2,814.0 L1188.4,815.7 L1187.5,816.9 L1186.6,816.6 L1185.7,817.7 L1184.9,815.2 L1184.0,818.1 L1183.1,815.5 L1182.2,820.2 L1181.4,818.6 L1180.5,820.4 L1179.6,819.7 L1178.7,818.5 L1177.9,827.4 L1177.0,822.8 L1176.1,821.7 L1175.2,822.4 L1174.4,821.6 L1173.5,823.0 L1172.6,821.8 L1171.7,825.0 L1170.9,822.9 L1170.0,824.6 L1169.1,823.5 L1168.2,820.9 L1167.4,819.9 L1166.5,817.3 L1165.6,823.1 L1164.7,817.4 L1163.9,819.6 L1163.0,813.2 L1162.1,813.1 L1161.2,814.4 L1160.3,813.8 L1159.5,812.1 L1158.6,810.6 L1157.7,806.3 L1156.8,805.9 L1156.0,805.6 L1155.1,807.5 L1154.2,807.5 L1153.3,804.8 L1152.5,801.6 L1151.6,802.6 L1150.7,800.6 L1149.8,802.1 L1149.0,802.9 L1148.1,804.2 L1147.2,802.6 L1146.3,801.5 L1145.5,802.8 L1144.6,807.6 L1143.7,802.6 L1142.8,798.6 L1142.0,803.6 L1141.1,805.6 L1140.2,805.7 L1139.3,804.1 L1138.5,806.3 L1137.6,805.2 L1136.7,807.2 L1135.8,806.6 L1134.9,806.2 L1134.1,804.4 L1133.2,803.9 L1132.3,802.5 L1131.4,800.1 L1130.6,798.7 L1129.7,800.4 L1128.8,798.2 L1127.9,801.6 L1127.1,797.2 L1126.2,795.9 L1125.3,794.5 L1124.4,789.8 L1123.6,792.6 L1122.7,792.1 L1121.8,788.6 L1120.9,788.4 L1120.1,789.7 L1119.2,786.3 L1118.3,788.0 L1117.4,785.8 L1116.6,786.5 L1115.7,784.5 L1114.8,788.1 L1113.9,785.5 L1113.1,787.3 L1112.2,783.8 L1111.3,786.3 L1110.4,788.8 L1109.6,789.6 L1108.7,785.4 L1107.8,785.8 L1106.9,788.4 L1106.0,790.3 L1105.2,791.2 L1104.3,788.3 L1103.4,791.7 L1102.5,793.1 L1101.7,793.2 L1100.8,792.2 L1099.9,793.9 L1099.0,794.7 L1098.2,795.5 L1097.3,794.7 L1096.4,799.2 L1095.5,797.7 L1094.7,797.1 L1093.8,798.9 L1092.9,797.3 L1092.0,798.3 L1091.2,798.1 L1090.3,798.9 L1089.4,799.3 L1088.5,796.5 L1087.7,797.6 L1086.8,800.1 L1085.9,796.9 L1085.0,801.5 L1084.2,796.7 L1083.3,799.4 L1082.4,798.1 L1081.5,797.8 L1080.7,799.2 L1079.8,798.4 L1078.9,800.5 L1078.0,801.6 L1077.1,801.9 L1076.3,805.2 L1075.4,799.0 L1074.5,804.3 L1073.6,803.3 L1072.8,806.6 L1071.9,811.0 L1071.0,809.9 L1070.1,811.9 L1069.3,810.6 L1068.4,811.0 L1067.5,813.2 L1066.6,811.9 L1065.8,816.1 L1064.9,816.8 L1064.0,813.3 L1063.1,816.3 L1062.3,816.5 L1061.4,816.1 L1060.5,816.3 L1059.6,813.8 L1058.8,815.7 L1057.9,814.9 L1057.0,814.4 L1056.1,812.3 L1055.3,813.5 L1054.4,813.3 L1053.5,812.0 L1052.6,810.2 L1051.7,811.2 L1050.9,811.2 L1050.0,812.7 L1049.1,806.4 L1048.2,808.5 L1047.4,808.0 L1046.5,803.4 L1045.6,808.4 L1044.7,811.7 L1043.9,808.0 L1043.0,808.1 L1042.1,812.7 L1041.2,814.4 L1040.4,815.6 L1039.5,819.0 L1038.6,822.2 L1037.7,823.9 L1036.9,826.2 L1036.0,826.8 L1035.1,829.5 L1034.2,833.2 L1033.4,834.4 L1032.5,837.8 L1031.6,838.6 L1030.7,840.6 L1029.9,842.3 L1029.0,842.0 L1028.1,843.1 L1027.2,841.6 L1026.4,843.9 L1025.5,843.7 L1024.6,841.1 L1023.7,840.7 L1022.8,836.5 L1022.0,837.0 L1021.1,834.8 L1020.2,829.9 L1019.3,829.8 L1018.5,824.3 L1017.6,826.3 L1016.7,819.9 L1015.8,817.3 L1015.0,815.2 L1014.1,815.7 L1013.2,811.1 L1012.3,809.9 L1011.5,805.4 L1010.6,804.4 L1009.7,797.6 L1008.8,796.2 L1008.0,795.1 L1007.1,790.3 L1006.2,788.1 L1005.3,786.6 L1004.5,780.9 L1003.6,781.6 L1002.7,777.4 L1001.8,778.8 L1001.0,776.5 L1000.1,777.2 L999.2,773.9 L998.3,772.5 L997.4,775.3 L996.6,772.9 L995.7,773.2 L994.8,774.1 L993.9,772.1 L993.1,772.8 L992.2,774.9 L991.3,775.2 L990.4,776.7 L989.6,773.9 L988.7,774.3 L987.8,775.2 L986.9,773.1 L986.1,779.7 L985.2,775.9 L984.3,775.0 L983.4,774.5 L982.6,774.9 L981.7,776.6 L980.8,774.4 L979.9,775.2 L979.1,776.9 L978.2,774.3 L977.3,773.2 L976.4,772.0 L975.6,776.3 L974.7,773.6 L973.8,774.3 L972.9,774.8 L972.1,770.8 L971.2,775.1 L970.3,772.3 L969.4,771.8 L968.5,770.3 L967.7,775.0 L966.8,773.9 L965.9,769.2 L965.0,771.6 L964.2,769.8 L963.3,770.6 L962.4,767.1 L961.5,767.9 L960.7,770.8 L959.8,769.7 L958.9,765.4 L958.0,762.6 L957.2,765.0 L956.3,759.5 L955.4,761.9 L954.5,760.2 L953.7,760.7 L952.8,757.2 L951.9,756.2 L951.0,755.3 L950.2,752.7 L949.3,753.6 L948.4,752.7 L947.5,749.2 L946.7,750.2 L945.8,747.1 L944.9,746.7 L944.0,747.8 L943.1,747.0 L942.3,747.2 L941.4,745.9 L940.5,749.4 L939.6,747.7 L938.8,745.9 L937.9,747.1 L937.0,747.8 L936.1,742.8 L935.3,748.2 L934.4,746.1 L933.5,747.4 L932.6,747.8 L931.8,747.4 L930.9,753.4 L930.0,751.3 L929.1,753.3 L928.3,753.7 L927.4,754.1 L926.5,758.6 L925.6,759.0 L924.8,761.5 L923.9,761.7 L923.0,758.6 L922.1,760.3 L921.3,763.4 L920.4,764.8 L919.5,767.3 L918.6,766.6 L917.8,768.1 L916.9,769.0 L916.0,772.5 L915.1,772.5 L914.2,770.6 L913.4,774.6 L912.5,776.0 L911.6,777.9 L910.7,773.5 L909.9,777.1 L909.0,778.5 L908.1,781.2 L907.2,778.3 L906.4,778.3 L905.5,783.9 L904.6,784.0 L903.7,783.8 L902.9,786.5 L902.0,789.8 L901.1,787.3 L900.2,790.0 L899.4,789.5 L898.5,792.8 L897.6,792.5 L896.7,793.1 L895.9,791.0 L895.0,789.4 L894.1,790.7 L893.2,788.9 L892.4,789.0 L891.5,788.5 L890.6,786.0 L889.7,782.9 L888.8,780.6 L888.0,780.4 L887.1,779.8 L886.2,777.3 L885.3,774.0 L884.5,772.8 L883.6,773.5 L882.7,767.3 L881.8,765.6 L881.0,761.3 L880.1,759.4 L879.2,755.5 L878.3,753.1 L877.5,749.4 L876.6,751.2 L875.7,744.6 L874.8,746.5 L874.0,742.0 L873.1,740.0 L872.2,737.9 L871.3,735.8 L870.5,737.3 L869.6,735.3 L868.7,731.9 L867.8,735.4 L867.0,733.7 L866.1,736.5 L865.2,736.8 L864.3,736.7 L863.5,736.2 L862.6,733.2 L861.7,735.9 L860.8,739.0 L859.9,742.3 L859.1,738.1 L858.2,741.4 L857.3,743.3 L856.4,743.4 L855.6,743.6 L854.7,745.7 L853.8,744.5 L852.9,747.8 L852.1,746.5 L851.2,745.3 L850.3,746.2 L849.4,742.3 L848.6,742.8 L847.7,742.9 L846.8,742.1 L845.9,739.6 L845.1,743.1 L844.2,740.7 L843.3,737.5 L842.4,736.6 L841.6,734.8 L840.7,736.4 L839.8,732.5 L838.9,728.9 L838.1,729.2 L837.2,731.2 L836.3,732.3 L835.4,726.7 L834.6,726.9 L833.7,729.1 L832.8,728.2 L831.9,725.0 L831.0,726.5 L830.2,726.0 L829.3,728.2 L828.4,727.4 L827.5,726.2 L826.7,726.4 L825.8,726.7 L824.9,726.0 L824.0,730.1 L823.2,732.3 L822.3,729.5 L821.4,730.7 L820.5,736.1 L819.7,733.9 L818.8,733.2 L817.9,734.1 L817.0,733.7 L816.2,736.1 L815.3,736.4 L814.4,733.2 L813.5,736.3 L812.7,736.0 L811.8,733.9 L810.9,728.8 L810.0,730.1 L809.2,730.0 L808.3,728.3 L807.4,730.8 L806.5,729.4 L805.6,725.8 L804.8,723.1 L803.9,722.8 L803.0,723.4 L802.1,720.2 L801.3,724.4 L800.4,719.8 L799.5,717.2 L798.6,720.0 L797.8,720.1 L796.9,719.1 L796.0,715.5 L795.1,719.1 L794.3,721.1 L793.4,717.9 L792.5,716.8 L791.6,716.7 L790.8,719.1 L789.9,718.8 L789.0,721.6 L788.1,719.2 L787.3,719.5 L786.4,724.0 L785.5,723.2 L784.6,723.3 L783.8,726.0 L782.9,726.0 L782.0,728.1 L781.1,731.4 L780.3,731.8 L779.4,733.7 L778.5,733.7 L777.6,734.2 L776.7,736.4 L775.9,738.5 L775.0,736.7 L774.1,738.4 L773.2,735.0 L772.4,738.9 L771.5,738.4 L770.6,737.3 L769.7,739.2 L768.9,739.9 L768.0,741.3 L767.1,734.5 L766.2,741.5 L765.4,741.2 L764.5,740.6 L763.6,741.7 L762.7,743.5 L761.9,742.8 L761.0,740.7 L760.1,744.0 L759.2,746.9 L758.4,747.1 L757.5,746.0 L756.6,747.9 L755.7,747.6 L754.9,749.5 L754.0,750.5 L753.1,754.5 L752.2,753.2 L751.3,756.2 L750.5,755.1 L749.6,753.0 L748.7,758.0 L747.8,756.2 L747.0,761.7 L746.1,760.7 L745.2,764.6 L744.3,766.7 L743.5,768.1 L742.6,764.6 L741.7,766.9 L740.8,768.2 L740.0,767.3 L739.1,766.0 L738.2,766.1 L737.3,764.6 L736.5,761.3 L735.6,759.9 L734.7,763.0 L733.8,760.2 L733.0,759.1 L732.1,761.2 L731.2,760.3 L730.3,757.7 L729.5,758.2 L728.6,760.4 L727.7,762.0 L726.8,764.1 L726.0,762.1 L725.1,761.8 L724.2,764.9 L723.3,769.1 L722.4,766.7 L721.6,768.1 L720.7,770.7 L719.8,772.0 L718.9,773.5 L718.1,776.8 L717.2,781.0 L716.3,782.3 L715.4,783.7 L714.6,785.4 L713.7,790.6 L712.8,794.6 L711.9,794.8 L711.1,799.6 L710.2,798.0 L709.3,799.4 L708.4,801.7 L707.6,800.8 L706.7,799.2 L705.8,801.0 L704.9,803.8 L704.1,801.2 L703.2,801.8 L702.3,798.5 L701.4,798.9 L700.6,792.3 L699.7,793.6 L698.8,792.2 L697.9,788.0 L697.0,786.0 L696.2,781.3 L695.3,780.8 L694.4,774.2 L693.5,771.6 L692.7,771.4 L691.8,766.3 L690.9,764.7 L690.0,763.7 L689.2,754.2 L688.3,754.6 L687.4,755.5 L686.5,750.1 L685.7,746.6 L684.8,746.2 L683.9,749.8 L683.0,742.8 L682.2,743.0 L681.3,739.9 L680.4,741.1 L679.5,741.0 L678.7,740.6 L677.8,740.9 L676.9,736.2 L676.0,740.0 L675.2,741.2 L674.3,740.2 L673.4,740.9 L672.5,738.6 L671.7,741.4 L670.8,743.0 L669.9,742.8 L669.0,745.3 L668.1,741.0 L667.3,745.7 L666.4,745.7 L665.5,744.3 L664.6,749.3 L663.8,745.9 L662.9,747.4 L662.0,748.3 L661.1,748.5 L660.3,750.4 L659.4,750.7 L658.5,750.5 L657.6,749.4 L656.8,750.4 L655.9,749.7 L655.0,748.3 L654.1,745.9 L653.3,748.3 L652.4,750.1 L651.5,749.3 L650.6,753.4 L649.8,748.3 L648.9,749.8 L648.0,750.8 L647.1,749.7 L646.3,749.1 L645.4,748.8 L644.5,747.7 L643.6,746.6 L642.8,748.5 L641.9,746.1 L641.0,745.3 L640.1,746.3 L639.2,741.9 L638.4,745.0 L637.5,742.5 L636.6,742.1 L635.7,738.9 L634.9,736.4 L634.0,736.7 L633.1,736.6 L632.2,734.7 L631.4,734.6 L630.5,731.0 L629.6,732.4 L628.7,735.1 L627.9,729.5 L627.0,725.6 L626.1,725.2 L625.2,725.0 L624.4,727.4 L623.5,726.4 L622.6,725.5 L621.7,722.4 L620.9,727.2 L620.0,725.9 L619.1,727.9 L618.2,725.9 L617.4,725.4 L616.5,726.2 L615.6,728.4 L614.7,729.4 L613.8,730.0 L613.0,731.6 L612.1,731.8 L611.2,735.9 L610.3,734.9 L609.5,734.4 L608.6,734.7 L607.7,736.8 L606.8,734.0 L606.0,739.4 L605.1,741.7 L604.2,744.0 L603.3,745.3 L602.5,746.2 L601.6,745.5 L600.7,750.9 L599.8,750.3 L599.0,755.5 L598.1,752.1 L597.2,754.7 L596.3,756.6 L595.5,755.4 L594.6,758.8 L593.7,757.2 L592.8,763.1 L592.0,761.6 L591.1,763.1 L590.2,763.4 L589.3,764.2 L588.5,769.5 L587.6,768.5 L586.7,773.0 L585.8,768.9 L584.9,772.8 L584.1,774.8 L583.2,773.0 L582.3,775.6 L581.4,776.8 L580.6,777.5 L579.7,777.6 L578.8,776.1 L577.9,775.7 L577.1,781.3 L576.2,775.4 L575.3,776.4 L574.4,776.5 L573.6,777.2 L572.7,773.2 L571.8,775.1 L570.9,772.8 L570.1,774.8 L569.2,770.9 L568.3,766.2 L567.4,765.2 L566.6,760.8 L565.7,758.9 L564.8,758.3 L563.9,753.4 L563.1,751.3 L562.2,750.7 L561.3,751.2 L560.4,748.0 L559.5,744.9 L558.7,740.2 L557.8,739.3 L556.9,734.8 L556.0,734.8 L555.2,731.8 L554.3,729.6 L553.4,727.6 L552.5,727.0 L551.7,728.3 L550.8,726.1 L549.9,722.5 L549.0,722.3 L548.2,719.9 L547.3,719.3 L546.4,720.9 L545.5,719.1 L544.7,723.8 L543.8,724.4 L542.9,723.1 L542.0,725.3 L541.2,725.6 L540.3,725.7 L539.4,724.2 L538.5,726.2 L537.7,726.9 L536.8,727.4 L535.9,728.6 L535.0,727.7 L534.2,730.5 L533.3,730.9 L532.4,734.7 L531.5,732.1 L530.6,731.5 L529.8,727.1 L528.9,731.4 L528.0,729.3 L527.1,727.4 L526.3,724.5 L525.4,723.6 L524.5,723.4 L523.6,724.8 L522.8,722.9 L521.9,719.9 L521.0,719.8 L520.1,716.5 L519.3,714.5 L518.4,713.3 L517.5,713.4 L516.6,710.7 L515.8,711.6 L514.9,711.2 L514.0,709.1 L513.1,709.0 L512.3,708.2 L511.4,708.0 L510.5,710.4 L509.6,707.7 L508.8,709.8 L507.9,709.8 L507.0,707.9 L506.1,707.5 L505.2,710.0 L504.4,708.1 L503.5,709.0 L502.6,714.9 L501.7,709.1 L500.9,709.7 L500.0,713.1 L499.1,713.8 L498.2,711.3 L497.4,711.2 L496.5,712.8 L495.6,711.7 L494.7,713.8 L493.9,711.5 L493.0,710.7 L492.1,712.4 L491.2,709.2 L490.4,711.4 L489.5,707.4 L488.6,706.8 L487.7,706.0 L486.9,700.2 L486.0,705.6 L485.1,704.0 L484.2,700.1 L483.4,699.3 L482.5,699.1 L481.6,697.3 L480.7,695.6 L479.9,698.6 L479.0,693.3 L478.1,692.0 L477.2,692.3 L476.3,688.9 L475.5,690.3 L474.6,688.7 L473.7,690.6 L472.8,690.6 L472.0,688.4 L471.1,690.0 L470.2,692.6 L469.3,691.7 L468.5,693.2 L467.6,692.0 L466.7,694.7 L465.8,693.1 L465.0,697.8 L464.1,693.8 L463.2,697.6 L462.3,695.9 L461.5,698.2 L460.6,699.7 L459.7,700.6 L458.8,700.3 L458.0,702.8 L457.1,702.8 L456.2,699.1 L455.3,702.5 L454.5,704.3 L453.6,705.7 L452.7,704.3 L451.8,703.5 L450.9,700.7 L450.1,702.7 L449.2,707.9 L448.3,708.0 L447.4,700.9 L446.6,704.6 L445.7,703.1 L444.8,702.6 L443.9,701.0 L443.1,703.2 L442.2,706.7 L441.3,707.3 L440.4,703.4 L439.6,707.2 L438.7,706.3 L437.8,704.3 L436.9,705.9 L436.1,709.2 L435.2,709.1 L434.3,709.3 L433.4,708.3 L432.6,712.2 L431.7,713.2 L430.8,712.2 L429.9,712.3 L429.1,713.0 L428.2,713.3 L427.3,713.7 L426.4,715.8 L425.6,719.7 L424.7,719.3 L423.8,716.9 L422.9,716.2 L422.0,723.1 L421.2,715.2 L420.3,717.1 L419.4,715.2 L418.5,715.9 L417.7,714.4 L416.8,714.4 L415.9,711.1 L415.0,711.4 L414.2,710.5 L413.3,709.4 L412.4,709.1 L411.5,708.5 L410.7,710.4 L409.8,704.9 L408.9,707.3 L408.0,703.4 L407.2,707.2 L406.3,707.1 L405.4,705.9 L404.5,705.9 L403.7,706.0 L402.8,705.5 L401.9,710.8 L401.0,710.4 L400.2,715.7 L399.3,715.1 L398.4,716.1 L397.5,716.5 L396.7,721.2 L395.8,722.1 L394.9,727.6 L394.0,726.7 L393.1,729.7 L392.3,730.0 L391.4,732.2 L390.5,736.9 L389.6,736.6 L388.8,735.9 L387.9,734.3 L387.0,734.9 L386.1,734.7 L385.3,735.0 L384.4,733.3 L383.5,732.6 L382.6,731.8 L381.8,727.6 L380.9,730.8 L380.0,726.8 L379.1,723.1 L378.3,718.0 L377.4,713.6 L376.5,711.0 L375.6,709.2 L374.8,705.9 L373.9,701.3 L373.0,697.2 L372.1,693.7 L371.3,690.1 L370.4,687.1 L369.5,686.3 L368.6,679.6 L367.7,680.0 L366.9,679.7 L366.0,673.4 L365.1,672.7 L364.2,667.8 L363.4,667.0 L362.5,665.7 L361.6,665.4 L360.7,659.1 L359.9,661.1 L359.0,659.0 L358.1,657.8 L357.2,659.6 L356.4,659.3 L355.5,658.8 L354.6,657.5 L353.7,657.4 L352.9,658.9 L352.0,658.3 L351.1,660.0 L350.2,657.4 L349.4,659.2 L348.5,658.3 L347.6,656.7 L346.7,658.6 L345.9,658.9 L345.0,660.5 L344.1,658.6 L343.2,655.7 L342.4,656.3 L341.5,657.5 L340.6,655.7 L339.7,656.7 L338.8,654.7 L338.0,656.4 L337.1,653.4 L336.2,658.3 L335.3,652.3 L334.5,654.1 L333.6,655.0 L332.7,653.8 L331.8,653.6 L331.0,653.0 L330.1,653.0 L329.2,653.5 L328.3,652.0 L327.5,649.8 L326.6,650.2 L325.7,649.0 L324.8,648.3 L324.0,642.6 L323.1,648.3 L322.2,645.3 L321.3,644.4 L320.5,638.7 L319.6,641.2 L318.7,639.2 L317.8,639.7 L317.0,635.9 L316.1,633.5 L315.2,633.4 L314.3,631.6 L313.4,630.7 L312.6,627.4 L311.7,625.5 L310.8,623.1 L309.9,622.1 L309.1,620.5 L308.2,624.4 L307.3,615.7 L306.4,616.3 L305.6,614.6 L304.7,616.6 L303.8,614.2 L302.9,613.8 L302.1,612.3 L301.2,613.6 L300.3,610.5 L299.4,612.8 L298.6,614.0 L297.7,612.0 L296.8,612.6 L295.9,609.3 L295.1,608.1 L294.2,614.0 L293.3,614.0 L292.4,613.0 L291.6,616.2 L290.7,614.7 L289.8,616.8 L288.9,614.7 L288.1,619.1 L287.2,620.6 L286.3,618.4 L285.4,622.0 L284.5,621.0 L283.7,623.3 L282.8,623.4 L281.9,623.3 L281.0,624.1 L280.2,629.0 L279.3,628.6 L278.4,631.6 L277.5,629.3 L276.7,628.9 L275.8,631.4 L274.9,630.9 L274.0,633.5 L273.2,632.9 L272.3,635.9 L271.4,637.5 L270.5,636.6 L269.7,634.7 L268.8,636.9 L267.9,639.4 L267.0,640.1 L266.2,641.2 L265.3,642.1 L264.4,642.0 L263.5,642.8 L262.7,644.7 L261.8,640.7 L260.9,643.4 L260.0,640.4 L259.1,643.7 L258.3,644.0 L257.4,644.0 L256.5,644.4 L255.6,641.4 L254.8,638.5 L253.9,638.0 L253.0,640.9 L252.1,638.0 L251.3,637.0 L250.4,637.2 L249.5,637.8 L248.6,632.2 L247.8,632.4 L246.9,628.0 L246.0,625.4 L245.1,621.6 L244.3,619.9 L243.4,619.9 L242.5,613.0 L241.6,612.8 L240.8,610.6 L239.9,604.5 L239.0,605.4 L238.1,599.6 L237.3,595.0 L236.4,592.1 L235.5,591.9 L234.6,585.2 L233.8,587.0 L232.9,582.8 L232.0,581.7Z" fill="#f08080" fill-opacity="0.2"/>
<path d="M232.0,610.7 L232.9,612.1 L233.8,614.1 L234.6,615.7 L235.5,619.0 L236.4,621.8 L237.3,624.8 L238.1,627.7 L239.0,631.1 L239.9,634.1 L240.8,637.0 L241.6,641.0 L242.5,644.2 L243.4,647.6 L244.3,649.8 L245.1,652.5 L246.0,655.0 L246.9,657.1 L247.8,660.3 L248.6,661.5 L249.5,663.2 L250.4,665.2 L251.3,667.3 L252.1,668.0 L253.0,668.6 L253.9,669.7 L254.8,671.0 L255.6,671.3 L256.5,671.5 L257.4,672.1 L258.3,672.8 L259.1,673.4 L260.0,672.1 L260.9,672.2 L261.8,671.9 L262.7,670.8 L263.5,670.9 L264.4,670.2 L265.3,670.4 L266.2,669.1 L267.0,667.6 L267.9,667.6 L268.8,666.3 L269.7,664.7 L270.5,664.3 L271.4,663.3 L272.3,662.3 L273.2,661.8 L274.0,660.1 L274.9,660.0 L275.8,659.7 L276.7,658.8 L277.5,658.0 L278.4,657.2 L279.3,656.4 L280.2,654.5 L281.0,654.3 L281.9,652.2 L282.8,651.7 L283.7,650.1 L284.5,650.3 L285.4,649.3 L286.3,647.7 L287.2,647.5 L288.1,645.7 L288.9,645.1 L289.8,644.4 L290.7,643.2 L291.6,643.2 L292.4,643.2 L293.3,641.6 L294.2,641.9 L295.1,641.2 L295.9,641.7 L296.8,641.0 L297.7,641.0 L298.6,641.0 L299.4,641.0 L300.3,640.6 L301.2,642.1 L302.1,641.5 L302.9,642.8 L303.8,643.8 L304.7,644.2 L305.6,645.6 L306.4,647.2 L307.3,648.0 L308.2,648.9 L309.1,649.5 L309.9,651.7 L310.8,653.3 L311.7,654.9 L312.6,656.2 L313.4,658.3 L314.3,659.5 L315.2,661.3 L316.1,663.2 L317.0,664.2 L317.8,666.0 L318.7,668.6 L319.6,669.6 L320.5,670.2 L321.3,672.0 L322.2,673.6 L323.1,675.1 L324.0,675.8 L324.8,676.6 L325.7,677.4 L326.6,678.9 L327.5,679.5 L328.3,679.9 L329.2,680.7 L330.1,681.2 L331.0,682.3 L331.8,682.2 L332.7,683.2 L333.6,683.8 L334.5,684.0 L335.3,683.9 L336.2,685.1 L337.1,684.6 L338.0,685.3 L338.8,685.1 L339.7,685.0 L340.6,686.0 L341.5,686.2 L342.4,686.3 L343.2,686.6 L344.1,686.4 L345.0,686.4 L345.9,686.8 L346.7,687.7 L347.6,687.3 L348.5,686.8 L349.4,687.3 L350.2,686.8 L351.1,686.8 L352.0,687.3 L352.9,686.7 L353.7,686.2 L354.6,686.5 L355.5,687.0 L356.4,687.3 L357.2,688.1 L358.1,687.8 L359.0,689.1 L359.9,689.9 L360.7,690.8 L361.6,692.5 L362.5,693.9 L363.4,695.2 L364.2,698.0 L365.1,699.4 L366.0,702.5 L366.9,705.1 L367.7,708.1 L368.6,710.5 L369.5,713.6 L370.4,716.5 L371.3,720.0 L372.1,722.4 L373.0,726.1 L373.9,729.4 L374.8,732.7 L375.6,738.1 L376.5,740.8 L377.4,743.9 L378.3,748.5 L379.1,750.7 L380.0,754.1 L380.9,756.7 L381.8,758.2 L382.6,760.1 L383.5,761.4 L384.4,762.6 L385.3,762.7 L386.1,763.3 L387.0,763.9 L387.9,764.4 L388.8,764.1 L389.6,764.1 L390.5,763.0 L391.4,761.5 L392.3,760.4 L393.1,757.9 L394.0,756.3 L394.9,754.0 L395.8,752.2 L396.7,750.0 L397.5,747.2 L398.4,745.1 L399.3,742.8 L400.2,741.6 L401.0,740.2 L401.9,739.0 L402.8,737.3 L403.7,737.5 L404.5,736.4 L405.4,735.3 L406.3,734.7 L407.2,734.6 L408.0,734.8 L408.9,735.0 L409.8,735.6 L410.7,736.2 L411.5,737.2 L412.4,737.9 L413.3,738.2 L414.2,739.3 L415.0,739.9 L415.9,740.7 L416.8,742.5 L417.7,742.3 L418.5,744.0 L419.4,743.8 L420.3,744.6 L421.2,745.5 L422.0,745.6 L422.9,746.1 L423.8,746.1 L424.7,746.1 L425.6,746.1 L426.4,745.5 L427.3,745.8 L428.2,744.2 L429.1,744.0 L429.9,741.2 L430.8,741.1 L431.7,740.2 L432.6,738.8 L433.4,738.4 L434.3,737.3 L435.2,736.1 L436.1,735.6 L436.9,735.9 L437.8,734.3 L438.7,733.8 L439.6,733.0 L440.4,732.9 L441.3,732.1 L442.2,732.3 L443.1,733.3 L443.9,732.7 L444.8,732.5 L445.7,732.7 L446.6,733.1 L447.4,732.6 L448.3,733.3 L449.2,732.9 L450.1,732.6 L450.9,733.1 L451.8,731.4 L452.7,732.0 L453.6,732.1 L454.5,731.4 L455.3,731.4 L456.2,730.8 L457.1,730.3 L458.0,731.1 L458.8,729.7 L459.7,728.7 L460.6,728.5 L461.5,727.2 L462.3,726.8 L463.2,725.8 L464.1,725.5 L465.0,723.5 L465.8,723.6 L466.7,722.6 L467.6,721.4 L468.5,721.6 L469.3,720.3 L470.2,720.9 L471.1,720.2 L472.0,720.1 L472.8,719.8 L473.7,720.2 L474.6,719.2 L475.5,720.1 L476.3,720.1 L477.2,720.9 L478.1,721.2 L479.0,722.2 L479.9,722.5 L480.7,724.7 L481.6,726.2 L482.5,726.6 L483.4,728.2 L484.2,729.8 L485.1,731.7 L486.0,733.3 L486.9,733.3 L487.7,734.7 L488.6,735.5 L489.5,736.5 L490.4,737.2 L491.2,738.9 L492.1,739.1 L493.0,740.8 L493.9,741.2 L494.7,740.8 L495.6,741.1 L496.5,741.4 L497.4,742.2 L498.2,741.1 L499.1,740.6 L500.0,740.7 L500.9,740.4 L501.7,739.5 L502.6,739.9 L503.5,738.8 L504.4,738.4 L505.2,737.5 L506.1,737.4 L507.0,737.0 L507.9,736.0 L508.8,736.8 L509.6,736.0 L510.5,736.7 L511.4,736.3 L512.3,738.0 L513.1,737.8 L514.0,738.6 L514.9,739.3 L515.8,739.2 L516.6,739.8 L517.5,741.6 L518.4,743.2 L519.3,744.1 L520.1,745.7 L521.0,747.1 L521.9,747.5 L522.8,749.5 L523.6,751.5 L524.5,751.8 L525.4,752.5 L526.3,754.4 L527.1,755.3 L528.0,756.6 L528.9,756.9 L529.8,758.0 L530.6,757.7 L531.5,759.3 L532.4,759.8 L533.3,759.8 L534.2,758.6 L535.0,759.1 L535.9,757.3 L536.8,758.1 L537.7,757.2 L538.5,756.0 L539.4,755.6 L540.3,754.6 L541.2,753.9 L542.0,752.7 L542.9,752.0 L543.8,750.4 L544.7,750.2 L545.5,750.1 L546.4,750.1 L547.3,750.0 L548.2,750.8 L549.0,750.3 L549.9,751.2 L550.8,752.3 L551.7,753.4 L552.5,755.1 L553.4,756.4 L554.3,759.0 L555.2,760.3 L556.0,762.9 L556.9,764.6 L557.8,767.5 L558.7,768.7 L559.5,771.9 L560.4,774.1 L561.3,777.0 L562.2,780.0 L563.1,781.8 L563.9,784.4 L564.8,787.0 L565.7,790.0 L566.6,791.4 L567.4,794.4 L568.3,795.9 L569.2,797.9 L570.1,800.0 L570.9,801.9 L571.8,802.9 L572.7,804.3 L573.6,805.5 L574.4,806.2 L575.3,805.8 L576.2,807.0 L577.1,807.2 L577.9,807.5 L578.8,807.5 L579.7,806.5 L580.6,805.6 L581.4,804.5 L582.3,804.0 L583.2,803.4 L584.1,802.6 L584.9,800.7 L585.8,800.1 L586.7,799.2 L587.6,798.4 L588.5,796.6 L589.3,795.0 L590.2,793.7 L591.1,792.5 L592.0,791.0 L592.8,790.3 L593.7,789.0 L594.6,787.4 L595.5,786.2 L596.3,784.1 L597.2,783.1 L598.1,781.4 L599.0,780.3 L599.8,779.4 L600.7,777.6 L601.6,775.6 L602.5,774.9 L603.3,773.4 L604.2,771.7 L605.1,770.5 L606.0,769.7 L606.8,768.5 L607.7,766.1 L608.6,765.2 L609.5,763.8 L610.3,761.5 L611.2,760.6 L612.1,759.5 L613.0,758.5 L613.8,756.9 L614.7,756.5 L615.6,756.3 L616.5,755.7 L617.4,755.2 L618.2,753.7 L619.1,754.1 L620.0,753.3 L620.9,752.4 L621.7,753.5 L622.6,753.5 L623.5,754.5 L624.4,755.0 L625.2,756.4 L626.1,756.9 L627.0,757.6 L627.9,759.0 L628.7,759.7 L629.6,760.4 L630.5,762.1 L631.4,762.4 L632.2,763.4 L633.1,764.6 L634.0,765.4 L634.9,766.9 L635.7,769.0 L636.6,769.0 L637.5,770.4 L638.4,770.9 L639.2,772.0 L640.1,773.6 L641.0,774.1 L641.9,774.1 L642.8,774.9 L643.6,775.0 L644.5,775.5 L645.4,775.8 L646.3,776.2 L647.1,777.0 L648.0,777.3 L648.9,777.5 L649.8,777.5 L650.6,777.2 L651.5,777.8 L652.4,777.6 L653.3,778.4 L654.1,778.3 L655.0,778.3 L655.9,777.9 L656.8,777.2 L657.6,778.2 L658.5,778.1 L659.4,776.8 L660.3,777.2 L661.1,777.4 L662.0,776.1 L662.9,776.9 L663.8,775.6 L664.6,774.9 L665.5,775.4 L666.4,774.4 L667.3,773.5 L668.1,773.5 L669.0,771.7 L669.9,772.5 L670.8,770.7 L671.7,770.5 L672.5,769.5 L673.4,769.2 L674.3,768.8 L675.2,767.7 L676.0,768.0 L676.9,767.4 L677.8,767.2 L678.7,767.6 L679.5,767.7 L680.4,768.4 L681.3,769.9 L682.2,770.5 L683.0,772.3 L683.9,773.5 L684.8,774.6 L685.7,776.2 L686.5,778.8 L687.4,781.6 L688.3,784.0 L689.2,786.4 L690.0,790.0 L690.9,791.9 L691.8,795.1 L692.7,798.6 L693.5,802.5 L694.4,804.8 L695.3,807.2 L696.2,810.8 L697.0,813.8 L697.9,816.8 L698.8,819.1 L699.7,821.5 L700.6,824.2 L701.4,826.3 L702.3,828.3 L703.2,829.6 L704.1,829.2 L704.9,829.6 L705.8,830.0 L706.7,829.9 L707.6,829.9 L708.4,829.5 L709.3,828.5 L710.2,827.7 L711.1,825.5 L711.9,823.1 L712.8,820.6 L713.7,818.4 L714.6,815.8 L715.4,813.0 L716.3,811.6 L717.2,809.0 L718.1,806.4 L718.9,804.0 L719.8,801.5 L720.7,799.7 L721.6,798.7 L722.4,795.2 L723.3,794.4 L724.2,793.2 L725.1,791.7 L726.0,790.5 L726.8,790.1 L727.7,788.9 L728.6,789.2 L729.5,789.5 L730.3,788.6 L731.2,789.0 L732.1,789.8 L733.0,790.7 L733.8,791.4 L734.7,791.8 L735.6,791.8 L736.5,792.2 L737.3,793.3 L738.2,793.7 L739.1,793.4 L740.0,794.0 L740.8,794.1 L741.7,794.2 L742.6,793.1 L743.5,793.2 L744.3,791.8 L745.2,791.3 L746.1,790.5 L747.0,790.0 L747.8,789.5 L748.7,787.0 L749.6,785.8 L750.5,784.7 L751.3,782.4 L752.2,781.9 L753.1,779.7 L754.0,779.6 L754.9,778.3 L755.7,776.7 L756.6,775.1 L757.5,775.1 L758.4,773.6 L759.2,772.7 L760.1,772.0 L761.0,770.3 L761.9,770.5 L762.7,770.0 L763.6,769.2 L764.5,768.6 L765.4,767.7 L766.2,767.9 L767.1,767.4 L768.0,767.1 L768.9,766.7 L769.7,767.2 L770.6,767.1 L771.5,766.6 L772.4,766.6 L773.2,766.4 L774.1,766.1 L775.0,765.1 L775.9,764.3 L776.7,763.5 L777.6,762.9 L778.5,762.2 L779.4,761.4 L780.3,759.8 L781.1,758.9 L782.0,757.3 L782.9,757.1 L783.8,755.2 L784.6,754.3 L785.5,752.6 L786.4,751.6 L787.3,750.4 L788.1,750.3 L789.0,748.9 L789.9,748.0 L790.8,747.2 L791.6,746.9 L792.5,747.2 L793.4,747.5 L794.3,746.1 L795.1,746.3 L796.0,746.6 L796.9,746.5 L797.8,746.3 L798.6,747.2 L799.5,748.0 L800.4,747.7 L801.3,749.2 L802.1,750.5 L803.0,751.7 L803.9,752.3 L804.8,754.6 L805.6,755.1 L806.5,755.7 L807.4,757.6 L808.3,757.8 L809.2,759.5 L810.0,759.5 L810.9,761.0 L811.8,761.1 L812.7,762.2 L813.5,762.4 L814.4,762.6 L815.3,762.6 L816.2,763.1 L817.0,761.9 L817.9,762.7 L818.8,762.4 L819.7,762.1 L820.5,761.7 L821.4,762.2 L822.3,760.0 L823.2,759.5 L824.0,758.4 L824.9,758.2 L825.8,756.0 L826.7,756.9 L827.5,755.4 L828.4,754.3 L829.3,754.4 L830.2,754.6 L831.0,754.7 L831.9,754.6 L832.8,755.2 L833.7,755.2 L834.6,755.7 L835.4,755.5 L836.3,757.3 L837.2,758.4 L838.1,758.9 L838.9,759.4 L839.8,760.9 L840.7,763.4 L841.6,763.8 L842.4,765.1 L843.3,766.4 L844.2,768.2 L845.1,768.8 L845.9,769.7 L846.8,770.3 L847.7,771.6 L848.6,772.6 L849.4,772.7 L850.3,773.5 L851.2,773.5 L852.1,773.7 L852.9,773.7 L853.8,773.5 L854.7,773.6 L855.6,772.8 L856.4,771.7 L857.3,771.1 L858.2,770.0 L859.1,769.3 L859.9,768.1 L860.8,767.3 L861.7,765.6 L862.6,765.5 L863.5,765.1 L864.3,763.4 L865.2,764.0 L866.1,763.1 L867.0,762.6 L867.8,762.0 L868.7,763.3 L869.6,763.0 L870.5,763.9 L871.3,765.4 L872.2,766.1 L873.1,767.8 L874.0,769.7 L874.8,772.3 L875.7,775.0 L876.6,777.4 L877.5,780.1 L878.3,782.4 L879.2,785.3 L880.1,787.6 L881.0,791.3 L881.8,793.2 L882.7,794.8 L883.6,797.7 L884.5,801.1 L885.3,802.2 L886.2,804.8 L887.1,807.2 L888.0,808.6 L888.8,811.3 L889.7,813.2 L890.6,813.8 L891.5,815.9 L892.4,816.2 L893.2,817.0 L894.1,818.2 L895.0,818.7 L895.9,818.7 L896.7,819.4 L897.6,818.4 L898.5,818.5 L899.4,818.1 L900.2,818.3 L901.1,817.7 L902.0,816.8 L902.9,815.1 L903.7,814.5 L904.6,813.3 L905.5,811.2 L906.4,810.1 L907.2,809.4 L908.1,808.1 L909.0,806.8 L909.9,805.8 L910.7,804.7 L911.6,803.6 L912.5,802.6 L913.4,801.4 L914.2,800.7 L915.1,799.7 L916.0,799.8 L916.9,798.0 L917.8,796.9 L918.6,795.7 L919.5,794.6 L920.4,793.4 L921.3,792.5 L922.1,791.1 L923.0,790.1 L923.9,788.2 L924.8,787.3 L925.6,786.2 L926.5,784.1 L927.4,783.4 L928.3,782.2 L929.1,780.9 L930.0,779.7 L930.9,778.2 L931.8,778.5 L932.6,776.8 L933.5,775.9 L934.4,776.0 L935.3,774.4 L936.1,775.0 L937.0,774.4 L937.9,774.1 L938.8,773.7 L939.6,773.2 L940.5,773.0 L941.4,774.5 L942.3,774.1 L943.1,774.5 L944.0,775.9 L944.9,775.7 L945.8,776.6 L946.7,777.4 L947.5,778.4 L948.4,779.1 L949.3,780.4 L950.2,782.3 L951.0,783.4 L951.9,783.2 L952.8,785.0 L953.7,787.3 L954.5,788.5 L955.4,789.7 L956.3,791.5 L957.2,791.6 L958.0,793.9 L958.9,794.4 L959.8,795.5 L960.7,796.2 L961.5,797.2 L962.4,797.5 L963.3,798.0 L964.2,799.1 L965.0,799.4 L965.9,799.3 L966.8,800.8 L967.7,801.2 L968.5,801.7 L969.4,801.5 L970.3,802.0 L971.2,802.0 L972.1,802.1 L972.9,802.8 L973.8,803.1 L974.7,803.0 L975.6,804.2 L976.4,803.0 L977.3,803.5 L978.2,803.7 L979.1,804.5 L979.9,804.0 L980.8,804.0 L981.7,803.7 L982.6,803.7 L983.4,803.4 L984.3,804.2 L985.2,803.9 L986.1,803.9 L986.9,803.0 L987.8,804.1 L988.7,802.4 L989.6,801.8 L990.4,802.3 L991.3,802.3 L992.2,802.3 L993.1,801.5 L993.9,802.1 L994.8,802.5 L995.7,801.6 L996.6,801.8 L997.4,801.8 L998.3,803.0 L999.2,803.8 L1000.1,804.4 L1001.0,805.3 L1001.8,806.5 L1002.7,807.2 L1003.6,809.0 L1004.5,810.0 L1005.3,812.2 L1006.2,815.1 L1007.1,817.5 L1008.0,821.0 L1008.8,824.4 L1009.7,827.1 L1010.6,829.8 L1011.5,832.8 L1012.3,836.7 L1013.2,838.8 L1014.1,842.0 L1015.0,844.8 L1015.8,847.8 L1016.7,851.0 L1017.6,853.0 L1018.5,855.3 L1019.3,858.9 L1020.2,860.6 L1021.1,862.9 L1022.0,864.5 L1022.8,866.4 L1023.7,868.1 L1024.6,869.4 L1025.5,869.7 L1026.4,870.4 L1027.2,871.1 L1028.1,871.0 L1029.0,870.8 L1029.9,869.4 L1030.7,867.5 L1031.6,867.0 L1032.5,865.1 L1033.4,862.8 L1034.2,860.8 L1035.1,858.0 L1036.0,855.1 L1036.9,853.3 L1037.7,850.5 L1038.6,848.8 L1039.5,846.3 L1040.4,844.4 L1041.2,842.4 L1042.1,840.7 L1043.0,838.7 L1043.9,838.2 L1044.7,836.4 L1045.6,837.0 L1046.5,836.9 L1047.4,837.2 L1048.2,836.6 L1049.1,836.5 L1050.0,836.5 L1050.9,838.3 L1051.7,837.5 L1052.6,839.1 L1053.5,838.5 L1054.4,840.1 L1055.3,841.2 L1056.1,841.7 L1057.0,842.3 L1057.9,842.6 L1058.8,843.1 L1059.6,844.2 L1060.5,844.3 L1061.4,844.2 L1062.3,844.4 L1063.1,843.9 L1064.0,844.4 L1064.9,844.1 L1065.8,842.8 L1066.6,842.5 L1067.5,842.1 L1068.4,840.5 L1069.3,840.5 L1070.1,839.1 L1071.0,837.1 L1071.9,836.3 L1072.8,835.3 L1073.6,833.0 L1074.5,832.6 L1075.4,831.3 L1076.3,830.4 L1077.1,830.0 L1078.0,828.9 L1078.9,828.0 L1079.8,827.5 L1080.7,827.7 L1081.5,827.7 L1082.4,827.3 L1083.3,827.1 L1084.2,827.1 L1085.0,827.5 L1085.9,827.2 L1086.8,826.7 L1087.7,826.9 L1088.5,827.5 L1089.4,826.7 L1090.3,826.8 L1091.2,826.9 L1092.0,826.4 L1092.9,827.1 L1093.8,825.7 L1094.7,826.9 L1095.5,825.9 L1096.4,825.3 L1097.3,825.5 L1098.2,824.2 L1099.0,824.5 L1099.9,824.0 L1100.8,822.7 L1101.7,822.0 L1102.5,821.6 L1103.4,820.1 L1104.3,819.4 L1105.2,818.6 L1106.0,818.2 L1106.9,816.5 L1107.8,816.0 L1108.7,815.8 L1109.6,813.7 L1110.4,814.2 L1111.3,813.3 L1112.2,813.1 L1113.1,814.5 L1113.9,813.8 L1114.8,814.3 L1115.7,813.8 L1116.6,814.5 L1117.4,814.5 L1118.3,815.0 L1119.2,815.9 L1120.1,816.7 L1120.9,818.2 L1121.8,818.5 L1122.7,819.8 L1123.6,820.6 L1124.4,821.9 L1125.3,822.5 L1126.2,824.7 L1127.1,825.2 L1127.9,826.6 L1128.8,827.7 L1129.7,829.4 L1130.6,830.3 L1131.4,831.1 L1132.3,832.0 L1133.2,832.8 L1134.1,833.5 L1134.9,833.8 L1135.8,834.4 L1136.7,834.6 L1137.6,834.3 L1138.5,833.4 L1139.3,834.5 L1140.2,834.4 L1141.1,833.1 L1142.0,832.8 L1142.8,831.8 L1143.7,832.5 L1144.6,831.4 L1145.5,832.2 L1146.3,830.1 L1147.2,830.9 L1148.1,831.1 L1149.0,830.7 L1149.8,830.7 L1150.7,831.4 L1151.6,831.4 L1152.5,832.0 L1153.3,832.7 L1154.2,833.2 L1155.1,834.1 L1156.0,835.4 L1156.8,835.9 L1157.7,837.2 L1158.6,838.0 L1159.5,840.0 L1160.3,840.4 L1161.2,842.7 L1162.1,842.4 L1163.0,844.6 L1163.9,845.6 L1164.7,847.8 L1165.6,848.6 L1166.5,848.9 L1167.4,850.0 L1168.2,851.5 L1169.1,851.5 L1170.0,852.2 L1170.9,851.7 L1171.7,851.9 L1172.6,852.8 L1173.5,853.3 L1174.4,852.0 L1175.2,852.1 L1176.1,851.0 L1177.0,851.3 L1177.9,849.9 L1178.7,849.2 L1179.6,847.8 L1180.5,847.6 L1181.4,847.1 L1182.2,846.8 L1183.1,845.2 L1184.0,845.7 L1184.9,844.9 L1185.7,844.8 L1186.6,844.5 L1187.5,844.3 L1188.4,844.8 L1189.2,846.3 L1190.1,845.8 L1191.0,846.9 L1191.9,848.7 L1192.8,848.8 L1193.6,851.5 L1194.5,852.9 L1195.4,855.2 L1196.3,857.7 L1197.1,859.5 L1198.0,861.9 L1198.9,864.8 L1199.8,867.5 L1200.6,869.8 L1201.5,873.0 L1202.4,875.6 L1203.3,879.7 L1204.1,881.6 L1205.0,885.0 L1205.9,888.2 L1206.8,890.2 L1207.6,891.9 L1208.5,893.7 L1209.4,895.5 L1210.3,897.6 L1211.1,898.7 L1212.0,899.7 L1212.9,901.7 L1213.8,901.2 L1214.6,902.0 L1215.5,902.5 L1216.4,903.1 L1217.3,903.2 L1218.2,902.8 L1219.0,902.9 L1219.9,902.2 L1220.8,901.1 L1221.7,899.4 L1222.5,899.8 L1223.4,898.2 L1224.3,897.4 L1225.2,896.6 L1226.0,895.3 L1226.9,894.5 L1227.8,893.9 L1228.7,892.7 L1229.5,892.0 L1230.4,890.5 L1231.3,889.6 L1232.2,888.2 L1233.0,887.4 L1233.9,886.5 L1234.8,885.1 L1235.7,883.5 L1236.5,882.8 L1237.4,881.8 L1238.3,881.0 L1239.2,879.3 L1240.0,878.0 L1240.9,876.4 L1241.8,876.4 L1242.7,873.9 L1243.5,872.6 L1244.4,871.6 L1245.3,869.5 L1246.2,869.3 L1247.1,867.5 L1247.9,866.1 L1248.8,864.0 L1249.7,862.6 L1250.6,861.7 L1251.4,860.4 L1252.3,859.9 L1253.2,858.2 L1254.1,856.3 L1254.9,856.5 L1255.8,855.9 L1256.7,856.3 L1257.6,855.7 L1258.4,856.0 L1259.3,855.8 L1260.2,856.4 L1261.1,857.0 L1261.9,856.6 L1262.8,856.5 L1263.7,857.6 L1264.6,859.4 L1265.4,859.7 L1266.3,860.4 L1267.2,861.1 L1268.1,863.0 L1268.9,863.8 L1269.8,864.8 L1270.7,865.8 L1271.6,867.1 L1272.5,868.2 L1273.3,869.6 L1274.2,870.9 L1275.1,870.5 L1276.0,871.6 L1276.8,873.0 L1277.7,873.9 L1278.6,874.1 L1279.5,875.2 L1280.3,876.1 L1281.2,876.9 L1282.1,877.7 L1283.0,878.6 L1283.8,879.8 L1284.7,880.5 L1285.6,881.1 L1286.5,881.6 L1287.3,881.8 L1288.2,882.4 L1289.1,883.4 L1290.0,883.6 L1290.8,884.2 L1291.7,884.3 L1292.6,884.5 L1293.5,884.9 L1294.3,884.3 L1295.2,884.9 L1296.1,884.8 L1297.0,885.4 L1297.8,884.8 L1298.7,885.1 L1299.6,884.7 L1300.5,884.9 L1301.4,884.8 L1302.2,884.2 L1303.1,884.0 L1304.0,883.6 L1304.9,883.5 L1305.7,882.6 L1306.6,882.3 L1307.5,881.7 L1308.4,881.1 L1309.2,881.1 L1310.1,880.9 L1311.0,880.1 L1311.9,880.9 L1312.7,879.8 L1313.6,880.3 L1314.5,880.1 L1315.4,879.3 L1316.2,880.0 L1317.1,879.5 L1318.0,880.4 L1318.9,881.1 L1319.7,882.2 L1320.6,882.6 L1321.5,882.7 L1322.4,884.5 L1323.2,886.8 L1324.1,888.0 L1325.0,890.7 L1325.9,891.9 L1326.7,894.3 L1327.6,896.6 L1328.5,899.8 L1329.4,903.5 L1330.3,905.9 L1331.1,909.9 L1332.0,913.1 L1332.9,916.5 L1333.8,919.3 L1334.6,922.5 L1335.5,926.3 L1336.4,927.7 L1337.3,931.2 L1338.1,934.2 L1339.0,936.2 L1339.9,939.0 L1340.8,939.3 L1341.6,942.2 L1342.5,943.5 L1343.4,945.2 L1344.3,946.3 L1345.1,947.3 L1346.0,947.1 L1346.9,947.8 L1347.8,946.4 L1348.6,946.6 L1349.5,945.0 L1350.4,943.0 L1351.3,941.3 L1352.1,939.5 L1353.0,937.7 L1353.9,936.0 L1354.8,934.1 L1355.7,931.4 L1356.5,928.1 L1357.4,925.2 L1358.3,923.5 L1359.2,920.7 L1360.0,918.9 L1360.9,916.6 L1361.8,916.1 L1362.7,912.8 L1363.5,912.4 L1364.4,912.1 L1365.3,910.6 L1366.2,910.0 L1367.0,910.7 L1367.9,909.0 L1368.8,909.0 L1369.7,909.2 L1370.5,910.0 L1371.4,910.5 L1372.3,910.7 L1373.2,912.3 L1374.0,912.2 L1374.9,913.1 L1375.8,913.8 L1376.7,915.2 L1377.5,915.5 L1378.4,916.0 L1379.3,917.4 L1380.2,917.7 L1381.0,917.9 L1381.9,917.2 L1382.8,917.2 L1383.7,917.4 L1384.6,916.9 L1385.4,916.1 L1386.3,915.2 L1387.2,914.5 L1388.1,912.6 L1388.9,911.9 L1389.8,910.4 L1390.7,909.2 L1391.6,908.1 L1392.4,907.4 L1393.3,906.1 L1394.2,904.6 L1395.1,904.0 L1395.9,902.9 L1396.8,902.0 L1397.7,900.7 L1398.6,900.3 L1399.4,899.2 L1400.3,897.9 L1401.2,897.2 L1402.1,896.7 L1402.9,897.0 L1403.8,896.3 L1404.7,896.1 L1405.6,896.0 L1406.4,896.3 L1407.3,896.5 L1408.2,895.4 L1409.1,896.0 L1410.0,895.1 L1410.8,895.1 L1411.7,894.3 L1412.6,893.6 L1413.5,894.1 L1414.3,894.1 L1415.2,892.7 L1416.1,893.0 L1417.0,892.7 L1417.8,892.5 L1418.7,891.3 L1419.6,890.9 L1420.5,890.8 L1421.3,890.3 L1422.2,888.8 L1423.1,888.2 L1424.0,887.0 L1424.8,886.1 L1425.7,884.9 L1426.6,884.2 L1427.5,883.3 L1428.3,882.8 L1429.2,882.6 L1430.1,881.7 L1431.0,881.5 L1431.8,880.6 L1432.7,880.9 L1433.6,879.3 L1434.5,880.0 L1435.3,880.5 L1436.2,880.2 L1437.1,881.6 L1438.0,881.9 L1438.9,882.1 L1439.7,883.2 L1440.6,883.3 L1441.5,884.4 L1442.4,885.5 L1443.2,885.9 L1444.1,888.0 L1445.0,888.3 L1445.9,890.1 L1446.7,890.8 L1447.6,892.2 L1448.5,892.9 L1449.4,894.4 L1450.2,895.5 L1451.1,896.9 L1452.0,898.4 L1452.9,898.5 L1453.7,899.4 L1454.6,900.2 L1455.5,900.8 L1456.4,900.7 L1457.2,900.7 L1458.1,900.5 L1459.0,900.5 L1459.9,900.2 L1460.7,899.3 L1461.6,898.9 L1462.5,898.8 L1463.4,897.9 L1464.3,897.0 L1465.1,897.0 L1466.0,896.5 L1466.9,896.0 L1467.8,895.6 L1468.6,894.9 L1469.5,894.9 L1470.4,894.9 L1471.3,894.9 L1472.1,894.4 L1473.0,895.5 L1473.9,896.2 L1474.8,896.9 L1475.6,897.2 L1476.5,898.1 L1477.4,898.2 L1478.3,899.2 L1479.1,899.6 L1480.0,901.9 L1480.9,904.1 L1481.8,905.7 L1482.6,906.1 L1483.5,908.4 L1484.4,910.2 L1485.3,911.0 L1486.1,911.6 L1487.0,914.0 L1487.9,914.3 L1488.8,915.0 L1489.6,916.4 L1490.5,916.3 L1491.4,916.6 L1492.3,916.9 L1493.2,916.0 L1494.0,915.3 L1494.9,915.5 L1495.8,914.5 L1496.7,914.0 L1497.5,913.0 L1498.4,911.5 L1499.3,910.8 L1500.2,909.6 L1501.0,908.7 L1501.9,907.8 L1502.8,907.1 L1503.7,906.4 L1504.5,905.4 L1505.4,905.8 L1506.3,904.8 L1507.2,906.3 L1508.0,905.2 L1508.9,905.7 L1509.8,906.7 L1510.7,906.8 L1511.5,907.3 L1512.4,908.7 L1513.3,911.1 L1514.2,913.2 L1515.0,915.6 L1515.9,917.7 L1516.8,919.8 L1517.7,922.6 L1518.6,925.5 L1519.4,927.1 L1520.3,931.5 L1521.2,932.4 L1522.1,935.7 L1522.9,938.4 L1523.8,940.5 L1524.7,942.6 L1525.6,945.0 L1526.4,947.4 L1527.3,947.7 L1528.2,950.6 L1529.1,951.7 L1529.9,952.8 L1530.8,953.9 L1531.7,954.5 L1532.6,954.9 L1533.4,954.5 L1534.3,955.3 L1535.2,954.1 L1536.1,954.5 L1536.9,954.4 L1537.8,954.9 L1538.7,954.7 L1539.6,955.1 L1540.4,954.6 L1541.3,955.4 L1542.2,955.2 L1543.1,954.7 L1543.9,953.9 L1544.8,953.7 L1545.7,952.9 L1546.6,953.1 L1547.5,952.0 L1548.3,950.1 L1549.2,950.2 L1550.1,948.1 L1551.0,946.0 L1551.8,946.0 L1552.7,944.7 L1553.6,942.9 L1554.5,941.2 L1555.3,940.7 L1556.2,938.7 L1557.1,937.6 L1558.0,936.4 L1558.8,935.1 L1559.7,933.5 L1560.6,931.9 L1561.5,931.3 L1562.3,928.8 L1563.2,928.4 L1564.1,927.0 L1565.0,925.6 L1565.8,923.8 L1566.7,922.5 L1567.6,921.3 L1568.5,919.2 L1569.3,918.3 L1570.2,917.1 L1571.1,915.3 L1572.0,914.3 L1572.8,914.3 L1573.7,913.1 L1574.6,911.4 L1575.5,911.2 L1576.4,910.4 L1577.2,910.2 L1578.1,909.7 L1579.0,908.1 L1579.9,908.9 L1580.7,909.7 L1581.6,910.0 L1582.5,909.3 L1583.4,909.5 L1584.2,910.6 L1585.1,910.8 L1586.0,911.8 L1586.9,912.3 L1587.7,914.0 L1588.6,915.1 L1589.5,916.2 L1590.4,916.9 L1591.2,918.0 L1592.1,919.5 L1593.0,921.5 L1593.9,921.9 L1594.7,924.0 L1595.6,925.5 L1596.5,925.6 L1597.4,926.7 L1598.2,928.0 L1599.1,928.9 L1600.0,929.0 L1600.9,929.9 L1601.8,930.8 L1602.6,931.2 L1603.5,932.2 L1604.4,932.6 L1605.3,933.5 L1606.1,932.8 L1607.0,934.3 L1607.9,934.6 L1608.8,934.6 L1609.6,935.1 L1610.5,935.6 L1611.4,935.6 L1612.3,935.6 L1613.1,936.0 L1614.0,935.8 L1614.9,935.7 L1615.8,936.0 L1616.6,936.1 L1617.5,936.5 L1618.4,936.7 L1619.3,936.4 L1620.1,936.7 L1621.0,935.9 L1621.9,935.5 L1622.8,935.2 L1623.6,934.8 L1624.5,934.7 L1625.4,934.9 L1626.3,933.3 L1627.1,933.6 L1628.0,932.9 L1628.9,932.7 L1629.8,931.6 L1630.7,931.6 L1631.5,930.5 L1632.4,930.5 L1633.3,929.0 L1634.2,929.6 L1635.0,929.5 L1635.9,928.4 L1636.8,929.3 L1637.7,928.6 L1638.5,929.6 L1639.4,929.6 L1640.3,930.6 L1641.2,931.4 L1642.0,932.0 L1642.9,934.6 L1643.8,936.3 L1644.7,937.5 L1645.5,940.5 L1646.4,943.3 L1647.3,945.9 L1648.2,948.7 L1649.0,951.8 L1649.9,952.5 L1650.8,953.8 L1651.7,954.7 L1652.5,954.3 L1653.4,953.9 L1654.3,954.6 L1655.2,953.7 L1656.1,953.9 L1656.9,955.4 L1657.8,953.9 L1658.7,954.4" fill="none" stroke="#5777eb" stroke-width="7" stroke-linejoin="round" stroke-linecap="butt"/>
<circle cx="1435.5" cy="880.3" r="11.3" fill="#ffb3c1" stroke="#d90429" stroke-width="3.8"/>
<circle cx="1529.6" cy="953.4" r="11.3" fill="#90ee90" stroke="#087f5b" stroke-width="3.8"/>
<line x1="1435.5" x2="1435.5" y1="880.3" y2="862" stroke="#d90429" stroke-width="3"/>
<line x1="1529.6" x2="1529.6" y1="953.4" y2="976" stroke="#087f5b" stroke-width="3"/>
<g class="ann" text-anchor="middle">
<text x="1435.9" y="866.5" fill="#d90429" stroke="#d90429">Peak: Feb 2026</text>
<text x="1530.1" y="973.7" fill="#087f5b" stroke="#087f5b">Trough: Jun 2026</text>
</g>
<g class="tick"><text x="133.2" y="964.2" text-anchor="end">$0</text><text x="133.2" y="799.3" text-anchor="end">$5</text><text x="133.2" y="634.5" text-anchor="end">$10</text><text x="133.2" y="469.6" text-anchor="end">$15</text><text x="133.2" y="304.8" text-anchor="end">$20</text><text x="133.2" y="139.9" text-anchor="end">$25</text><text x="426.2" y="1027.8" text-anchor="middle">2023</text><text x="745.9" y="1027.8" text-anchor="middle">2024</text><text x="1066.4" y="1027.8" text-anchor="middle">2025</text><text x="1386.0" y="1027.8" text-anchor="middle">2026</text><text x="1705.7" y="1027.8" text-anchor="middle">2027</text></g>
<text class="axt" x="939.3" y="1064.7" text-anchor="middle">Date</text>
<text class="axt" transform="translate(65.8,558) rotate(-90)" text-anchor="middle">Price (USD)</text>
<g>
<rect x="182.2" y="76" width="38.3" height="9.2" fill="#4361ee"/>
<rect x="366.3" y="76" width="38.5" height="9.2" fill="#2b2d42"/>
<rect x="689.2" y="59" width="44" height="44" fill="#add8e6" fill-opacity="0.5"/>
<rect x="971" y="59" width="44" height="44" fill="#f08080" fill-opacity="0.5"/>
</g>
<g class="leg">
<text x="240.2" y="89.7">Forecast</text>
<text x="424.4" y="89.7">Historical Price</text>
<text x="749.5" y="89.7">60% Confidence</text>
<text x="1032" y="89.7">Potential Resistance</text>
</g>
</svg>
</body></html>
